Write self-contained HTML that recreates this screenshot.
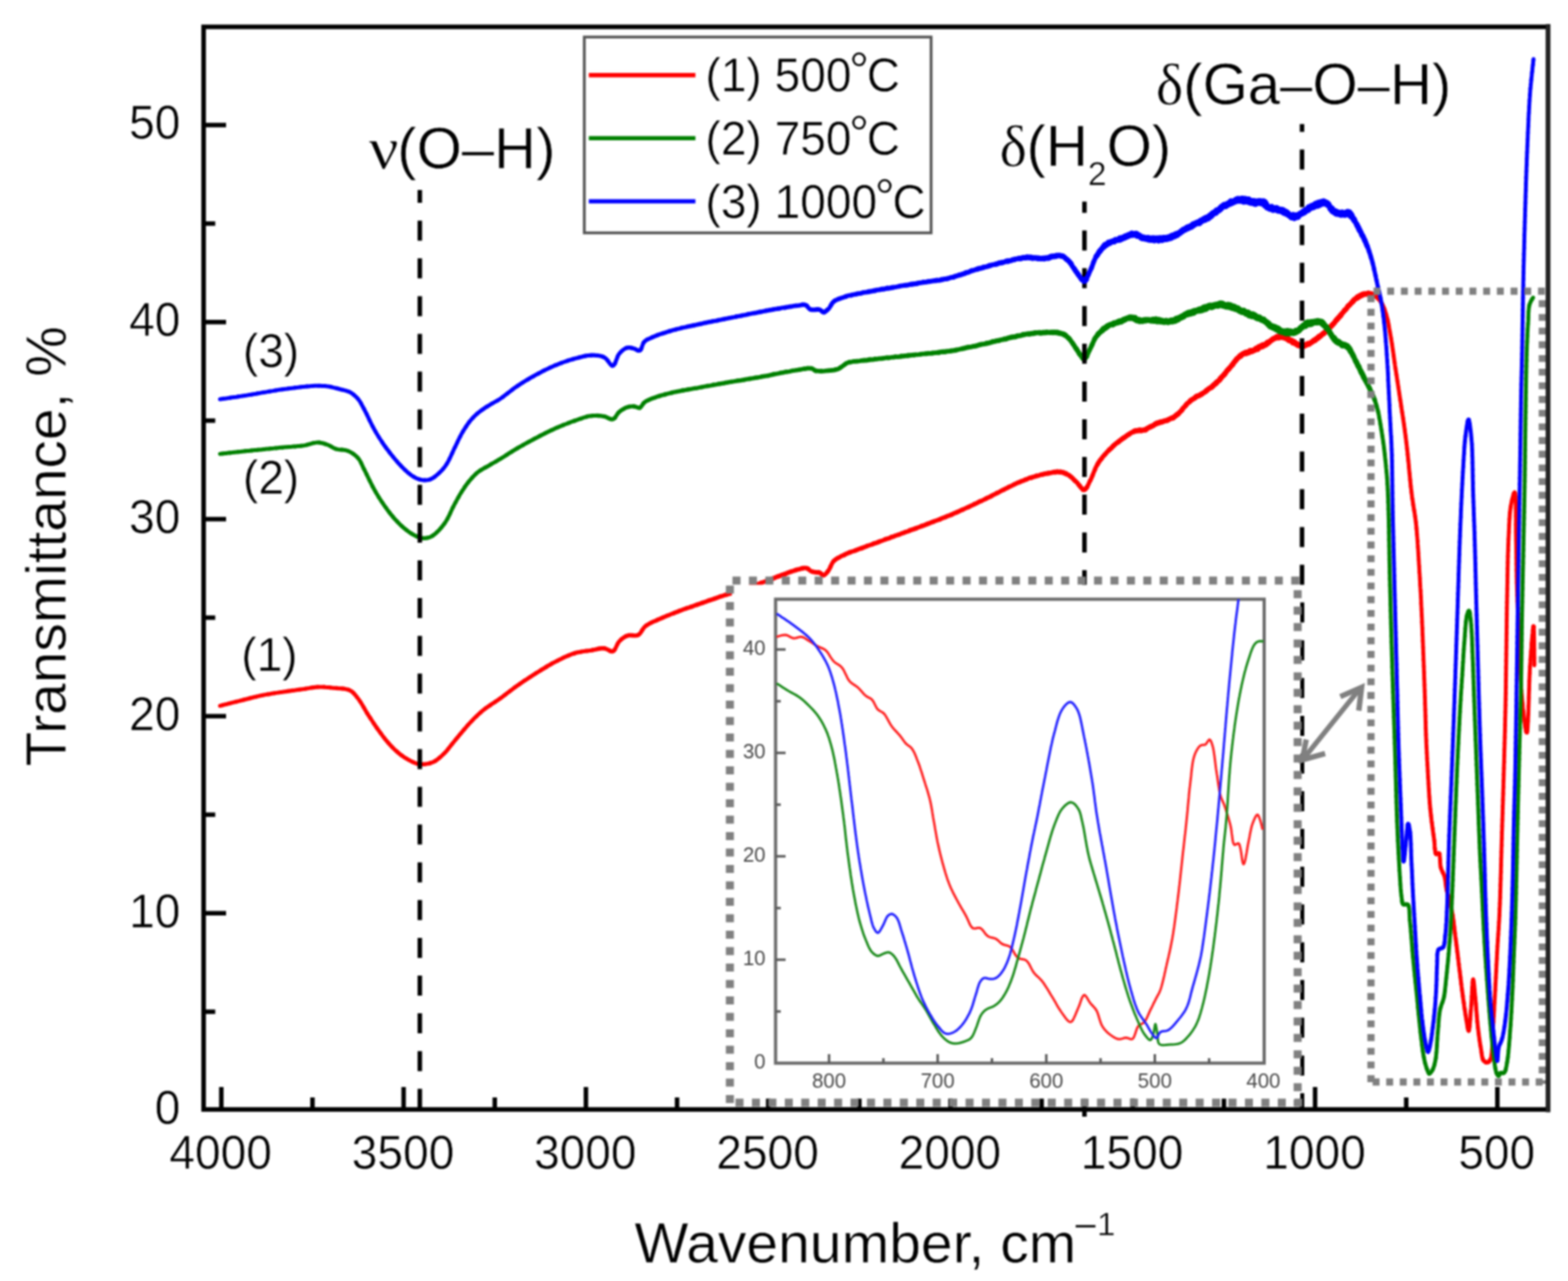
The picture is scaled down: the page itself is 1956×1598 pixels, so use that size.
<!DOCTYPE html>
<html lang="en">
<head>
<meta charset="utf-8">
<title>FTIR transmittance spectra</title>
<style>
html,body{margin:0;padding:0;background:#fff}
body{width:1956px;height:1598px;overflow:hidden}
svg{display:block}
</style>
</head>
<body>
<svg width="1956" height="1598" viewBox="0 0 1956 1598" role="img" aria-label="FTIR transmittance spectra">
<defs><filter id="soft" x="0" y="0" width="100%" height="100%" filterUnits="userSpaceOnUse" color-interpolation-filters="sRGB"><feGaussianBlur stdDeviation="0.9"/></filter></defs>
<g filter="url(#soft)">
<rect width="1956" height="1598" fill="#fff"/>
<g stroke="#000" stroke-width="5.6" fill="none">
<line x1="276.1" y1="1356" x2="276.1" y2="1384"/>
<line x1="503.5" y1="1356" x2="503.5" y2="1384"/>
<line x1="730.9" y1="1356" x2="730.9" y2="1384"/>
<line x1="958.3" y1="1356" x2="958.3" y2="1384"/>
<line x1="1185.7" y1="1356" x2="1185.7" y2="1384"/>
<line x1="1413.1" y1="1356" x2="1413.1" y2="1384"/>
<line x1="1640.5" y1="1356" x2="1640.5" y2="1384"/>
<line x1="1867.9" y1="1356" x2="1867.9" y2="1384"/>
<line x1="389.8" y1="1369" x2="389.8" y2="1384"/>
<line x1="617.2" y1="1369" x2="617.2" y2="1384"/>
<line x1="844.6" y1="1369" x2="844.6" y2="1384"/>
<line x1="1072.0" y1="1369" x2="1072.0" y2="1384"/>
<line x1="1299.4" y1="1369" x2="1299.4" y2="1384"/>
<line x1="1526.8" y1="1369" x2="1526.8" y2="1384"/>
<line x1="1754.2" y1="1369" x2="1754.2" y2="1384"/>
<line x1="254" y1="1139.2" x2="282" y2="1139.2"/>
<line x1="254" y1="893.4" x2="282" y2="893.4"/>
<line x1="254" y1="647.6" x2="282" y2="647.6"/>
<line x1="254" y1="401.8" x2="282" y2="401.8"/>
<line x1="254" y1="156.0" x2="282" y2="156.0"/>
<line x1="254" y1="1262.1" x2="268.5" y2="1262.1"/>
<line x1="254" y1="1016.3" x2="268.5" y2="1016.3"/>
<line x1="254" y1="770.5" x2="268.5" y2="770.5"/>
<line x1="254" y1="524.7" x2="268.5" y2="524.7"/>
<line x1="254" y1="278.9" x2="268.5" y2="278.9"/>
</g>
<g fill="none" stroke="#ff0000" stroke-linecap="round" stroke-linejoin="round"><path stroke-width="5.0" d="M274.5 880.5L274.7 880.5L275.4 880.2L276.4 880L277.8 879.6"/><path stroke-width="5.0" d="M277.8 879.7L279.4 879.2L281.3 878.7L283.5 878.2L285.7 877.6"/><path stroke-width="5.0" d="M285.7 877.7L288.1 877L290.5 876.4L293 875.8L295.4 875.2"/><path stroke-width="5.0" d="M295.4 875.1L297.8 874.6L300 874L302.1 873.5L304 873"/><path stroke-width="5.0" d="M304 873L306 872.5L308 872L309.9 871.5L311.8 871"/><path stroke-width="5.0" d="M311.8 871L313.8 870.5L315.7 870L317.6 869.5L319.5 869.1"/><path stroke-width="5.0" d="M319.5 869.1L321.4 868.7L323.3 868.2L325.2 867.8L327.1 867.4"/><path stroke-width="5.0" d="M327.1 867.4L329 867L330.9 866.6L332.8 866.3L334.8 866"/><path stroke-width="5.0" d="M334.8 865.9L336.7 865.7L338.6 865.3L340.5 865L342.4 864.7"/><path stroke-width="5.0" d="M342.4 864.7L344.4 864.4L346.3 864.1L348.2 863.9L350.1 863.6"/><path stroke-width="5.1" d="M350.1 863.5L352.1 863.3L354 863L355.9 862.7L357.9 862.4"/><path stroke-width="5.1" d="M357.9 862.5L359.9 862.1L361.8 861.9L363.8 861.5L365.8 861.3"/><path stroke-width="5.0" d="M365.8 861.4L367.8 861.1L369.7 860.8L371.6 860.5L373.5 860.3"/><path stroke-width="5.0" d="M373.5 860.3L375.4 860L377.2 859.7L379 859.5L381.1 859.2"/><path stroke-width="5.0" d="M381.1 859.2L383.1 858.8L385.1 858.5L387 858.1L388.9 857.8"/><path stroke-width="5.1" d="M388.9 857.9L390.8 857.6L392.7 857.4L394.6 857.1L396.5 857"/><path stroke-width="5.0" d="M396.5 857L398.4 857L400.3 856.9L402.2 857L404.2 857.1"/><path stroke-width="5.0" d="M404.2 857.1L406.1 857.3L408 857.4L410 857.5L412 857.8"/><path stroke-width="5.0" d="M412 857.8L414 858.1L415.8 858.2L417.7 858.3L419.7 858.4"/><path stroke-width="5.1" d="M419.7 858.4L421.7 858.6L423.7 858.7L425.8 858.9L427.8 859.1"/><path stroke-width="5.1" d="M427.8 859L429.7 859.3L431.6 859.7L433.4 860L435 860.6"/><path stroke-width="5.0" d="M435 860.6L436.5 861.2L438.1 862.1L439.5 863.1L440.8 864.3"/><path stroke-width="5.0" d="M440.8 864.3L441.9 865.5L443.1 866.9L444.2 868.3L445.3 869.7"/><path stroke-width="4.9" d="M445.3 869.7L446.5 871.2L447.6 872.6L448.6 874.2L449.7 875.7"/><path stroke-width="4.9" d="M449.7 875.7L450.7 877.3L451.7 879L452.8 880.8L453.8 882.6"/><path stroke-width="5.0" d="M453.8 882.5L454.8 884.3L455.9 886.1L456.9 887.9L457.9 889.6"/><path stroke-width="5.0" d="M457.9 889.6L459 891.3L460 892.9L461.1 894.5L462.1 896"/><path stroke-width="4.9" d="M462.1 896L463.1 897.6L464.2 899.2L465.2 900.8L466.2 902.4"/><path stroke-width="5.0" d="M466.2 902.3L467.3 903.9L468.3 905.5L469.4 907L470.4 908.5"/><path stroke-width="5.0" d="M470.4 908.5L471.5 910L472.6 911.5L473.7 913.1L474.8 914.6"/><path stroke-width="4.9" d="M474.8 914.6L476 916.1L477.1 917.7L478.2 919.2L479.4 920.6"/><path stroke-width="5.0" d="M479.4 920.7L480.5 922.1L481.7 923.5L482.8 924.9L484 926.2"/><path stroke-width="5.0" d="M484 926.2L485.3 927.8L486.7 929.3L488.1 930.8L489.4 932.2"/><path stroke-width="5.0" d="M489.4 932.2L490.8 933.5L492.2 934.9L493.6 936.3L495.1 937.5"/><path stroke-width="5.1" d="M495.1 937.5L496.5 938.7L498 940L499.5 941.2L501.1 942.4"/><path stroke-width="5.1" d="M501.1 942.4L502.7 943.5L504.2 944.6L505.8 945.6L507.4 946.5"/><path stroke-width="5.0" d="M507.4 946.5L509 947.5L510.8 948.5L512.5 949.4L514.4 950.4"/><path stroke-width="5.1" d="M514.4 950.4L516.2 951.2L518 951.9L519.8 952.5L521.5 952.9"/><path stroke-width="5.2" d="M521.5 953L523.5 953.3L525.6 953.5L527.5 953.4L529.5 953.3"/><path stroke-width="5.1" d="M529.5 953.2L531.5 953L533.2 952.7L534.8 952.4L536.5 952"/><path stroke-width="5.1" d="M536.5 952L538.2 951.4L539.8 950.9L541.5 950L542.9 949.2"/><path stroke-width="5.1" d="M542.9 949.3L544.3 948.3L545.7 947.4L547.1 946.2L548.5 945.1"/><path stroke-width="5.0" d="M548.5 945L549.9 943.8L551.3 942.6L552.7 941.2L554 940"/><path stroke-width="5.0" d="M554 940L555.3 938.7L556.6 937.3L557.9 935.8L559.1 934.3"/><path stroke-width="5.0" d="M559.1 934.3L560.3 932.7L561.6 931.2L562.8 929.6L564 928"/><path stroke-width="5.0" d="M564 928.1L565.3 926.5L566.5 925L567.7 923.5L569 922"/><path stroke-width="5.0" d="M569 922L570.2 920.5L571.5 919L572.7 917.4L574 915.9"/><path stroke-width="5.0" d="M574 916L575.2 914.5L576.5 913L577.7 911.5L579 910"/><path stroke-width="5.0" d="M579 910L580.2 908.6L581.5 907.1L582.7 905.7L583.9 904.3"/><path stroke-width="5.0" d="M583.9 904.3L585.2 902.9L586.4 901.6L587.7 900.2L589 898.9"/><path stroke-width="5.0" d="M589 898.9L590.2 897.6L591.5 896.2L592.8 895L594.2 893.7"/><path stroke-width="5.0" d="M594.2 893.7L595.5 892.4L596.8 891.1L598.2 890L599.5 888.7"/><path stroke-width="5.0" d="M599.5 888.7L601 887.5L602.4 886.2L604 885L605.4 883.9"/><path stroke-width="5.1" d="M605.4 883.9L606.8 882.9L608.3 881.9L609.8 880.8L611.3 879.8"/><path stroke-width="5.1" d="M611.3 879.8L612.9 878.7L614.5 877.7L616.1 876.7L617.7 875.6"/><path stroke-width="5.1" d="M617.7 875.5L619.3 874.4L620.9 873.5L622.5 872.3L624 871.2"/><path stroke-width="5.1" d="M624 871.3L625.5 870.2L627.1 869L628.6 867.8L630.1 866.7"/><path stroke-width="5.1" d="M630.1 866.7L631.6 865.5L633.2 864.3L634.7 863.2L636.2 862"/><path stroke-width="5.0" d="M636.2 862.1L637.7 860.9L639.3 859.7L640.8 858.5L642.4 857.4"/><path stroke-width="5.1" d="M642.4 857.4L644 856.2L645.6 855.1L647.1 854.1L648.7 853"/><path stroke-width="5.1" d="M648.7 852.9L650.3 851.9L651.8 850.8L653.4 849.7L655 848.6"/><path stroke-width="5.1" d="M655 848.6L656.7 847.6L658.3 846.5L659.9 845.5L661.5 844.4"/><path stroke-width="5.1" d="M661.5 844.4L663.2 843.3L664.8 842.2L666.5 841.2L668.1 840.2"/><path stroke-width="5.1" d="M668.1 840.2L669.7 839.1L671.4 838.2L673 837.2L674.7 836"/><path stroke-width="5.2" d="M674.7 836.1L676.3 835L678 834.1L679.7 833L681.4 832"/><path stroke-width="5.2" d="M681.4 832L683 830.9L684.7 830L686.4 829.1L688.1 828.1"/><path stroke-width="5.1" d="M688.1 828L689.8 827.1L691.5 826.2L693.3 825.3L695 824.4"/><path stroke-width="5.1" d="M695 824.4L696.8 823.4L698.6 822.6L700.4 821.7L702.2 820.8"/><path stroke-width="5.1" d="M702.2 820.8L704 819.9L705.8 819.1L707.6 818.3L709.4 817.6"/><path stroke-width="5.2" d="M709.4 817.7L711.2 816.9L713 816.2L714.8 815.5L716.5 815.1"/><path stroke-width="5.2" d="M716.5 815L718.5 814.3L720.4 813.9L722.4 813.5L724.3 813.2"/><path stroke-width="5.2" d="M724.3 813.2L726.3 812.8L728.2 812.5L730.1 812.2L732 812"/><path stroke-width="5.2" d="M732 812L733.9 811.8L735.7 811.5L737.5 811.3L739.4 810.9"/><path stroke-width="5.3" d="M739.4 810.9L741.3 810.5L743.2 810.2L745.1 809.6L746.9 809.3"/><path stroke-width="5.4" d="M746.9 809.2L748.7 809L750.4 808.8L752.1 808.6L753.8 808.8"/><path stroke-width="5.3" d="M753.8 808.8L755.7 809.3L757.6 810.2L759.5 811.1L761.3 812.1"/><path stroke-width="5.3" d="M761.3 812.1L762.9 812.7L764.5 812.6L765.7 811.8L766.7 810.6"/><path stroke-width="5.0" d="M766.7 810.5L767.7 808.9L768.6 807L769.5 805.1L770.4 803.2"/><path stroke-width="5.1" d="M770.4 803.2L771.4 801.5L772.5 800L773.8 798.8L775.1 797.6"/><path stroke-width="5.2" d="M775.1 797.4L776.5 796.5L777.9 795.4L779.4 794.5L780.9 793.7"/><path stroke-width="5.4" d="M780.9 793.6L782.5 793.1L784.3 792.5L786.3 792.4L788.4 792.6"/><path stroke-width="5.4" d="M788.4 792.5L790.5 792.8L792.6 792.9L794.5 792.6L796.2 792"/><path stroke-width="5.1" d="M796.2 792L797.7 791L798.9 789.6L800 788L801.1 786.1"/><path stroke-width="5.1" d="M801.1 786.2L802.2 784.5L803.5 782.7L805 781.3L806.3 780.2"/><path stroke-width="5.2" d="M806.3 780.2L807.7 779.4L809.2 778.5L810.8 777.6L812.5 776.7"/><path stroke-width="5.3" d="M812.5 776.7L814.2 775.9L816 775.1L817.8 774.5L819.6 773.5"/><path stroke-width="5.4" d="M819.6 773.7L821.4 772.7L823.2 772L825 771.3L826.7 770.6"/><path stroke-width="5.3" d="M826.7 770.4L828.4 769.7L830.1 769.1L831.9 768.2L833.7 767.6"/><path stroke-width="5.3" d="M833.7 767.6L835.5 766.9L837.3 766L839.1 765.5L840.9 764.7"/><path stroke-width="5.5" d="M840.9 764.7L842.7 763.9L844.6 763.4L846.4 762.6L848.2 761.8"/><path stroke-width="5.3" d="M848.2 761.9L850 761.2L851.8 760.5L853.6 759.8L855.3 759.3"/><path stroke-width="5.4" d="M855.3 759.4L857.1 758.5L858.9 758.1L860.7 757.5L862.5 756.7"/><path stroke-width="5.5" d="M862.5 756.9L864.3 756.3L866.1 755.5L867.9 754.9L869.6 754.3"/><path stroke-width="5.5" d="M869.6 754.4L871.4 753.7L873.2 753.1L875 752.4L876.8 751.7"/><path stroke-width="5.4" d="M876.8 752L878.6 751.2L880.5 750.7L882.4 749.8L884.3 749.1"/><path stroke-width="5.5" d="M884.3 749.1L886.2 748.5L888 748L889.9 747.3L891.7 746.7"/><path stroke-width="5.5" d="M891.7 746.7L893.5 746.1L895.2 745.4L896.9 744.9L898.5 744.1"/><path stroke-width="5.5" d="M898.5 744.2L900 743.8L902 743.2L903.7 742.5L905.3 742"/><path stroke-width="5.6" d="M905.3 742L906.9 741.7L908.6 741.1L910.4 740.6L912.5 740.1"/><path stroke-width="5.6" d="M912.5 739.9L913.9 739.6L915.5 739L917.1 738.5L918.8 737.9"/><path stroke-width="5.4" d="M918.8 737.8L920.6 737.3L922.4 736.9L924.3 736.1L926.2 735.3"/><path stroke-width="5.6" d="M926.2 735.6L928.2 734.8L930.2 734L932.2 733.3L934.2 732.6"/><path stroke-width="5.5" d="M934.2 732.6L936.2 731.9L938.2 731.2L940.1 730.7L942 730.1"/><path stroke-width="5.6" d="M942 729.9L943.9 729.3L945.7 728.6L947.5 728L949.4 727.2"/><path stroke-width="5.4" d="M949.4 727.2L951.4 726.7L953.3 725.7L955.2 725.1L957.1 724.4"/><path stroke-width="5.7" d="M957.1 724.3L959 723.6L960.8 722.9L962.7 722.2L964.5 721.5"/><path stroke-width="5.7" d="M964.5 721.6L966.3 720.9L968.1 720L969.8 719.3L971.6 718.8"/><path stroke-width="5.7" d="M971.6 718.8L973.3 718.2L975 717.3L977 716.7L978.9 716.2"/><path stroke-width="5.7" d="M978.9 716.2L980.8 715.5L982.7 714.5L984.6 713.8L986.4 713.1"/><path stroke-width="5.6" d="M986.4 713.3L988.3 712.7L990 712.1L991.7 711.5L993.4 711"/><path stroke-width="5.6" d="M993.4 710.9L995 710.3L997.1 710.1L999.1 709.3L1001.1 709.1"/><path stroke-width="5.7" d="M1001.1 708.9L1002.9 708.5L1004.6 708.5L1006.2 708.8L1007.9 709.6"/><path stroke-width="5.4" d="M1007.9 709.4L1009.4 710.7L1010.8 712L1012.5 713L1014 713.3"/><path stroke-width="5.7" d="M1014 713.2L1015.8 713.6L1017.6 713.8L1019.3 714.1L1021 714.2"/><path stroke-width="5.7" d="M1021 714.1L1022.5 714.4L1024.3 715.6L1025.9 717.1L1027.5 717.6"/><path stroke-width="5.4" d="M1027.5 717.4L1028.8 717L1030 716L1031.3 714.5L1032.6 712.8"/><path stroke-width="5.3" d="M1032.6 712.9L1033.8 711.2L1034.7 709.7L1035.5 708.2L1036.2 706.5"/><path stroke-width="5.3" d="M1036.2 706.5L1037 704.9L1037.8 703.1L1038.8 701.5L1040 699.9"/><path stroke-width="5.6" d="M1040 699.9L1041.3 698.9L1042.7 697.6L1044.3 696.6L1045.9 695.8"/><path stroke-width="5.5" d="M1045.9 695.8L1047.7 694.8L1049.5 693.7L1051.3 692.9L1053.2 692.1"/><path stroke-width="5.7" d="M1053.2 692.3L1055 691.1L1056.7 690.5L1058.3 689.7L1060 689.3"/><path stroke-width="5.5" d="M1060 688.9L1061.7 688.3L1063.5 687.8L1065.3 687.3L1067.1 686.7"/><path stroke-width="5.7" d="M1067.1 686.7L1069 686L1070.9 685.1L1072.9 684.4L1075 683.9"/><path stroke-width="5.7" d="M1075 683.6L1076.6 683.2L1078.3 682.5L1080 681.9L1081.7 681.2"/><path stroke-width="5.5" d="M1081.7 681.1L1083.6 680.5L1085.4 679.9L1087.3 679.4L1089.2 678.4"/><path stroke-width="5.8" d="M1089.2 678.4L1091.1 677.8L1093 677.2L1095 676.5L1096.9 675.7"/><path stroke-width="5.5" d="M1096.9 675.7L1098.9 674.9L1100.9 674.4L1102.9 673.4L1104.8 672.8"/><path stroke-width="5.7" d="M1104.8 672.6L1106.8 672.1L1108.7 671.5L1110.6 670.8L1112.5 669.8"/><path stroke-width="5.5" d="M1112.5 669.8L1114.4 669.5L1116.2 668.5L1118.1 668L1120 667.4"/><path stroke-width="5.6" d="M1120 667.2L1121.9 666.8L1123.7 665.9L1125.6 665.1L1127.5 664.6"/><path stroke-width="5.6" d="M1127.5 664.5L1129.4 663.7L1131.2 663.3L1133.1 662.7L1135 661.9"/><path stroke-width="5.8" d="M1135 661.6L1136.8 661L1138.7 660.4L1140.6 659.9L1142.5 659.2"/><path stroke-width="5.6" d="M1142.5 659L1144.4 658.3L1146.2 657.7L1148.1 657.1L1150 656.1"/><path stroke-width="5.7" d="M1150 656.3L1151.8 655.7L1153.6 655L1155.5 654.2L1157.3 653.4"/><path stroke-width="5.6" d="M1157.3 653.5L1159.1 652.9L1160.9 652L1162.8 651.3L1164.6 650.8"/><path stroke-width="5.5" d="M1164.6 650.6L1166.4 649.9L1168.3 649.4L1170.1 648.6L1171.9 648.1"/><path stroke-width="5.7" d="M1171.9 648.1L1173.8 647.2L1175.6 646.4L1177.4 645.7L1179.3 645.1"/><path stroke-width="5.7" d="M1179.3 645L1181.1 644.2L1182.9 643.5L1184.8 642.9L1186.6 642.1"/><path stroke-width="5.7" d="M1186.6 642.2L1188.5 641.3L1190.3 640.3L1192.1 639.8L1193.9 638.9"/><path stroke-width="5.6" d="M1193.9 638.9L1195.6 638.2L1197.4 637.2L1199.2 636.4L1201 635.6"/><path stroke-width="5.5" d="M1201 635.8L1202.8 634.9L1204.6 634L1206.4 633.2L1208.2 632.6"/><path stroke-width="5.6" d="M1208.2 632.3L1210 631.6L1211.8 630.7L1213.6 630L1215.4 628.8"/><path stroke-width="5.6" d="M1215.4 629.1L1217.2 628.2L1219 627.4L1220.9 626.2L1222.7 625.4"/><path stroke-width="5.5" d="M1222.7 625.4L1224.5 624.8L1226.3 623.8L1228.2 623L1230 622"/><path stroke-width="5.7" d="M1230 622L1231.7 621.1L1233.4 620.4L1235.2 619.6L1237 618.5"/><path stroke-width="5.6" d="M1237 618.6L1238.7 617.6L1240.5 616.7L1242.3 615.8L1244.1 614.8"/><path stroke-width="5.5" d="M1244.1 615L1245.9 614.1L1247.7 613L1249.6 612L1251.4 611.2"/><path stroke-width="5.7" d="M1251.4 611.1L1253.2 610.3L1255 609.3L1256.7 608.6L1258.5 607.6"/><path stroke-width="5.5" d="M1258.5 607.5L1260.3 606.7L1262 605.9L1263.7 605.1L1265.4 604.1"/><path stroke-width="5.6" d="M1265.4 604.3L1267.1 603.4L1268.7 602.6L1270.3 601.9L1271.9 601.5"/><path stroke-width="5.7" d="M1271.9 601.3L1273.5 600.6L1275 600L1277 599.4L1278.9 598.7"/><path stroke-width="5.7" d="M1278.9 598.3L1280.8 597.9L1282.6 597L1284.4 596.2L1286.2 596"/><path stroke-width="5.8" d="M1286.2 596L1288 595.2L1289.7 594.9L1291.4 594.2L1293.1 593.6"/><path stroke-width="5.7" d="M1293.1 593.8L1294.8 593.4L1296.5 593L1298.3 592.2L1300 592.1"/><path stroke-width="5.9" d="M1300 592L1301.9 591.4L1303.9 591L1305.9 590.7L1307.9 590.5"/><path stroke-width="5.8" d="M1307.9 590.2L1309.9 590L1311.9 589.7L1313.8 589L1315.7 588.7"/><path stroke-width="6.2" d="M1315.7 589.2L1317.6 588.7L1319.3 588.4L1321 588.9L1322.5 588.7"/><path stroke-width="6.2" d="M1322.5 588.8L1324.4 589.2L1326.2 589.3L1327.8 590.2L1329.4 590.6"/><path stroke-width="5.9" d="M1329.4 591L1330.9 591.8L1332.5 592.3L1334 593.3L1335.5 594.5"/><path stroke-width="5.8" d="M1335.5 594.5L1336.9 595.6L1338.3 596.9L1339.7 598.5L1341.1 599.9"/><path stroke-width="5.6" d="M1341.1 599.7L1342.5 601.1L1343.8 602.2L1345.1 604.1L1346.4 605.5"/><path stroke-width="5.8" d="M1346.4 605.6L1347.7 607.3L1348.9 608.7L1350.2 610L1351.4 610.8"/><path stroke-width="5.9" d="M1351.4 610.9L1352.5 611L1353.7 610.5L1354.8 609.1L1355.9 607.8"/><path stroke-width="5.4" d="M1355.9 607.7L1356.9 605.9L1357.9 603.8L1358.9 601.5L1360 599.4"/><path stroke-width="5.4" d="M1360 599.4L1360.8 597.9L1361.5 596.5L1362.2 594.8L1362.9 593.1"/><path stroke-width="5.3" d="M1362.9 593L1363.6 591.4L1364.3 589.5L1365 587.9L1365.8 586.1"/><path stroke-width="5.4" d="M1365.8 585.9L1366.5 584.2L1367.3 582.4L1368.2 580.9L1369.1 579"/><path stroke-width="5.8" d="M1369.1 579.3L1370 577.6L1371.1 576L1372.2 574.2L1373.4 572.9"/><path stroke-width="5.8" d="M1373.4 573L1374.6 571.4L1375.8 569.6L1377.1 568.4L1378.4 567"/><path stroke-width="5.7" d="M1378.4 566.7L1379.7 565.5L1381 563.8L1382.4 562.8L1383.7 561.2"/><path stroke-width="6.1" d="M1383.7 561.1L1385 560L1386.5 558.8L1387.9 557.1L1389.4 555.8"/><path stroke-width="6.0" d="M1389.4 555.8L1390.9 554.4L1392.4 553.2L1393.9 552L1395.4 551.2"/><path stroke-width="6.2" d="M1395.4 551.2L1396.9 549.6L1398.5 548.8L1400 547.3L1401.6 546.3"/><path stroke-width="6.2" d="M1401.6 546.2L1403.3 545.3L1405 543.9L1406.6 542.7L1408.3 541.8"/><path stroke-width="6.1" d="M1408.3 541.9L1410 540.6L1411.7 539.5L1413.3 538.9L1415 537.8"/><path stroke-width="6.8" d="M1415 538.1L1416.8 537.4L1418.6 537.4L1420.3 537L1422.1 536.8"/><path stroke-width="6.7" d="M1422.1 536.6L1423.9 537.2L1425.7 536.5L1427.5 536.4L1429.1 536.1"/><path stroke-width="6.5" d="M1429.1 535.8L1430.7 534.8L1432.3 533.8L1433.9 533L1435.6 532.1"/><path stroke-width="6.6" d="M1435.6 532.3L1437.2 531.5L1438.9 530.8L1440.7 529.3L1442.5 528.5"/><path stroke-width="6.8" d="M1442.5 528.4L1444.1 527.7L1445.7 527.4L1447.4 526.6L1449.2 526.2"/><path stroke-width="6.5" d="M1449.2 526.4L1451 525.9L1452.8 525L1454.6 524.8L1456.4 524"/><path stroke-width="6.5" d="M1456.4 524.4L1458.2 523.2L1460 522.3L1461.7 521.5L1463.4 521.1"/><path stroke-width="6.7" d="M1463.4 521.2L1465 519.9L1466.5 518.8L1467.9 517.5L1469.3 516.7"/><path stroke-width="6.3" d="M1469.3 516.5L1470.6 515.4L1471.9 513.9L1473.2 512.8L1474.5 511.2"/><path stroke-width="6.1" d="M1474.5 511.3L1475.8 509.2L1477.1 508.1L1478.4 506.5L1479.6 505"/><path stroke-width="6.2" d="M1479.6 505.4L1480.9 503.4L1482.3 502.5L1483.6 501.5L1485 499.7"/><path stroke-width="6.5" d="M1485 500.1L1486.6 498.8L1488.3 497.7L1490 496.8L1491.7 495.2"/><path stroke-width="6.7" d="M1491.7 495.3L1493.4 494L1495.1 493.9L1496.8 492.8L1498.5 491.8"/><path stroke-width="6.5" d="M1498.5 491.9L1500.2 490.8L1501.9 489.6L1503.5 488.8L1505 487.5"/><path stroke-width="6.6" d="M1505 487.1L1506.6 486.1L1508.2 484.7L1509.8 483.8L1511.3 483"/><path stroke-width="6.9" d="M1511.3 483L1512.8 481.7L1514.2 480.1L1515.7 479.1L1517.1 477.7"/><path stroke-width="6.8" d="M1517.1 477.8L1518.6 476.2L1520 475.1L1521.3 474.1L1522.6 472.1"/><path stroke-width="6.7" d="M1522.6 471.9L1523.9 470.7L1525.1 469.2L1526.4 468.1L1527.7 466.7"/><path stroke-width="6.6" d="M1527.7 466.2L1528.9 465.1L1530.1 463.2L1531.4 461.6L1532.6 460.6"/><path stroke-width="6.6" d="M1532.6 460.5L1533.8 459L1535 457.9L1536.3 456L1537.5 454.8"/><path stroke-width="6.7" d="M1537.5 454.8L1538.7 453L1539.8 451.7L1541 450.2L1542.2 448.6"/><path stroke-width="6.6" d="M1542.2 448.8L1543.4 447L1544.7 446.4L1546.1 444.5L1547.5 443.3"/><path stroke-width="7.0" d="M1547.5 444.2L1549.1 442.6L1550.7 441.4L1552.4 440.5L1554.2 439.8"/><path stroke-width="7.7" d="M1554.2 440.5L1556 439.9L1557.9 439.3L1559.7 437.8L1561.5 437.8"/><path stroke-width="7.3" d="M1561.5 438.1L1563.3 437.4L1565 436.7L1566.7 434.9L1568.5 435.1"/><path stroke-width="7.8" d="M1568.5 435.2L1570.2 433.4L1571.9 432.6L1573.6 431.7L1575.2 430.8"/><path stroke-width="7.7" d="M1575.2 431.7L1576.8 430.6L1578.4 430L1580 428.9L1581.6 427.5"/><path stroke-width="6.8" d="M1581.6 427.3L1583.2 427L1584.7 425.3L1586.2 424.3L1587.7 423.3"/><path stroke-width="7.0" d="M1587.7 423.1L1589.1 422.2L1590.6 421.9L1592 420.8L1593.6 420.3"/><path stroke-width="8.2" d="M1593.6 420.5L1595.2 420.6L1596.8 420.1L1598.4 419.4L1600 420.1"/><path stroke-width="7.4" d="M1600 420.5L1601.5 420.4L1603.1 421.5L1604.7 422.1L1606.3 422.7"/><path stroke-width="7.7" d="M1606.3 422.6L1608 424.4L1609.6 424.6L1611.3 425.2L1612.9 426.2"/><path stroke-width="7.6" d="M1612.9 427.1L1614.5 426.9L1616.1 428.4L1617.8 429.3L1619.4 430.5"/><path stroke-width="7.4" d="M1619.4 430.1L1621.1 430.6L1622.8 431.7L1624.4 431.1L1626 431.8"/><path stroke-width="7.3" d="M1626 430.9L1627.7 431.1L1629.3 430.3L1631 429.1L1632.7 428.9"/><path stroke-width="6.9" d="M1632.7 429L1634.3 428L1636 427.1L1637.6 425.9L1639.1 424.7"/><path stroke-width="7.1" d="M1639.1 424.8L1640.7 424.3L1642.2 422.4L1643.7 422.1L1645.3 420"/><path stroke-width="6.8" d="M1645.3 420.3L1646.8 419.7L1648.3 418.1L1649.8 416.8L1651.2 416.1"/><path stroke-width="6.8" d="M1651.2 415.7L1652.6 414.5L1654.1 413.4L1655.6 412L1657 410.6"/><path stroke-width="6.7" d="M1657 410.3L1658.4 408.7L1659.7 407.9L1661.1 406.4L1662.4 405"/><path stroke-width="6.5" d="M1662.4 404.7L1663.8 403.5L1665.1 402L1666.3 400.1L1667.6 399"/><path stroke-width="6.9" d="M1667.6 398.8L1668.9 397.3L1670.1 395.9L1671.3 394.7L1672.6 393.3"/><path stroke-width="6.4" d="M1672.6 392.8L1673.8 391.4L1675.1 390L1676.3 388.6L1677.6 386.8"/><path stroke-width="6.5" d="M1677.6 386.8L1678.8 386L1680.1 384.3L1681.3 382.2L1682.5 381.5"/><path stroke-width="6.6" d="M1682.5 381L1683.8 380.1L1685.1 378.6L1686.4 377.2L1687.8 375.7"/><path stroke-width="6.8" d="M1687.8 375.9L1689.1 374.1L1690.5 373L1691.9 372.1L1693.3 370.6"/><path stroke-width="7.3" d="M1693.3 371.4L1694.8 370.3L1696.2 369.2L1697.6 368.7L1699.5 367.6"/><path stroke-width="7.1" d="M1699.5 367.8L1701.4 366.9L1703.2 366.7L1705.1 366.6L1707 366"/><path stroke-width="6.8" d="M1707 366.3L1708.9 366.3L1710.9 366.6L1712.8 367.7L1714.7 368.7"/><path stroke-width="6.0" d="M1714.7 368.5L1716.4 369.7L1717.6 370.6L1718.8 371.7L1719.9 372.9"/><path stroke-width="5.3" d="M1719.9 373L1721 374.2L1722 375.8L1723 377.4L1723.9 379"/><path stroke-width="5.1" d="M1723.9 378.9L1724.7 380.3L1725.4 381.8L1726.1 383.4L1726.7 385"/><path stroke-width="5.1" d="M1726.7 385L1727.3 386.6L1727.9 388.4L1728.5 390.2L1729 392"/><path stroke-width="5.0" d="M1729 392L1729.6 393.9L1730 395.5L1730.5 397.1L1730.9 398.9"/><path stroke-width="5.0" d="M1730.9 398.9L1731.3 400.6L1731.7 402.4L1732 404.3L1732.4 406.2"/><path stroke-width="4.9" d="M1732.4 406.2L1732.8 408.1L1733.1 410L1733.5 412L1733.8 414"/><path stroke-width="4.9" d="M1733.8 414L1734.2 416L1734.5 418L1734.9 420L1735.2 422"/><path stroke-width="4.9" d="M1735.2 422L1735.5 423.7L1735.8 425.5L1736.1 427.3L1736.4 429.2"/><path stroke-width="4.9" d="M1736.4 429.2L1736.7 431L1736.9 432.9L1737.2 434.7L1737.5 436.7"/><path stroke-width="4.9" d="M1737.5 436.6L1737.8 438.5L1738.1 440.5L1738.3 442.4L1738.6 444.3"/><path stroke-width="4.9" d="M1738.6 444.3L1738.9 446.2L1739.1 448.2L1739.4 450.1L1739.7 452"/><path stroke-width="4.9" d="M1739.7 452L1740 453.9L1740.2 455.8L1740.5 457.7L1740.8 459.6"/><path stroke-width="4.9" d="M1740.8 459.6L1741.1 461.6L1741.4 463.5L1741.7 465.5L1742 467.5"/><path stroke-width="4.9" d="M1742 467.5L1742.3 469.5L1742.6 471.4L1742.9 473.4L1743.2 475.4"/><path stroke-width="4.9" d="M1743.2 475.4L1743.5 477.4L1743.8 479.3L1744.1 481.3L1744.4 483.3"/><path stroke-width="4.9" d="M1744.4 483.3L1744.7 485.3L1745 487.2L1745.3 489.2L1745.6 491.2"/><path stroke-width="4.9" d="M1745.6 491.2L1745.9 493.2L1746.2 495.1L1746.5 497.1L1746.8 499"/><path stroke-width="4.9" d="M1746.8 499L1747.1 500.9L1747.4 502.8L1747.7 504.7L1747.9 506.6"/><path stroke-width="4.9" d="M1747.9 506.6L1748.2 508.5L1748.5 510.5L1748.8 512.4L1749.1 514.3"/><path stroke-width="4.9" d="M1749.1 514.4L1749.4 516.3L1749.7 518.2L1750 520.1L1750.3 522"/><path stroke-width="4.9" d="M1750.3 522L1750.6 523.9L1750.8 525.7L1751.1 527.5L1751.4 529.4"/><path stroke-width="4.9" d="M1751.4 529.4L1751.6 531.2L1751.9 533L1752.1 534.7L1752.4 536.7"/><path stroke-width="4.9" d="M1752.4 536.7L1752.6 538.7L1752.9 540.6L1753.2 542.5L1753.4 544.4"/><path stroke-width="4.9" d="M1753.4 544.4L1753.6 546.2L1753.9 548.1L1754.1 549.9L1754.3 551.8"/><path stroke-width="4.9" d="M1754.3 551.7L1754.5 553.7L1754.8 555.6L1755 557.6L1755.2 559.8"/><path stroke-width="4.9" d="M1755.2 559.8L1755.5 562L1755.7 563.6L1755.9 565.3L1756 567.1"/><path stroke-width="4.9" d="M1756 567.1L1756.2 568.8L1756.4 570.7L1756.6 572.5L1756.8 574.4"/><path stroke-width="4.9" d="M1756.8 574.4L1757 576.4L1757.2 578.3L1757.4 580.3L1757.5 582.4"/><path stroke-width="4.9" d="M1757.5 582.3L1757.7 584.4L1757.9 586.4L1758.1 588.4L1758.3 590.5"/><path stroke-width="4.9" d="M1758.3 590.5L1758.5 592.6L1758.7 594.6L1758.9 596.7L1759.1 598.7"/><path stroke-width="4.9" d="M1759.1 598.7L1759.3 600.7L1759.5 602.8L1759.7 604.7L1759.9 606.7"/><path stroke-width="4.9" d="M1759.9 606.7L1760.1 608.6L1760.4 610.5L1760.6 612.4L1760.8 614.2"/><path stroke-width="4.9" d="M1760.8 614.2L1761 616L1761.3 618L1761.5 620L1761.8 622"/><path stroke-width="4.9" d="M1761.8 622L1762.1 623.9L1762.4 625.8L1762.7 627.7L1762.9 629.5"/><path stroke-width="4.9" d="M1762.9 629.5L1763.2 631.3L1763.5 633.1L1763.8 635L1764.1 636.8"/><path stroke-width="4.9" d="M1764.1 636.7L1764.4 638.6L1764.7 640.4L1765 642.3L1765.2 644.1"/><path stroke-width="4.9" d="M1765.2 644.1L1765.5 646L1765.8 648L1766 649.9L1766.3 651.9"/><path stroke-width="4.9" d="M1766.3 651.9L1766.5 654L1766.7 655.7L1766.9 657.5L1767 659.3"/><path stroke-width="4.9" d="M1767 659.3L1767.2 661.2L1767.4 663L1767.5 664.9L1767.7 666.8"/><path stroke-width="4.8" d="M1767.7 666.7L1767.8 668.7L1768 670.6L1768.1 672.5L1768.3 674.4"/><path stroke-width="4.8" d="M1768.3 674.4L1768.4 676.4L1768.5 678.4L1768.7 680.3L1768.8 682.3"/><path stroke-width="4.8" d="M1768.8 682.3L1768.9 684.3L1769.1 686.3L1769.2 688.3L1769.3 690.2"/><path stroke-width="4.8" d="M1769.3 690.3L1769.4 692.2L1769.5 694.3L1769.7 696.2L1769.8 698.2"/><path stroke-width="4.8" d="M1769.8 698.2L1769.9 700.2L1770 702.2L1770.1 704.2L1770.3 706.1"/><path stroke-width="4.8" d="M1770.3 706.1L1770.4 708.1L1770.5 710L1770.6 711.9L1770.7 713.9"/><path stroke-width="4.8" d="M1770.7 713.9L1770.9 715.8L1771 717.7L1771.1 719.6L1771.2 721.6"/><path stroke-width="4.8" d="M1771.2 721.6L1771.3 723.5L1771.4 725.4L1771.5 727.4L1771.6 729.3"/><path stroke-width="4.8" d="M1771.6 729.3L1771.7 731.2L1771.8 733.2L1772 735.1L1772.1 737"/><path stroke-width="4.8" d="M1772.1 737L1772.2 738.9L1772.3 740.9L1772.4 742.8L1772.5 744.7"/><path stroke-width="4.8" d="M1772.5 744.7L1772.6 746.7L1772.7 748.6L1772.8 750.5L1772.8 752.5"/><path stroke-width="4.8" d="M1772.8 752.5L1772.9 754.4L1773 756.3L1773.1 758.2L1773.2 760.2"/><path stroke-width="4.8" d="M1773.2 760.2L1773.3 762.1L1773.4 764.1L1773.5 766L1773.6 768"/><path stroke-width="4.8" d="M1773.6 768L1773.7 769.9L1773.8 771.9L1773.9 773.9L1773.9 775.9"/><path stroke-width="4.8" d="M1773.9 775.9L1774 777.9L1774.1 779.8L1774.2 781.8L1774.3 783.8"/><path stroke-width="4.8" d="M1774.3 783.8L1774.4 785.8L1774.4 787.8L1774.5 789.8L1774.6 791.8"/><path stroke-width="4.8" d="M1774.6 791.8L1774.7 793.8L1774.8 795.8L1774.8 797.8L1774.9 799.8"/><path stroke-width="4.8" d="M1774.9 799.8L1775 801.8L1775.1 803.7L1775.1 805.7L1775.2 807.7"/><path stroke-width="4.8" d="M1775.2 807.7L1775.3 809.6L1775.4 811.6L1775.4 813.5L1775.5 815.4"/><path stroke-width="4.8" d="M1775.5 815.4L1775.6 817.3L1775.7 819.2L1775.7 821.1L1775.8 823"/><path stroke-width="4.8" d="M1775.8 823L1775.9 825L1776 827.1L1776 829.1L1776.1 831.1"/><path stroke-width="4.8" d="M1776.1 831.1L1776.2 833.1L1776.3 835L1776.3 837L1776.4 838.9"/><path stroke-width="4.8" d="M1776.4 839L1776.5 840.9L1776.5 842.8L1776.6 844.8L1776.7 846.7"/><path stroke-width="4.8" d="M1776.7 846.7L1776.8 848.6L1776.8 850.5L1776.9 852.5L1777 854.4"/><path stroke-width="4.8" d="M1777 854.4L1777 856.3L1777.1 858.3L1777.2 860.2L1777.2 862.1"/><path stroke-width="4.8" d="M1777.2 862.1L1777.3 864.1L1777.4 866L1777.4 868L1777.5 870"/><path stroke-width="4.8" d="M1777.5 870L1777.6 871.9L1777.6 873.8L1777.7 875.7L1777.7 877.7"/><path stroke-width="4.8" d="M1777.7 877.7L1777.8 879.6L1777.8 881.5L1777.9 883.5L1778 885.4"/><path stroke-width="4.8" d="M1778 885.5L1778 887.4L1778.1 889.4L1778.1 891.3L1778.2 893.3"/><path stroke-width="4.8" d="M1778.2 893.3L1778.2 895.2L1778.3 897.2L1778.3 899.2L1778.4 901.1"/><path stroke-width="4.8" d="M1778.4 901.1L1778.4 903L1778.5 905L1778.5 906.9L1778.6 908.8"/><path stroke-width="4.8" d="M1778.6 908.8L1778.7 910.7L1778.7 912.6L1778.8 914.5L1778.9 916.3"/><path stroke-width="4.8" d="M1778.9 916.3L1778.9 918.2L1779 920L1779.1 922L1779.2 924"/><path stroke-width="4.8" d="M1779.2 924L1779.2 925.9L1779.3 927.8L1779.4 929.7L1779.5 931.6"/><path stroke-width="4.8" d="M1779.5 931.6L1779.6 933.5L1779.7 935.4L1779.8 937.2L1779.9 939.1"/><path stroke-width="4.8" d="M1779.9 939.1L1780 941L1780.1 942.8L1780.1 944.7L1780.2 946.5"/><path stroke-width="4.8" d="M1780.2 946.5L1780.3 948.4L1780.5 950.3L1780.6 952.2L1780.7 954.1"/><path stroke-width="4.8" d="M1780.7 954.1L1780.8 956.1L1780.9 958L1781 960L1781.1 961.9"/><path stroke-width="4.8" d="M1781.1 961.9L1781.2 963.8L1781.3 965.7L1781.4 967.6L1781.5 969.6"/><path stroke-width="4.8" d="M1781.5 969.6L1781.6 971.6L1781.8 973.5L1781.9 975.5L1782 977.5"/><path stroke-width="4.8" d="M1782 977.6L1782.1 979.6L1782.2 981.6L1782.3 983.6L1782.5 985.6"/><path stroke-width="4.8" d="M1782.5 985.6L1782.6 987.6L1782.7 989.6L1782.8 991.6L1783 993.6"/><path stroke-width="4.9" d="M1783 993.7L1783.1 995.6L1783.3 997.6L1783.4 999.5L1783.5 1001.5"/><path stroke-width="4.9" d="M1783.5 1001.5L1783.7 1003.4L1783.9 1005.3L1784 1007.2L1784.2 1009"/><path stroke-width="4.9" d="M1784.2 1009L1784.4 1011.1L1784.6 1013.2L1784.9 1015.3L1785.1 1017.4"/><path stroke-width="4.9" d="M1785.1 1017.4L1785.3 1019.6L1785.6 1021.7L1785.8 1023.8L1786.1 1025.8"/><path stroke-width="4.9" d="M1786.1 1025.8L1786.4 1027.8L1786.6 1029.9L1786.9 1031.9L1787.2 1033.9"/><path stroke-width="4.9" d="M1787.2 1033.8L1787.4 1035.8L1787.7 1037.7L1787.9 1039.5L1788.2 1041.3"/><path stroke-width="4.9" d="M1788.2 1041.4L1788.4 1043.1L1788.7 1044.8L1788.9 1046.5L1789.2 1048.8"/><path stroke-width="4.9" d="M1789.2 1048.8L1789.4 1051.1L1789.6 1053.5L1789.7 1055.9L1789.9 1058.2"/><path stroke-width="5.0" d="M1789.9 1058.2L1790.1 1060.2L1790.4 1062L1790.7 1063.5L1791.1 1064.6"/><path stroke-width="5.6" d="M1791.1 1064.5L1791.7 1065.4L1793.3 1064.8L1794.9 1064.5L1795.5 1065.3"/><path stroke-width="4.9" d="M1795.5 1065.2L1795.8 1066.6L1796.1 1068.4L1796.3 1070.7L1796.4 1073.1"/><path stroke-width="4.9" d="M1796.4 1073.1L1796.5 1075.6L1796.7 1078L1796.9 1080.3L1797.3 1082.2"/><path stroke-width="5.0" d="M1797.3 1082.2L1797.9 1083.9L1798.5 1085.6L1799.3 1087.1L1800 1088.7"/><path stroke-width="5.1" d="M1800 1088.7L1800.8 1090.2L1801.4 1091.8L1802 1093.5L1802.4 1095.3"/><path stroke-width="4.9" d="M1802.4 1095.2L1802.7 1097L1803 1098.7L1803.2 1100.5L1803.4 1102.4"/><path stroke-width="4.9" d="M1803.4 1102.4L1803.6 1104.4L1803.9 1106.4L1804.3 1108.5L1804.6 1110.1"/><path stroke-width="5.0" d="M1804.6 1110.2L1805 1111.9L1805.5 1113.7L1806 1115.6L1806.5 1117.5"/><path stroke-width="5.0" d="M1806.5 1117.5L1807 1119.5L1807.5 1121.5L1808 1123.5L1808.6 1125.5"/><path stroke-width="5.0" d="M1808.6 1125.5L1809.1 1127.5L1809.6 1129.6L1810.1 1131.6L1810.6 1133.7"/><path stroke-width="4.9" d="M1810.6 1133.6L1811 1135.6L1811.4 1137.6L1811.7 1139.5L1812.1 1141.3"/><path stroke-width="4.9" d="M1812.1 1141.3L1812.4 1143.2L1812.6 1145L1812.9 1146.8L1813.1 1148.7"/><path stroke-width="4.9" d="M1813.1 1148.7L1813.4 1150.5L1813.6 1152.3L1813.8 1154.2L1814 1156.1"/><path stroke-width="4.9" d="M1814 1156L1814.2 1157.9L1814.5 1159.8L1814.7 1161.7L1814.9 1163.7"/><path stroke-width="4.9" d="M1814.9 1163.7L1815.2 1165.7L1815.4 1167.6L1815.7 1169.4L1815.9 1171.3"/><path stroke-width="4.9" d="M1815.9 1171.3L1816.2 1173.2L1816.4 1175.2L1816.7 1177.2L1816.9 1179.1"/><path stroke-width="4.9" d="M1816.9 1179.1L1817.2 1181.1L1817.4 1183.2L1817.7 1185.1L1817.9 1187.2"/><path stroke-width="4.9" d="M1817.9 1187.2L1818.2 1189.2L1818.4 1191.2L1818.7 1193.3L1818.9 1195.3"/><path stroke-width="4.9" d="M1818.9 1195.3L1819.2 1197.3L1819.4 1199.3L1819.7 1201.3L1819.9 1203.3"/><path stroke-width="4.9" d="M1819.9 1203.3L1820.1 1205.3L1820.4 1207.3L1820.6 1209.3L1820.9 1211.2"/><path stroke-width="4.9" d="M1820.9 1211.2L1821.1 1213.2L1821.4 1215.3L1821.6 1217.2L1821.9 1219.3"/><path stroke-width="4.9" d="M1821.9 1219.3L1822.1 1221.2L1822.3 1223.2L1822.6 1225.2L1822.8 1227.2"/><path stroke-width="4.9" d="M1822.8 1227.2L1823.1 1229.2L1823.3 1231.1L1823.6 1233.1L1823.8 1235"/><path stroke-width="4.9" d="M1823.8 1235.1L1824.1 1237L1824.3 1238.9L1824.6 1240.8L1824.9 1242.8"/><path stroke-width="4.9" d="M1824.9 1242.8L1825.1 1244.8L1825.4 1246.8L1825.7 1248.8L1826 1250.8"/><path stroke-width="4.9" d="M1826 1250.8L1826.3 1252.8L1826.5 1254.8L1826.8 1256.8L1827.1 1258.8"/><path stroke-width="4.9" d="M1827.1 1258.8L1827.4 1260.7L1827.7 1262.6L1827.9 1264.4L1828.2 1266.2"/><path stroke-width="4.9" d="M1828.2 1266.2L1828.5 1267.9L1828.8 1269.6L1829 1271.2L1829.3 1272.7"/><path stroke-width="4.9" d="M1829.3 1272.7L1829.7 1275.1L1830.1 1277.7L1830.5 1280.2L1831 1282.4"/><path stroke-width="5.1" d="M1831 1282.4L1831.4 1284.3L1831.7 1285.5L1832.1 1285.9L1832.3 1285.6"/><path stroke-width="4.9" d="M1832.3 1285.7L1832.6 1284.9L1832.8 1283.8L1833 1282.4L1833.2 1280.6"/><path stroke-width="4.9" d="M1833.2 1280.6L1833.4 1278.5L1833.6 1276.3L1833.8 1274L1834 1271.5"/><path stroke-width="4.9" d="M1834 1271.5L1834.2 1269L1834.4 1266.5L1834.5 1264.1L1834.7 1261.8"/><path stroke-width="4.9" d="M1834.7 1261.8L1834.9 1259.6L1835.1 1257.7L1835.2 1255.6L1835.4 1253.3"/><path stroke-width="4.8" d="M1835.4 1253.3L1835.5 1250.8L1835.7 1248.3L1835.8 1245.7L1835.9 1243"/><path stroke-width="4.8" d="M1835.9 1243L1836.1 1240.4L1836.2 1237.8L1836.4 1235.3L1836.5 1232.9"/><path stroke-width="4.9" d="M1836.5 1232.9L1836.6 1230.6L1836.8 1228.5L1836.9 1226.7L1837.1 1225.1"/><path stroke-width="5.0" d="M1837.1 1225.1L1837.2 1223.8L1837.4 1222.8L1837.5 1222.2L1837.7 1222"/><path stroke-width="5.0" d="M1837.7 1222L1837.9 1222.3L1838.1 1223.1L1838.3 1224.2L1838.5 1225.8"/><path stroke-width="4.9" d="M1838.5 1225.8L1838.8 1227.7L1839 1229.8L1839.2 1232.2L1839.4 1234.6"/><path stroke-width="4.9" d="M1839.4 1234.6L1839.6 1237.1L1839.9 1239.6L1840.1 1242.1L1840.3 1244.4"/><path stroke-width="4.9" d="M1840.3 1244.4L1840.5 1246.5L1840.7 1248.3L1840.8 1250.1L1841 1251.9"/><path stroke-width="4.9" d="M1841 1251.9L1841.2 1253.8L1841.3 1255.6L1841.5 1257.5L1841.6 1259.4"/><path stroke-width="4.9" d="M1841.6 1259.4L1841.8 1261.4L1841.9 1263.3L1842.1 1265.2L1842.2 1267.1"/><path stroke-width="4.9" d="M1842.2 1267.1L1842.4 1269.1L1842.6 1271L1842.7 1272.8L1842.9 1274.7"/><path stroke-width="4.9" d="M1842.9 1274.7L1843.1 1276.6L1843.3 1278.4L1843.5 1280.4L1843.7 1282.3"/><path stroke-width="4.9" d="M1843.7 1282.3L1844 1284.3L1844.2 1286.2L1844.4 1288.2L1844.7 1290.1"/><path stroke-width="4.9" d="M1844.7 1290.1L1844.9 1292.1L1845.2 1294L1845.4 1295.9L1845.7 1297.7"/><path stroke-width="4.9" d="M1845.7 1297.8L1846 1299.6L1846.2 1301.4L1846.5 1303.1L1846.8 1304.8"/><path stroke-width="4.9" d="M1846.8 1304.8L1847.1 1306.5L1847.5 1308.7L1847.8 1310.9L1848.1 1313.1"/><path stroke-width="4.9" d="M1848.1 1313.1L1848.4 1315.3L1848.7 1317.4L1849.1 1319.2L1849.6 1320.9"/><path stroke-width="5.3" d="M1849.6 1320.8L1850.2 1322.4L1850.9 1323.3L1852.4 1324.5L1854 1325.2"/><path stroke-width="5.4" d="M1854 1325.4L1855.6 1325.3L1857 1324.8L1858.2 1323.3L1859.3 1321.5"/><path stroke-width="5.0" d="M1859.3 1321.6L1859.7 1320.6L1860.1 1319.2L1860.4 1317.8L1860.6 1316.2"/><path stroke-width="4.9" d="M1860.6 1316.2L1860.8 1314.4L1861 1312.5L1861.1 1310.5L1861.3 1308.3"/><path stroke-width="4.8" d="M1861.3 1308.3L1861.4 1306.1L1861.4 1303.9L1861.5 1301.6L1861.6 1299.2"/><path stroke-width="4.8" d="M1861.6 1299.2L1861.7 1296.9L1861.8 1294.6L1861.8 1292.2L1862 1290"/><path stroke-width="4.9" d="M1862 1290L1862.1 1287.8L1862.2 1286L1862.4 1284.2L1862.5 1282.3"/><path stroke-width="4.8" d="M1862.5 1282.3L1862.6 1280.5L1862.7 1278.6L1862.8 1276.7L1863 1274.8"/><path stroke-width="4.8" d="M1863 1274.8L1863.1 1272.9L1863.2 1270.9L1863.3 1269L1863.4 1267"/><path stroke-width="4.9" d="M1863.4 1267L1863.5 1265.1L1863.7 1263.1L1863.8 1261.1L1863.9 1259.1"/><path stroke-width="4.8" d="M1863.9 1259.1L1864 1257.1L1864.1 1255.1L1864.2 1253L1864.3 1251"/><path stroke-width="4.8" d="M1864.3 1251L1864.4 1249L1864.6 1246.9L1864.7 1244.9L1864.8 1242.8"/><path stroke-width="4.8" d="M1864.8 1242.9L1864.9 1240.8L1865 1238.9L1865.1 1237.1L1865.2 1235.2"/><path stroke-width="4.8" d="M1865.2 1235.2L1865.3 1233.3L1865.4 1231.3L1865.5 1229.4L1865.6 1227.5"/><path stroke-width="4.8" d="M1865.6 1227.5L1865.7 1225.5L1865.8 1223.5L1865.9 1221.6L1866 1219.6"/><path stroke-width="4.8" d="M1866 1219.6L1866.1 1217.6L1866.2 1215.6L1866.3 1213.6L1866.4 1211.7"/><path stroke-width="4.8" d="M1866.4 1211.6L1866.5 1209.7L1866.6 1207.7L1866.7 1205.7L1866.8 1203.7"/><path stroke-width="4.8" d="M1866.8 1203.7L1866.9 1201.8L1867 1199.8L1867.1 1197.8L1867.2 1195.9"/><path stroke-width="4.8" d="M1867.2 1195.9L1867.3 1194L1867.4 1192L1867.5 1190.1L1867.6 1188.2"/><path stroke-width="4.8" d="M1867.6 1188.2L1867.7 1186.4L1867.8 1184.5L1867.9 1182.5L1868 1180.5"/><path stroke-width="4.8" d="M1868 1180.5L1868.1 1178.5L1868.3 1176.6L1868.4 1174.7L1868.5 1172.8"/><path stroke-width="4.8" d="M1868.5 1172.8L1868.6 1171L1868.7 1169.1L1868.9 1167.3L1869 1165.4"/><path stroke-width="4.8" d="M1869 1165.4L1869.1 1163.6L1869.2 1161.8L1869.4 1159.9L1869.5 1158"/><path stroke-width="4.8" d="M1869.5 1158L1869.6 1156.1L1869.7 1154.2L1869.8 1152.3L1869.9 1150.3"/><path stroke-width="4.8" d="M1869.9 1150.3L1870.1 1148.3L1870.2 1146.3L1870.3 1144.2L1870.4 1142"/><path stroke-width="4.8" d="M1870.4 1142L1870.5 1139.8L1870.6 1137.6L1870.7 1135.9L1870.7 1134.2"/><path stroke-width="4.8" d="M1870.7 1134.2L1870.8 1132.5L1870.9 1130.8L1871 1129L1871 1127.2"/><path stroke-width="4.8" d="M1871 1127.2L1871.1 1125.4L1871.2 1123.6L1871.2 1121.7L1871.3 1119.8"/><path stroke-width="4.8" d="M1871.3 1119.8L1871.4 1117.9L1871.4 1116L1871.5 1114.1L1871.5 1112.1"/><path stroke-width="4.8" d="M1871.5 1112.1L1871.6 1110.2L1871.7 1108.2L1871.7 1106.2L1871.8 1104.2"/><path stroke-width="4.8" d="M1871.8 1104.2L1871.8 1102.2L1871.9 1100.1L1872 1098.1L1872 1096.1"/><path stroke-width="4.8" d="M1872 1096.1L1872.1 1094L1872.1 1091.9L1872.2 1089.9L1872.3 1087.8"/><path stroke-width="4.8" d="M1872.3 1087.8L1872.3 1085.7L1872.4 1083.6L1872.4 1081.6L1872.5 1079.5"/><path stroke-width="4.8" d="M1872.5 1079.5L1872.5 1077.4L1872.6 1075.3L1872.6 1073.2L1872.7 1071.1"/><path stroke-width="4.8" d="M1872.7 1071.1L1872.8 1069L1872.8 1066.9L1872.9 1064.9L1872.9 1062.8"/><path stroke-width="4.8" d="M1872.9 1062.8L1873 1060.7L1873 1058.7L1873.1 1056.6L1873.2 1054.6"/><path stroke-width="4.8" d="M1873.2 1054.6L1873.2 1052.5L1873.3 1050.5L1873.3 1048.5L1873.4 1046.5"/><path stroke-width="4.8" d="M1873.4 1046.5L1873.5 1044.5L1873.5 1042.5L1873.6 1040.5L1873.6 1038.5"/><path stroke-width="4.8" d="M1873.6 1038.5L1873.7 1036.5L1873.8 1034.5L1873.8 1032.5L1873.9 1030.5"/><path stroke-width="4.8" d="M1873.9 1030.5L1873.9 1028.5L1874 1026.4L1874.1 1024.4L1874.1 1022.4"/><path stroke-width="4.8" d="M1874.1 1022.4L1874.2 1020.4L1874.3 1018.3L1874.3 1016.3L1874.4 1014.3"/><path stroke-width="4.8" d="M1874.4 1014.3L1874.4 1012.2L1874.5 1010.2L1874.6 1008.2L1874.6 1006.1"/><path stroke-width="4.8" d="M1874.6 1006.1L1874.7 1004.1L1874.8 1002.1L1874.8 1000.1L1874.9 998"/><path stroke-width="4.8" d="M1874.9 998L1874.9 996L1875 994L1875.1 992L1875.1 989.9"/><path stroke-width="4.8" d="M1875.1 989.9L1875.2 987.9L1875.2 985.9L1875.3 983.9L1875.4 981.9"/><path stroke-width="4.8" d="M1875.4 981.9L1875.4 979.9L1875.5 977.9L1875.5 975.9L1875.6 974"/><path stroke-width="4.8" d="M1875.6 974L1875.7 972L1875.7 970L1875.8 968.1L1875.8 966.1"/><path stroke-width="4.8" d="M1875.8 966.1L1875.9 964.2L1875.9 962.2L1876 960.3L1876 958.4"/><path stroke-width="4.8" d="M1876 958.4L1876.1 956.5L1876.1 954.6L1876.2 952.7L1876.3 950.6"/><path stroke-width="4.8" d="M1876.3 950.6L1876.3 948.6L1876.4 946.5L1876.4 944.5L1876.5 942.6"/><path stroke-width="4.8" d="M1876.5 942.6L1876.5 940.6L1876.6 938.6L1876.6 936.7L1876.7 934.8"/><path stroke-width="4.8" d="M1876.7 934.8L1876.8 932.9L1876.8 931L1876.9 929.1L1876.9 927.2"/><path stroke-width="4.8" d="M1876.9 927.2L1877 925.3L1877 923.4L1877.1 921.5L1877.1 919.7"/><path stroke-width="4.8" d="M1877.1 919.7L1877.2 917.8L1877.2 915.9L1877.3 914L1877.3 912.1"/><path stroke-width="4.8" d="M1877.3 912.1L1877.4 910.2L1877.4 908.3L1877.5 906.4L1877.5 904.5"/><path stroke-width="4.8" d="M1877.5 904.5L1877.5 902.5L1877.6 900.6L1877.6 898.6L1877.7 896.6"/><path stroke-width="4.8" d="M1877.7 896.6L1877.7 894.6L1877.8 892.6L1877.8 890.5L1877.9 888.4"/><path stroke-width="4.8" d="M1877.9 888.4L1877.9 886.3L1878 884.2L1878 882L1878.1 879.8"/><path stroke-width="4.8" d="M1878.1 879.8L1878.1 877.6L1878.1 875.9L1878.2 874.1L1878.2 872.3"/><path stroke-width="4.8" d="M1878.2 872.3L1878.2 870.5L1878.3 868.7L1878.3 866.8L1878.3 865"/><path stroke-width="4.8" d="M1878.3 865L1878.4 863.1L1878.4 861.1L1878.4 859.2L1878.5 857.3"/><path stroke-width="4.8" d="M1878.5 857.3L1878.5 855.3L1878.5 853.3L1878.5 851.3L1878.6 849.3"/><path stroke-width="4.8" d="M1878.6 849.3L1878.6 847.3L1878.6 845.3L1878.7 843.2L1878.7 841.2"/><path stroke-width="4.8" d="M1878.7 841.2L1878.7 839.1L1878.7 837L1878.8 834.9L1878.8 832.9"/><path stroke-width="4.8" d="M1878.8 832.9L1878.8 830.7L1878.9 828.6L1878.9 826.5L1878.9 824.4"/><path stroke-width="4.8" d="M1878.9 824.4L1878.9 822.3L1879 820.2L1879 818L1879 815.9"/><path stroke-width="4.8" d="M1879 815.9L1879 813.8L1879.1 811.6L1879.1 809.5L1879.1 807.4"/><path stroke-width="4.8" d="M1879.1 807.4L1879.2 805.2L1879.2 803.1L1879.2 801L1879.2 798.9"/><path stroke-width="4.8" d="M1879.2 798.9L1879.3 796.8L1879.3 794.7L1879.3 792.5L1879.3 790.5"/><path stroke-width="4.8" d="M1879.3 790.5L1879.4 788.4L1879.4 786.3L1879.4 784.2L1879.5 782.2"/><path stroke-width="4.8" d="M1879.5 782.2L1879.5 780.1L1879.5 778.1L1879.5 776.1L1879.6 774.1"/><path stroke-width="4.8" d="M1879.6 774.1L1879.6 772.1L1879.6 770.1L1879.7 768.1L1879.7 766.2"/><path stroke-width="4.8" d="M1879.7 766.2L1879.7 764.3L1879.7 762.3L1879.8 760.4L1879.8 758.6"/><path stroke-width="4.8" d="M1879.8 758.6L1879.8 756.7L1879.9 754.9L1879.9 753.1L1879.9 751.3"/><path stroke-width="4.8" d="M1879.9 751.3L1880 749.5L1880 747.8L1880 745.6L1880.1 743.3"/><path stroke-width="4.8" d="M1880.1 743.3L1880.1 741.1L1880.2 738.9L1880.2 736.7L1880.2 734.6"/><path stroke-width="4.8" d="M1880.2 734.6L1880.3 732.4L1880.3 730.3L1880.4 728.1L1880.4 726"/><path stroke-width="4.8" d="M1880.4 726L1880.4 723.9L1880.5 721.8L1880.5 719.7L1880.5 717.7"/><path stroke-width="4.8" d="M1880.5 717.7L1880.6 715.6L1880.6 713.6L1880.7 711.6L1880.7 709.6"/><path stroke-width="4.8" d="M1880.7 709.6L1880.7 707.6L1880.8 705.6L1880.8 703.6L1880.9 701.7"/><path stroke-width="4.8" d="M1880.9 701.7L1880.9 699.8L1880.9 697.9L1881 696L1881 694.1"/><path stroke-width="4.8" d="M1881 694.1L1881.1 692.2L1881.1 690.4L1881.2 688.5L1881.3 686.7"/><path stroke-width="4.8" d="M1881.3 686.7L1881.3 684.9L1881.4 683.1L1881.4 681.3L1881.5 679.6"/><path stroke-width="4.8" d="M1881.5 679.6L1881.6 677.8L1881.6 676.1L1881.7 674.4L1881.8 672.7"/><path stroke-width="4.8" d="M1881.8 672.7L1881.9 670.4L1882 668.2L1882.1 666L1882.2 663.8"/><path stroke-width="4.8" d="M1882.2 663.8L1882.3 661.6L1882.4 659.4L1882.5 657.3L1882.6 655.2"/><path stroke-width="4.8" d="M1882.6 655.2L1882.7 653.1L1882.8 651.1L1882.9 649.1L1883 647.1"/><path stroke-width="4.9" d="M1883 647.1L1883.2 645.2L1883.3 643.3L1883.4 641.4L1883.6 639.6"/><path stroke-width="4.9" d="M1883.6 639.6L1883.8 637.8L1884 636.1L1884.2 634.5L1884.4 632.9"/><path stroke-width="4.9" d="M1884.4 632.8L1884.7 631.3L1885.1 628.9L1885.6 626.4L1886.2 623.8"/><path stroke-width="5.0" d="M1886.2 623.9L1886.8 621.4L1887.4 619.2L1887.9 617.3L1888.5 615.7"/><path stroke-width="5.4" d="M1888.5 615.6L1889 614.8L1889.4 614.4L1889.6 614.7L1889.8 615.1"/><path stroke-width="4.9" d="M1889.8 615L1889.9 615.7L1890.1 616.5L1890.2 617.5L1890.3 618.8"/><path stroke-width="4.8" d="M1890.3 618.8L1890.4 620.2L1890.5 621.8L1890.6 623.5L1890.7 625.4"/><path stroke-width="4.8" d="M1890.7 625.4L1890.7 627.4L1890.8 629.6L1890.8 631.8L1890.9 634.1"/><path stroke-width="4.8" d="M1890.9 634.1L1890.9 636.5L1890.9 638.9L1890.9 641.4L1891 644"/><path stroke-width="4.8" d="M1891 644L1891 646.5L1891 649.1L1891 651.7L1891 654.3"/><path stroke-width="4.8" d="M1891 654.3L1891 656.8L1891 659.3L1891 661.7L1891.1 664.1"/><path stroke-width="4.8" d="M1891.1 664.1L1891.1 666.4L1891.1 668.6L1891.2 670.7L1891.2 672.7"/><path stroke-width="4.8" d="M1891.2 672.7L1891.2 674.7L1891.3 676.6L1891.3 678.5L1891.4 680.5"/><path stroke-width="4.8" d="M1891.4 680.5L1891.4 682.4L1891.4 684.3L1891.5 686.2L1891.5 688.1"/><path stroke-width="4.8" d="M1891.5 688.1L1891.5 690L1891.5 691.9L1891.6 693.8L1891.6 695.7"/><path stroke-width="4.8" d="M1891.6 695.7L1891.6 697.6L1891.6 699.5L1891.7 701.5L1891.7 703.4"/><path stroke-width="4.8" d="M1891.7 703.4L1891.7 705.3L1891.8 707.2L1891.8 709.1L1891.8 711.1"/><path stroke-width="4.8" d="M1891.8 711.1L1891.8 713L1891.9 715L1891.9 716.9L1892 718.9"/><path stroke-width="4.8" d="M1892 718.9L1892 720.9L1892 722.9L1892.1 724.9L1892.1 727"/><path stroke-width="4.8" d="M1892.1 727L1892.2 729L1892.3 730.9L1892.3 732.7L1892.4 734.6"/><path stroke-width="4.8" d="M1892.4 734.6L1892.4 736.5L1892.5 738.4L1892.6 740.4L1892.6 742.3"/><path stroke-width="4.8" d="M1892.6 742.3L1892.7 744.2L1892.8 746.2L1892.8 748.1L1892.9 750.1"/><path stroke-width="4.8" d="M1892.9 750.1L1893 752L1893 754L1893.1 756L1893.2 758"/><path stroke-width="4.8" d="M1893.2 758L1893.3 760L1893.4 762L1893.4 763.9L1893.5 765.9"/><path stroke-width="4.8" d="M1893.5 765.9L1893.6 768L1893.7 769.9L1893.8 772L1893.8 774"/><path stroke-width="4.8" d="M1893.8 774L1893.9 776L1894 778L1894.1 780L1894.2 782"/><path stroke-width="4.8" d="M1894.2 782L1894.3 784L1894.4 786L1894.5 788L1894.5 790"/><path stroke-width="4.8" d="M1894.5 790L1894.6 792L1894.7 794L1894.8 796L1894.9 798"/><path stroke-width="4.8" d="M1894.9 798L1895 800L1895.1 802L1895.2 803.9L1895.3 805.9"/><path stroke-width="4.8" d="M1895.3 805.9L1895.3 807.9L1895.4 809.9L1895.5 811.9L1895.6 814"/><path stroke-width="4.8" d="M1895.6 814L1895.7 816L1895.7 818L1895.8 820.1L1895.9 822.1"/><path stroke-width="4.8" d="M1895.9 822.1L1896 824.2L1896.1 826.2L1896.2 828.3L1896.2 830.3"/><path stroke-width="4.8" d="M1896.2 830.3L1896.3 832.4L1896.4 834.4L1896.5 836.5L1896.6 838.5"/><path stroke-width="4.8" d="M1896.6 838.5L1896.7 840.5L1896.8 842.5L1896.9 844.5L1897 846.5"/><path stroke-width="4.8" d="M1897 846.5L1897.1 848.5L1897.2 850.5L1897.3 852.4L1897.4 854.4"/><path stroke-width="4.8" d="M1897.4 854.4L1897.5 856.3L1897.6 858.2L1897.8 860L1897.9 861.9"/><path stroke-width="4.9" d="M1897.9 861.9L1898 863.7L1898.2 865.5L1898.3 867.3L1898.4 869.1"/><path stroke-width="4.9" d="M1898.4 869.1L1898.6 870.8L1898.8 872.5L1899 874.8L1899.2 877.2"/><path stroke-width="4.9" d="M1899.2 877.2L1899.5 879.7L1899.7 882.3L1900 884.9L1900.3 887.6"/><path stroke-width="4.9" d="M1900.3 887.6L1900.6 890.2L1900.9 892.8L1901.2 895.3L1901.5 897.8"/><path stroke-width="4.9" d="M1901.5 897.8L1901.8 900.2L1902.1 902.5L1902.4 904.6L1902.7 906.6"/><path stroke-width="4.9" d="M1902.7 906.6L1903 908.4L1903.2 909.9L1903.5 911.2L1903.8 912.3"/><path stroke-width="5.2" d="M1903.8 912.2L1904 913L1904.3 913.6L1904.5 913.7L1904.7 913.7"/><path stroke-width="5.0" d="M1904.7 913.6L1904.8 913.4L1904.9 912.9L1905.1 912.2L1905.2 911.4"/><path stroke-width="4.9" d="M1905.2 911.4L1905.3 910.4L1905.5 909.2L1905.6 907.9L1905.7 906.4"/><path stroke-width="4.8" d="M1905.7 906.4L1905.8 904.9L1905.9 903.1L1906 901.3L1906.1 899.4"/><path stroke-width="4.8" d="M1906.1 899.4L1906.2 897.4L1906.3 895.2L1906.4 893L1906.5 890.7"/><path stroke-width="4.8" d="M1906.5 890.7L1906.6 888.3L1906.7 885.9L1906.7 883.4L1906.8 880.9"/><path stroke-width="4.8" d="M1906.8 880.9L1906.9 878.3L1907 875.7L1907.1 873.1L1907.1 870.4"/><path stroke-width="4.8" d="M1907.1 870.4L1907.2 867.7L1907.3 865.1L1907.4 862.4L1907.5 859.8"/><path stroke-width="4.8" d="M1907.5 859.8L1907.6 857.1L1907.6 854.5L1907.7 852L1907.8 849.5"/><path stroke-width="4.8" d="M1907.8 849.5L1907.9 847L1908 844.6L1908.1 842.2L1908.2 840"/><path stroke-width="4.8" d="M1908.2 840L1908.3 837.8L1908.4 835.7L1908.5 833.7L1908.6 831.8"/><path stroke-width="4.9" d="M1908.6 831.8L1908.8 830L1908.9 827.7L1909.1 825.4L1909.2 822.9"/><path stroke-width="4.9" d="M1909.2 822.9L1909.4 820.4L1909.6 817.8L1909.8 815.3L1910 812.6"/><path stroke-width="4.9" d="M1910 812.6L1910.2 810L1910.4 807.4L1910.5 804.9L1910.7 802.4"/><path stroke-width="4.9" d="M1910.7 802.3L1910.9 799.9L1911.1 797.5L1911.3 795.3L1911.5 793.1"/><path stroke-width="4.9" d="M1911.5 793.1L1911.7 791L1911.9 789.2L1912 787.4L1912.2 785.9"/><path stroke-width="4.9" d="M1912.2 785.9L1912.3 784.5L1912.5 783.4L1912.6 782.5L1912.8 781.8"/><path stroke-width="5.4" d="M1912.8 781.9L1912.9 781.5L1913 781.2L1913.1 781.5L1913.2 782.1"/><path stroke-width="4.8" d="M1913.2 782.1L1913.3 783.2L1913.4 784.6L1913.4 786.3L1913.5 788.3"/><path stroke-width="4.8" d="M1913.5 788.3L1913.6 790.6L1913.6 793L1913.7 795.7L1913.7 798.4"/><path stroke-width="4.8" d="M1913.7 798.4L1913.8 801.3L1913.8 804.2L1913.8 807.1L1913.9 810"/><path stroke-width="4.8" d="M1913.9 810L1913.9 812.8L1913.9 815.6L1913.9 818.2L1914 820.7"/><path stroke-width="4.8" d="M1914 820.7L1914 822.9L1914 824.9L1914 826.7L1914 828.1"/><path stroke-width="4.8" d="M1914 828.1L1914 829.1L1914 829.8L1914 830"/></g>
<g fill="none" stroke="#008000" stroke-linecap="round" stroke-linejoin="round"><path stroke-width="5.0" d="M274.5 566.3L274.8 566.2L275.5 566.1L276.7 566L278.2 565.8"/><path stroke-width="5.0" d="M278.2 565.9L280.1 565.6L282.2 565.4L284.5 565.1L287 564.9"/><path stroke-width="5.0" d="M287 564.8L289.5 564.6L292.2 564.3L294.8 564L297.3 563.7"/><path stroke-width="5.0" d="M297.3 563.7L299.7 563.5L302 563.2L304 563L306 562.8"/><path stroke-width="5.0" d="M306 562.8L308 562.6L309.9 562.4L311.8 562.2L313.8 562"/><path stroke-width="5.0" d="M313.8 562L315.7 561.8L317.6 561.6L319.5 561.4L321.4 561.2"/><path stroke-width="5.0" d="M321.4 561.2L323.3 561L325.2 560.9L327.1 560.7L329 560.5"/><path stroke-width="5.0" d="M329 560.5L330.9 560.3L332.8 560.1L334.8 559.9L336.7 559.7"/><path stroke-width="5.0" d="M336.7 559.8L338.6 559.6L340.5 559.4L342.5 559.1L344.4 558.9"/><path stroke-width="5.0" d="M344.4 558.9L346.3 558.8L348.2 558.5L350.2 558.3L352.1 558.2"/><path stroke-width="5.0" d="M352.1 558.2L354 558L355.9 557.8L357.9 557.7L359.9 557.5"/><path stroke-width="5.0" d="M359.9 557.5L361.8 557.4L363.8 557.3L365.8 557.1L367.8 556.9"/><path stroke-width="5.0" d="M367.8 556.9L369.7 556.8L371.6 556.6L373.5 556.4L375.4 556.2"/><path stroke-width="5.0" d="M375.4 556.3L377.2 556L379 555.8L381.1 555.4L383.2 554.8"/><path stroke-width="5.0" d="M383.2 554.9L385.2 554.3L387.2 553.8L389.1 553.2L391 552.7"/><path stroke-width="5.0" d="M391 552.7L392.9 552.4L394.7 552.1L396.5 552L398.4 552.1"/><path stroke-width="5.1" d="M398.4 552.1L400.3 552.4L402.1 552.7L403.9 553.2L405.6 553.8"/><path stroke-width="5.0" d="M405.6 553.8L407.3 554.4L409 555L410.7 555.7L412.4 556.6"/><path stroke-width="5.0" d="M412.4 556.6L413.9 557.5L415.5 558.5L417.2 559.3L419 560"/><path stroke-width="5.0" d="M419 560L420.7 560.4L422.6 560.8L424.5 560.9L426.4 561"/><path stroke-width="5.0" d="M426.4 561.1L428.4 561.3L430.3 561.5L432.2 561.9L434 562.5"/><path stroke-width="5.0" d="M434 562.5L435.7 563.2L437.4 564.1L439.1 565.1L440.7 566.1"/><path stroke-width="5.0" d="M440.7 566.2L442.3 567.3L443.8 568.6L445.2 569.9L446.5 571.3"/><path stroke-width="4.9" d="M446.5 571.3L447.7 572.7L448.7 574.3L449.6 575.8L450.5 577.6"/><path stroke-width="4.9" d="M450.5 577.5L451.3 579.3L452.1 581.1L453 583.1L454 585"/><path stroke-width="4.9" d="M454 585L454.8 586.6L455.6 588.2L456.5 589.9L457.3 591.7"/><path stroke-width="4.9" d="M457.3 591.7L458.2 593.5L459.1 595.4L460 597.3L460.9 599.1"/><path stroke-width="4.9" d="M460.9 599.1L461.8 601L462.8 602.9L463.7 604.7L464.6 606.6"/><path stroke-width="4.9" d="M464.6 606.5L465.6 608.3L466.5 610L467.5 611.8L468.5 613.5"/><path stroke-width="4.9" d="M468.5 613.5L469.5 615.3L470.6 617L471.6 618.7L472.6 620.4"/><path stroke-width="4.9" d="M472.6 620.3L473.7 622L474.7 623.6L475.8 625.3L476.9 626.9"/><path stroke-width="4.9" d="M476.9 626.8L477.9 628.4L479 630L480.1 631.6L481.2 633.1"/><path stroke-width="5.0" d="M481.2 633.1L482.3 634.6L483.4 636.2L484.6 637.7L485.7 639.2"/><path stroke-width="5.0" d="M485.7 639.2L486.8 640.6L488 642.1L489.2 643.5L490.3 644.9"/><path stroke-width="5.0" d="M490.3 644.9L491.5 646.3L492.8 647.8L494.2 649.2L495.6 650.7"/><path stroke-width="5.0" d="M495.6 650.7L496.9 652.2L498.3 653.5L499.7 654.9L501.1 656.3"/><path stroke-width="5.0" d="M501.1 656.2L502.6 657.5L504 658.8L505.5 660L507.1 661.2"/><path stroke-width="5.0" d="M507.1 661.2L508.7 662.4L510.2 663.6L511.8 664.7L513.4 665.7"/><path stroke-width="5.0" d="M513.4 665.7L515 666.6L516.5 667.5L518.2 668.3L519.9 669.2"/><path stroke-width="5.1" d="M519.9 669.2L521.5 669.9L523.2 670.4L524.8 671L526.5 671.2"/><path stroke-width="5.1" d="M526.5 671.3L528.2 671.4L529.8 671.4L531.5 671.3L533.2 670.9"/><path stroke-width="5.0" d="M533.2 670.9L534.9 670.6L536.5 670L538 669.3L539.5 668.5"/><path stroke-width="5.0" d="M539.5 668.4L540.9 667.4L542.4 666.3L543.8 665.1L545.1 663.8"/><path stroke-width="5.0" d="M545.1 663.8L546.5 662.5L547.7 661.4L548.8 660L550 658.8"/><path stroke-width="5.0" d="M550 658.8L551.1 657.4L552.2 656.1L553.3 654.6L554.4 653.2"/><path stroke-width="4.9" d="M554.4 653.2L555.5 651.6L556.5 650L557.4 648.5L558.3 647"/><path stroke-width="4.9" d="M558.3 647L559.1 645.3L560 643.7L560.8 642L561.6 640.2"/><path stroke-width="4.9" d="M561.6 640.2L562.4 638.5L563.2 636.8L564 635L564.8 633.3"/><path stroke-width="4.9" d="M564.8 633.3L565.7 631.7L566.5 630L567.4 628.4L568.3 626.7"/><path stroke-width="4.9" d="M568.3 626.7L569.2 625.1L570.1 623.4L571 621.8L571.9 620.2"/><path stroke-width="4.9" d="M571.9 620.2L572.8 618.6L573.7 617.1L574.6 615.5L575.6 614"/><path stroke-width="5.0" d="M575.6 614L576.5 612.5L577.6 610.9L578.7 609.3L579.7 607.6"/><path stroke-width="5.0" d="M579.7 607.7L580.8 606.1L581.9 604.6L583.1 603L584.2 601.6"/><path stroke-width="5.0" d="M584.2 601.6L585.3 600.1L586.5 598.8L587.7 597.4L588.9 596"/><path stroke-width="5.0" d="M588.9 596L590.1 594.7L591.3 593.4L592.5 592.2L593.8 591"/><path stroke-width="5.0" d="M593.8 591L595.1 589.9L596.5 588.7L597.9 587.7L599.4 586.7"/><path stroke-width="5.1" d="M599.4 586.7L601 585.8L602.5 584.9L604.1 583.9L605.7 583.1"/><path stroke-width="5.1" d="M605.7 583.1L607.4 582.2L609 581.3L610.6 580.3L612.2 579.3"/><path stroke-width="5.0" d="M612.2 579.3L613.8 578.4L615.5 577.5L617.1 576.5L618.8 575.6"/><path stroke-width="5.0" d="M618.8 575.6L620.5 574.5L622.2 573.5L624 572.5L625.6 571.6"/><path stroke-width="5.0" d="M625.6 571.5L627.2 570.5L628.8 569.6L630.4 568.5L632.1 567.5"/><path stroke-width="5.1" d="M632.1 567.4L633.7 566.4L635.4 565.2L637.1 564.3L638.8 563.1"/><path stroke-width="5.0" d="M638.8 563.2L640.5 562.1L642.3 561L644 560L645.7 559"/><path stroke-width="5.1" d="M645.7 559L647.4 558L649.1 557.1L650.8 556.1L652.5 555.2"/><path stroke-width="5.0" d="M652.5 555.2L654.2 554.1L655.9 553.2L657.7 552.2L659.4 551.3"/><path stroke-width="5.1" d="M659.4 551.3L661.2 550.4L662.9 549.4L664.7 548.4L666.5 547.5"/><path stroke-width="5.1" d="M666.5 547.5L668.2 546.6L670 545.7L671.7 544.8L673.5 543.9"/><path stroke-width="5.1" d="M673.5 543.8L675.3 542.9L677.1 542L678.9 541.1L680.7 540.1"/><path stroke-width="5.1" d="M680.7 540.2L682.5 539.3L684.3 538.4L686.1 537.5L687.9 536.7"/><path stroke-width="5.1" d="M687.9 536.6L689.7 535.9L691.5 534.9L693.3 534.2L695.1 533.4"/><path stroke-width="5.1" d="M695.1 533.4L696.9 532.7L698.7 531.9L700.5 531.2L702.3 530.4"/><path stroke-width="5.0" d="M702.3 530.4L704.1 529.6L705.9 529L707.7 528.3L709.5 527.5"/><path stroke-width="5.1" d="M709.5 527.6L711.3 526.8L713 526.2L714.8 525.6L716.5 525"/><path stroke-width="5.1" d="M716.5 525L718.5 524.3L720.4 523.6L722.4 522.9L724.3 522.3"/><path stroke-width="5.1" d="M724.3 522.3L726.3 521.6L728.2 520.9L730.1 520.4L732 519.9"/><path stroke-width="5.2" d="M732 519.8L733.8 519.3L735.7 519L737.5 518.8L739.4 518.6"/><path stroke-width="5.1" d="M739.4 518.5L741.3 518.5L743.2 518.5L745 518.4L746.9 518.6"/><path stroke-width="5.1" d="M746.9 518.6L748.7 518.7L750.4 518.9L752.1 519.2L753.8 519.6"/><path stroke-width="5.2" d="M753.8 519.5L755.7 520L757.6 521L759.5 521.8L761.2 522.6"/><path stroke-width="5.2" d="M761.2 522.6L762.9 523.1L764.5 523L765.8 522.3L767 521.3"/><path stroke-width="5.0" d="M767 521.2L768 519.8L769.1 518.2L770.1 516.6L771.3 515"/><path stroke-width="5.1" d="M771.3 515L772.5 513.7L774 512.6L775.7 511.4L777.4 510.4"/><path stroke-width="5.2" d="M777.4 510.4L779.1 509.4L780.8 508.6L782.5 508.1L784.3 507.5"/><path stroke-width="5.2" d="M784.3 507.5L786.1 507.1L787.8 507L789.6 506.9L791.2 507.1"/><path stroke-width="5.2" d="M791.2 507L793 507.5L794.8 508.1L796.4 508.7L798 508.7"/><path stroke-width="5.1" d="M798 508.8L799.2 508L800.3 506.6L801.4 505L802.5 503.3"/><path stroke-width="5.1" d="M802.5 503.4L803.8 502.1L805.2 501L806.8 500L808.5 499.2"/><path stroke-width="5.2" d="M808.5 499.3L810.4 498.4L812.5 497.5L813.9 496.9L815.3 496.5"/><path stroke-width="5.2" d="M815.3 496.4L816.9 496L818.5 495.3L820.2 494.8L822 494.3"/><path stroke-width="5.3" d="M822 494.1L823.8 493.6L825.7 493L827.6 492.6L829.6 492"/><path stroke-width="5.3" d="M829.6 492.1L831.5 491.5L833.5 491L835.5 490.5L837.5 490"/><path stroke-width="5.3" d="M837.5 490.1L839.2 489.7L840.9 489.1L842.7 488.9L844.5 488.5"/><path stroke-width="5.3" d="M844.5 488.5L846.3 488.2L848.2 487.8L850 487.4L851.9 487.1"/><path stroke-width="5.4" d="M851.9 486.9L853.8 486.7L855.8 486.4L857.7 486L859.6 485.6"/><path stroke-width="5.2" d="M859.6 485.7L861.6 485.4L863.5 485L865.4 484.6L867.4 484.3"/><path stroke-width="5.2" d="M867.4 484.4L869.3 484.1L871.2 483.7L873.1 483.3L875 483"/><path stroke-width="5.2" d="M875 483.1L876.9 482.6L878.7 482.2L880.6 482L882.5 481.5"/><path stroke-width="5.3" d="M882.5 481.5L884.4 481.3L886.2 481L888.1 480.7L890 480.1"/><path stroke-width="5.4" d="M890 480.2L891.9 479.9L893.7 479.6L895.6 479.2L897.5 478.9"/><path stroke-width="5.4" d="M897.5 478.8L899.4 478.6L901.2 478.2L903.1 478L905 477.6"/><path stroke-width="5.4" d="M905 477.4L906.9 477.3L908.7 476.8L910.6 476.6L912.5 476.2"/><path stroke-width="5.3" d="M912.5 476.3L914.4 476L916.3 475.6L918.2 475.3L920.1 475"/><path stroke-width="5.4" d="M920.1 474.9L922.1 474.7L924 474.5L925.9 474.1L927.9 473.8"/><path stroke-width="5.4" d="M927.9 473.8L929.8 473.3L931.7 473.1L933.6 472.7L935.5 472.5"/><path stroke-width="5.4" d="M935.5 472.5L937.4 472.1L939.3 471.8L941.2 471.5L943 471.2"/><path stroke-width="5.4" d="M943 471.1L944.8 471L946.6 470.6L948.3 470.3L950 469.9"/><path stroke-width="5.5" d="M950 469.9L952.1 469.5L954.1 469.2L956.1 468.9L958.1 468.6"/><path stroke-width="5.5" d="M958.1 468.6L960 468.2L961.9 467.7L963.8 467.3L965.6 466.7"/><path stroke-width="5.4" d="M965.6 466.7L967.5 466.6L969.3 466.2L971.2 465.8L973.1 465.3"/><path stroke-width="5.4" d="M973.1 465.3L975 465L976.9 464.8L978.9 464.2L980.9 463.8"/><path stroke-width="5.4" d="M980.9 463.9L983 463.7L985 463.3L987 462.8L989 462.4"/><path stroke-width="5.4" d="M989 462.4L991 462.2L992.9 461.8L994.8 461.7L996.6 461.4"/><path stroke-width="5.5" d="M996.6 461.2L998.4 461.1L1000 460.6L1002.1 460.3L1004.1 460.1"/><path stroke-width="5.5" d="M1004.1 460L1006 459.7L1007.8 459.3L1009.5 459.5L1011.1 459.4"/><path stroke-width="5.5" d="M1011.1 459.5L1012.5 459.5L1014.2 460.4L1015.6 461.5L1017.5 462.6"/><path stroke-width="5.6" d="M1017.5 462.4L1018.8 462.6L1020.4 462.8L1022.3 463L1024.4 462.9"/><path stroke-width="5.4" d="M1024.4 463.1L1026.6 463L1028.9 462.8L1031.2 462.5L1033.6 462.5"/><path stroke-width="5.6" d="M1033.6 462.3L1035.9 462.1L1038.1 461.9L1040.2 461.7L1042.1 461.2"/><path stroke-width="5.6" d="M1042.1 461.1L1043.7 460.8L1045 460.6L1047 459.6L1048.4 458.5"/><path stroke-width="5.5" d="M1048.4 458.5L1050 457.4L1051.3 456.5L1052.7 455.5L1054.1 454.4"/><path stroke-width="5.6" d="M1054.1 454.4L1055.7 453.2L1057.5 452.6L1059 451.8L1060.7 451.6"/><path stroke-width="5.6" d="M1060.7 451.7L1062.5 451.4L1064.4 450.9L1066.3 450.9L1068.4 450.7"/><path stroke-width="5.6" d="M1068.4 450.5L1070.5 450.6L1072.7 450.3L1075 449.8L1076.6 449.7"/><path stroke-width="5.8" d="M1076.6 449.7L1078.4 449.5L1080.1 449.5L1082 449.3L1083.9 449"/><path stroke-width="5.8" d="M1083.9 448.7L1085.8 448.5L1087.8 448.7L1089.8 448.4L1091.8 447.8"/><path stroke-width="5.6" d="M1091.8 447.9L1093.9 448L1096 447.4L1098.1 447.4L1100.2 447.3"/><path stroke-width="5.8" d="M1100.2 447.3L1102.3 446.8L1104.4 446.5L1106.4 446.2L1108.5 446.3"/><path stroke-width="5.6" d="M1108.5 446.4L1110.5 446.1L1112.5 445.6L1114.5 445.7L1116.5 445.2"/><path stroke-width="5.8" d="M1116.5 445.1L1118.4 445.2L1120.4 445.1L1122.4 444.9L1124.4 444.3"/><path stroke-width="5.9" d="M1124.4 444.5L1126.4 444.4L1128.4 444L1130.4 443.9L1132.4 443.7"/><path stroke-width="5.9" d="M1132.4 443.4L1134.3 443.2L1136.3 443.2L1138.3 442.9L1140.3 442.7"/><path stroke-width="5.6" d="M1140.3 442.9L1142.2 442.4L1144.2 442.5L1146.1 442.3L1148.1 441.9"/><path stroke-width="5.7" d="M1148.1 442L1150 441.6L1151.9 441.5L1153.9 441.2L1155.8 441.4"/><path stroke-width="5.9" d="M1155.8 441.1L1157.7 440.8L1159.6 440.9L1161.5 440.8L1163.4 440.6"/><path stroke-width="5.7" d="M1163.4 440.4L1165.3 440.1L1167.1 440.2L1169 439.7L1170.9 439.7"/><path stroke-width="6.1" d="M1170.9 439.8L1172.8 439.2L1174.6 439L1176.5 438.8L1178.4 438.9"/><path stroke-width="5.9" d="M1178.4 438.8L1180.3 438.5L1182.1 438.2L1184 438.1L1185.9 437.8"/><path stroke-width="6.1" d="M1185.9 437.8L1187.7 437.5L1189.6 437.3L1191.4 436.9L1193.3 436.5"/><path stroke-width="5.7" d="M1193.3 436.5L1195.1 436.2L1197 435.6L1198.8 435.5L1200.7 434.7"/><path stroke-width="6.1" d="M1200.7 434.9L1202.5 434.6L1204.4 434L1206.2 433.6L1208.1 433.2"/><path stroke-width="5.9" d="M1208.1 433.1L1209.9 432.9L1211.8 432.7L1213.7 432.2L1215.6 431.9"/><path stroke-width="6.1" d="M1215.6 431.8L1217.5 431.5L1219.3 431L1221.2 430.3L1223.1 429.9"/><path stroke-width="5.9" d="M1223.1 429.7L1225 429.4L1226.9 429.3L1228.8 428.9L1230.8 428.1"/><path stroke-width="6.1" d="M1230.8 428.4L1232.7 428L1234.7 427.5L1236.6 426.9L1238.5 426.2"/><path stroke-width="6.2" d="M1238.5 426.3L1240.4 426L1242.4 425.4L1244.2 425L1246.1 424.8"/><path stroke-width="5.9" d="M1246.1 424.6L1248 424.2L1249.8 423.7L1251.5 423.5L1253.3 422.8"/><path stroke-width="6.3" d="M1253.3 423L1255 422.8L1257.1 421.8L1259.1 421.4L1261.2 420.9"/><path stroke-width="6.4" d="M1261.2 420.8L1263.1 420.4L1265.1 420.3L1267 420L1268.9 419"/><path stroke-width="6.2" d="M1268.9 419.3L1270.8 418.9L1272.7 418.6L1274.5 418.2L1276.3 417.5"/><path stroke-width="6.2" d="M1276.3 417.3L1278.2 417.4L1280 416.8L1281.9 416.5L1283.7 416.8"/><path stroke-width="6.5" d="M1283.7 416.5L1285.6 416.3L1287.4 416L1289.2 415.9L1290.9 415.4"/><path stroke-width="6.3" d="M1290.9 415.3L1292.7 415.1L1294.5 415.2L1296.3 414.9L1298.1 414.8"/><path stroke-width="6.6" d="M1298.1 415.5L1300 415.2L1301.9 414.7L1303.8 415L1305.8 414.5"/><path stroke-width="6.4" d="M1305.8 414.6L1307.8 414.6L1309.8 414.7L1311.8 414.5L1313.8 414.7"/><path stroke-width="6.5" d="M1313.8 414.9L1315.7 414.4L1317.5 415L1319.3 414.5L1321 415.4"/><path stroke-width="6.6" d="M1321 415.5L1322.5 415.8L1324.5 416.3L1326.3 416.7L1327.9 417.3"/><path stroke-width="6.3" d="M1327.9 418.1L1329.5 418.5L1331 420.1L1332.5 421.3L1333.7 422.6"/><path stroke-width="6.0" d="M1333.7 422.2L1334.9 423.6L1336 425.6L1337.1 426.8L1338.2 428.6"/><path stroke-width="6.1" d="M1338.2 428.4L1339.2 430L1340.3 431.6L1341.4 433.7L1342.5 434.8"/><path stroke-width="6.3" d="M1342.5 434.9L1343.6 436.7L1344.7 438.1L1345.9 440.4L1347 441.9"/><path stroke-width="6.2" d="M1347 442.1L1348.2 443.5L1349.3 445.1L1350.4 446.7L1351.5 447.1"/><path stroke-width="6.7" d="M1351.5 447.5L1352.5 447.3L1353.5 446.8L1354.5 445.8L1355.5 444.5"/><path stroke-width="5.8" d="M1355.5 444.7L1356.4 442.8L1357.3 441L1358.2 438.6L1359.1 436.9"/><path stroke-width="6.0" d="M1359.1 436.7L1360 434.8L1360.8 433.4L1361.6 431.5L1362.4 430"/><path stroke-width="5.9" d="M1362.4 429.8L1363.1 428.1L1363.9 426.5L1364.7 424.7L1365.5 423"/><path stroke-width="6.2" d="M1365.5 422.9L1366.5 421.2L1367.5 419.9L1368.7 418.5L1369.9 417.3"/><path stroke-width="6.7" d="M1369.9 416.6L1371.2 415.3L1372.5 414.3L1374 412.8L1375.4 411.7"/><path stroke-width="7.3" d="M1375.4 411.8L1376.9 409.8L1378.4 409.5L1380 408L1381.5 406.8"/><path stroke-width="7.0" d="M1381.5 407.5L1383.1 406L1384.7 405.1L1386.4 404.7L1388.1 404.8"/><path stroke-width="7.4" d="M1388.1 404.6L1389.8 403.2L1391.5 403.1L1393.3 402.4L1395 401.6"/><path stroke-width="7.6" d="M1395 401.8L1396.7 400.9L1398.5 401.2L1400.4 399.8L1402.2 398.7"/><path stroke-width="7.1" d="M1402.2 399.2L1404.1 398.3L1406 397L1407.8 397L1409.5 396.9"/><path stroke-width="7.9" d="M1409.5 396.2L1411 396.3L1412.5 396.4L1414.1 396.8L1415.5 396.8"/><path stroke-width="8.0" d="M1415.5 397.8L1416.9 398.4L1418.3 399.4L1420 399.3L1421.6 400.3"/><path stroke-width="7.6" d="M1421.6 399.4L1423.3 400L1425.2 400.5L1427.2 399.3L1429.3 399.4"/><path stroke-width="7.5" d="M1429.3 399.7L1431.4 399.2L1433.6 399.2L1435.8 399.9L1437.9 399.6"/><path stroke-width="8.6" d="M1437.9 399.3L1440 399.8L1441.8 398.9L1443.7 400.4L1445.6 399.5"/><path stroke-width="8.1" d="M1445.6 399.9L1447.5 400.8L1449.5 400.3L1451.4 401.3L1453.3 400.9"/><path stroke-width="7.9" d="M1453.3 401.3L1455.2 400.4L1457.1 401.7L1458.9 400.8L1460.8 400.3"/><path stroke-width="8.7" d="M1460.8 400.5L1462.5 400.4L1464.4 399.8L1466.1 399.7L1467.9 398"/><path stroke-width="7.8" d="M1467.9 398.2L1469.6 398.4L1471.2 396.3L1472.9 396.2L1474.6 394.8"/><path stroke-width="8.0" d="M1474.6 395.2L1476.3 394.5L1478.1 392.8L1480 392.1L1481.6 391.3"/><path stroke-width="8.8" d="M1481.6 391.3L1483.4 390.6L1485.1 390.5L1486.9 389.9L1488.7 389.7"/><path stroke-width="7.8" d="M1488.7 388.7L1490.6 387.9L1492.5 387.9L1494.3 387.1L1496.2 386.4"/><path stroke-width="8.9" d="M1496.2 386.8L1498 386.5L1499.8 386.1L1501.6 384.4L1503.3 385"/><path stroke-width="8.4" d="M1503.3 383.5L1505 384.4L1507.1 382.5L1509.1 381.8L1511.1 381.6"/><path stroke-width="8.3" d="M1511.1 382.8L1513.1 382.1L1515.1 380.9L1517 380.6L1518.9 380.9"/><path stroke-width="9.2" d="M1518.9 380.6L1520.7 380.1L1522.5 379.3L1524.4 379.6L1526.1 380.5"/><path stroke-width="8.8" d="M1526.1 380.8L1527.9 381.2L1529.6 381.8L1531.3 380.9L1533.1 381.2"/><path stroke-width="9.2" d="M1533.1 382.1L1535 381.9L1536.7 383.4L1538.4 383.2L1540.2 383.8"/><path stroke-width="8.5" d="M1540.2 384.4L1542 385.3L1543.9 385.1L1545.8 387L1547.6 387.6"/><path stroke-width="8.6" d="M1547.6 387.7L1549.5 388.7L1551.4 388.1L1553.2 389.7L1555 390.8"/><path stroke-width="9.1" d="M1555 390.8L1556.8 390.6L1558.6 392.7L1560.5 393.1L1562.3 392.7"/><path stroke-width="8.7" d="M1562.3 394L1564.1 393.3L1565.8 394.4L1567.6 396L1569.3 396.6"/><path stroke-width="8.2" d="M1569.3 396.3L1570.9 396.4L1572.5 397.8L1574.2 398.9L1575.8 398.9"/><path stroke-width="7.9" d="M1575.8 399.1L1577.4 400.4L1578.9 401.2L1580.4 402.5L1581.9 404"/><path stroke-width="8.3" d="M1581.9 403.5L1583.4 405.4L1585 407L1586.8 407.4L1588.5 408.1"/><path stroke-width="8.9" d="M1588.5 408.2L1590.3 408.7L1592.1 410.2L1593.9 410.3L1595.7 412.2"/><path stroke-width="8.4" d="M1595.7 411.6L1597.5 413.3L1599.2 413.5L1600.9 414.1L1602.7 414.1"/><path stroke-width="9.2" d="M1602.7 414.2L1604.4 415L1606.1 413.8L1607.8 415L1609.4 414.1"/><path stroke-width="8.6" d="M1609.4 415.1L1611.4 414.6L1613.3 414.9L1615.2 414.6L1617 413.6"/><path stroke-width="7.9" d="M1617 412.6L1618.8 412.8L1620.2 412.2L1621.5 410.5L1622.9 408.9"/><path stroke-width="7.4" d="M1622.9 409.1L1624.2 408.6L1625.5 406.4L1626.8 405.6L1628.2 404.8"/><path stroke-width="9.1" d="M1628.2 406L1630 403.4L1631.8 402.9L1633.7 403.8L1635.6 403.4"/><path stroke-width="8.4" d="M1635.6 402.3L1637.6 402.3L1639.4 401.8L1641.4 401.8L1643.4 401.9"/><path stroke-width="8.5" d="M1643.4 401.1L1645.3 401.3L1647.1 401.7L1648.8 402.2L1650.3 404"/><path stroke-width="7.8" d="M1650.3 403.5L1651.6 405.3L1652.8 406.6L1654 407.5L1655.1 409.3"/><path stroke-width="6.9" d="M1655.1 409.7L1656.3 410.9L1657.4 411.8L1658.4 413.5L1659.4 415.8"/><path stroke-width="7.0" d="M1659.4 415.8L1660.5 417L1661.5 419.3L1662.6 420.9L1663.8 421.6"/><path stroke-width="8.0" d="M1663.8 421.6L1665 423.6L1666.3 424.9L1667.7 426.1L1669.1 426.4"/><path stroke-width="7.8" d="M1669.1 427.1L1670.5 428L1671.8 428.2L1673.2 429.1L1674.7 430.4"/><path stroke-width="8.1" d="M1674.7 430.5L1676.3 430.3L1677.9 430.7L1679.3 431.5L1680.7 432.5"/><path stroke-width="7.5" d="M1680.7 431.9L1681.8 433.7L1682.8 434.4L1683.7 435.8L1684.6 437.7"/><path stroke-width="6.9" d="M1684.6 437.7L1685.5 439.5L1686.4 440.5L1687.2 442.1L1688 443.9"/><path stroke-width="6.5" d="M1688 443.5L1688.9 445.2L1689.7 447.3L1690.5 449L1691.3 450.7"/><path stroke-width="6.9" d="M1691.3 450.7L1692.2 452.1L1693 453.9L1693.9 456L1694.7 457.1"/><path stroke-width="6.7" d="M1694.7 457.1L1695.5 458.7L1696.4 460.8L1697.2 462.2L1698.1 464.6"/><path stroke-width="6.9" d="M1698.1 464.2L1699 465.7L1699.8 467.4L1700.7 469.4L1701.6 471.2"/><path stroke-width="6.3" d="M1701.6 471.3L1702.4 472.9L1703.3 474.8L1704.2 476L1705.1 477.7"/><path stroke-width="6.2" d="M1705.1 478L1706 479.6L1706.9 481.6L1707.8 483L1708.7 484.8"/><path stroke-width="5.9" d="M1708.7 485L1709.5 486.7L1710.4 488.2L1711.2 490L1712 491.9"/><path stroke-width="5.7" d="M1712 491.7L1712.7 493.3L1713.5 495.3L1714.2 497.2L1714.9 498.9"/><path stroke-width="5.2" d="M1714.9 499.1L1715.5 501L1716.1 502.6L1716.7 504.6L1717.2 506.5"/><path stroke-width="5.1" d="M1717.2 506.4L1717.8 508.4L1718.3 510.3L1718.8 512.1L1719.2 513.9"/><path stroke-width="5.0" d="M1719.2 513.9L1719.6 515.8L1720 517.6L1720.3 519.4L1720.6 521.4"/><path stroke-width="4.9" d="M1720.6 521.3L1721 523.2L1721.3 525.1L1721.7 527.1L1722 529.1"/><path stroke-width="4.9" d="M1722 529.1L1722.3 530.9L1722.6 532.7L1722.9 534.5L1723.2 536.3"/><path stroke-width="4.9" d="M1723.2 536.4L1723.5 538.2L1723.8 540.1L1724.1 542.1L1724.4 544"/><path stroke-width="4.9" d="M1724.4 544L1724.7 545.9L1725 547.8L1725.3 549.7L1725.5 551.6"/><path stroke-width="4.9" d="M1725.5 551.6L1725.8 553.5L1726.1 555.4L1726.3 557.3L1726.5 559.1"/><path stroke-width="4.9" d="M1726.5 559.1L1726.8 561L1727 562.9L1727.2 564.8L1727.4 566.7"/><path stroke-width="4.8" d="M1727.4 566.7L1727.6 568.6L1727.8 570.5L1728 572.4L1728.2 574.2"/><path stroke-width="4.8" d="M1728.2 574.2L1728.4 576.1L1728.6 577.9L1728.8 579.8L1729 581.6"/><path stroke-width="4.8" d="M1729 581.6L1729.1 583.4L1729.3 585.2L1729.5 586.9L1729.6 588.7"/><path stroke-width="4.8" d="M1729.6 588.7L1729.8 590.5L1729.9 592.3L1730.1 594.1L1730.2 596"/><path stroke-width="4.8" d="M1730.2 596L1730.4 598L1730.5 600L1730.6 601.7L1730.7 603.5"/><path stroke-width="4.8" d="M1730.7 603.5L1730.8 605.2L1730.9 607L1731 608.8L1731.1 610.6"/><path stroke-width="4.8" d="M1731.1 610.6L1731.2 612.4L1731.3 614.3L1731.3 616.2L1731.4 618.2"/><path stroke-width="4.8" d="M1731.4 618.1L1731.5 620.1L1731.6 622.1L1731.6 624.2L1731.7 626.3"/><path stroke-width="4.8" d="M1731.7 626.3L1731.8 628.4L1731.9 630.6L1731.9 632.8L1732 635.1"/><path stroke-width="4.8" d="M1732 635.1L1732 636.7L1732.1 638.4L1732.1 640.1L1732.2 641.8"/><path stroke-width="4.8" d="M1732.2 641.8L1732.2 643.6L1732.3 645.4L1732.3 647.2L1732.4 649.1"/><path stroke-width="4.8" d="M1732.4 649.1L1732.4 650.9L1732.4 652.8L1732.5 654.8L1732.5 656.7"/><path stroke-width="4.8" d="M1732.5 656.7L1732.6 658.7L1732.6 660.7L1732.6 662.7L1732.7 664.7"/><path stroke-width="4.8" d="M1732.7 664.7L1732.7 666.8L1732.7 668.8L1732.8 670.9L1732.8 673"/><path stroke-width="4.8" d="M1732.8 673L1732.8 675L1732.9 677.1L1732.9 679.2L1733 681.3"/><path stroke-width="4.8" d="M1733 681.3L1733 683.4L1733 685.5L1733.1 687.6L1733.1 689.7"/><path stroke-width="4.8" d="M1733.1 689.7L1733.1 691.8L1733.2 693.9L1733.2 696L1733.2 698"/><path stroke-width="4.8" d="M1733.2 698L1733.3 700.1L1733.3 702.2L1733.4 704.2L1733.4 706.2"/><path stroke-width="4.8" d="M1733.4 706.2L1733.5 708.2L1733.5 710.2L1733.5 712.2L1733.6 714.2"/><path stroke-width="4.8" d="M1733.6 714.2L1733.6 716.1L1733.7 718.1L1733.7 720.1L1733.8 722.1"/><path stroke-width="4.8" d="M1733.8 722.1L1733.8 724.1L1733.9 726.1L1733.9 728.1L1734 730.1"/><path stroke-width="4.8" d="M1734 730.1L1734 732.1L1734.1 734.1L1734.1 736.1L1734.2 738.1"/><path stroke-width="4.8" d="M1734.2 738.1L1734.2 740.1L1734.3 742.1L1734.3 744.1L1734.4 746.1"/><path stroke-width="4.8" d="M1734.4 746.1L1734.4 748.1L1734.5 750.1L1734.5 752.1L1734.6 754.1"/><path stroke-width="4.8" d="M1734.6 754.1L1734.6 756.1L1734.7 758L1734.7 760L1734.8 762"/><path stroke-width="4.8" d="M1734.8 762L1734.8 764L1734.9 765.9L1734.9 767.9L1735 769.9"/><path stroke-width="4.8" d="M1735 769.9L1735 771.8L1735.1 773.8L1735.1 775.7L1735.2 777.6"/><path stroke-width="4.8" d="M1735.2 777.6L1735.2 779.6L1735.3 781.5L1735.3 783.4L1735.4 785.3"/><path stroke-width="4.8" d="M1735.4 785.3L1735.5 787.3L1735.5 789.3L1735.6 791.3L1735.6 793.3"/><path stroke-width="4.8" d="M1735.6 793.3L1735.7 795.3L1735.7 797.2L1735.8 799.2L1735.8 801.1"/><path stroke-width="4.8" d="M1735.8 801.1L1735.9 803.1L1735.9 805L1736 806.9L1736.1 808.8"/><path stroke-width="4.8" d="M1736.1 808.8L1736.1 810.7L1736.2 812.7L1736.2 814.6L1736.3 816.5"/><path stroke-width="4.8" d="M1736.3 816.5L1736.3 818.4L1736.4 820.3L1736.5 822.2L1736.5 824.1"/><path stroke-width="4.8" d="M1736.5 824.1L1736.6 826.1L1736.6 828L1736.7 829.9L1736.7 831.9"/><path stroke-width="4.8" d="M1736.7 831.9L1736.8 833.8L1736.9 835.8L1736.9 837.8L1737 839.8"/><path stroke-width="4.8" d="M1737 839.8L1737 841.8L1737.1 843.8L1737.2 845.9L1737.2 847.9"/><path stroke-width="4.8" d="M1737.2 847.9L1737.3 850L1737.4 851.9L1737.4 853.8L1737.5 855.6"/><path stroke-width="4.8" d="M1737.5 855.6L1737.5 857.5L1737.6 859.5L1737.7 861.4L1737.7 863.3"/><path stroke-width="4.8" d="M1737.7 863.3L1737.8 865.2L1737.9 867.2L1737.9 869.1L1738 871.1"/><path stroke-width="4.8" d="M1738 871.1L1738.1 873L1738.1 875L1738.2 877L1738.3 879"/><path stroke-width="4.8" d="M1738.3 879L1738.3 881L1738.4 882.9L1738.5 884.9L1738.5 887"/><path stroke-width="4.8" d="M1738.5 887L1738.6 889L1738.7 891L1738.7 893L1738.8 895"/><path stroke-width="4.8" d="M1738.8 895L1738.9 897L1738.9 899.1L1739 901.1L1739.1 903.1"/><path stroke-width="4.8" d="M1739.1 903.1L1739.2 905.2L1739.2 907.2L1739.3 909.3L1739.4 911.3"/><path stroke-width="4.8" d="M1739.4 911.3L1739.4 913.4L1739.5 915.4L1739.6 917.5L1739.6 919.5"/><path stroke-width="4.8" d="M1739.6 919.5L1739.7 921.6L1739.8 923.6L1739.8 925.7L1739.9 927.7"/><path stroke-width="4.8" d="M1739.9 927.7L1740 929.8L1740 931.8L1740.1 933.9L1740.2 935.8"/><path stroke-width="4.8" d="M1740.2 935.8L1740.2 937.8L1740.3 939.8L1740.3 941.8L1740.4 943.8"/><path stroke-width="4.8" d="M1740.4 943.8L1740.5 945.8L1740.5 947.8L1740.6 949.9L1740.6 951.9"/><path stroke-width="4.8" d="M1740.6 951.9L1740.7 954L1740.7 956L1740.8 958.1L1740.9 960.2"/><path stroke-width="4.8" d="M1740.9 960.2L1740.9 962.2L1741 964.3L1741 966.4L1741.1 968.5"/><path stroke-width="4.8" d="M1741.1 968.5L1741.1 970.6L1741.2 972.6L1741.3 974.7L1741.3 976.8"/><path stroke-width="4.8" d="M1741.3 976.8L1741.4 978.9L1741.4 981L1741.5 983L1741.5 985.1"/><path stroke-width="4.8" d="M1741.5 985.1L1741.6 987.2L1741.7 989.2L1741.7 991.3L1741.8 993.3"/><path stroke-width="4.8" d="M1741.8 993.3L1741.8 995.4L1741.9 997.4L1741.9 999.4L1742 1001.4"/><path stroke-width="4.8" d="M1742 1001.4L1742.1 1003.4L1742.1 1005.4L1742.2 1007.4L1742.2 1009.3"/><path stroke-width="4.8" d="M1742.2 1009.3L1742.3 1011.2L1742.4 1013.2L1742.4 1015.1L1742.5 1016.9"/><path stroke-width="4.8" d="M1742.5 1016.9L1742.6 1018.8L1742.6 1020.6L1742.7 1022.5L1742.8 1024.3"/><path stroke-width="4.8" d="M1742.8 1024.3L1742.8 1026L1742.9 1027.8L1743 1030L1743.1 1032.1"/><path stroke-width="4.8" d="M1743.1 1032.1L1743.2 1034.3L1743.3 1036.4L1743.3 1038.5L1743.4 1040.6"/><path stroke-width="4.8" d="M1743.4 1040.6L1743.5 1042.7L1743.6 1044.7L1743.7 1046.8L1743.8 1048.8"/><path stroke-width="4.8" d="M1743.8 1048.8L1743.9 1050.8L1744 1052.8L1744.1 1054.7L1744.2 1056.7"/><path stroke-width="4.8" d="M1744.2 1056.7L1744.3 1058.6L1744.4 1060.5L1744.5 1062.4L1744.6 1064.3"/><path stroke-width="4.8" d="M1744.6 1064.3L1744.7 1066.2L1744.8 1068L1744.9 1069.9L1745 1071.7"/><path stroke-width="4.8" d="M1745 1071.7L1745.1 1073.5L1745.2 1075.3L1745.3 1077.1L1745.4 1078.9"/><path stroke-width="4.8" d="M1745.4 1078.9L1745.5 1080.6L1745.6 1082.4L1745.7 1084.1L1745.8 1086.2"/><path stroke-width="4.8" d="M1745.8 1086.2L1746 1088.3L1746.1 1090.5L1746.2 1092.6L1746.4 1094.8"/><path stroke-width="4.8" d="M1746.4 1094.8L1746.5 1096.9L1746.6 1099L1746.8 1101.1L1746.9 1103.1"/><path stroke-width="4.8" d="M1746.9 1103.1L1747 1105.1L1747.2 1107.1L1747.3 1109L1747.5 1110.8"/><path stroke-width="4.8" d="M1747.5 1110.8L1747.6 1112.6L1747.8 1114.3L1748 1115.9L1748.1 1117.3"/><path stroke-width="4.8" d="M1748.1 1117.3L1748.3 1118.7L1748.5 1120L1748.8 1122.2L1749 1124.1"/><path stroke-width="5.1" d="M1749 1124.1L1749.2 1125.8L1749.7 1127.3L1750.4 1128.2L1752.1 1128.4"/><path stroke-width="5.1" d="M1752.1 1128.5L1754.2 1127.9L1756 1128.2L1756.7 1129L1757.2 1130.3"/><path stroke-width="4.8" d="M1757.2 1130.3L1757.6 1131.9L1757.9 1133.7L1758.1 1135.7L1758.2 1137.9"/><path stroke-width="4.8" d="M1758.2 1137.9L1758.3 1140.3L1758.4 1142.7L1758.5 1145.2L1758.7 1147.6"/><path stroke-width="4.8" d="M1758.7 1147.6L1758.9 1150L1759.1 1151.6L1759.2 1153.3L1759.4 1155"/><path stroke-width="4.8" d="M1759.4 1155L1759.6 1156.7L1759.7 1158.5L1759.9 1160.3L1760 1162.2"/><path stroke-width="4.8" d="M1760 1162.2L1760.2 1164.1L1760.3 1166L1760.5 1167.9L1760.7 1169.9"/><path stroke-width="4.8" d="M1760.7 1169.9L1760.8 1171.9L1761 1173.9L1761.1 1175.9L1761.3 1177.9"/><path stroke-width="4.8" d="M1761.3 1177.9L1761.4 1179.9L1761.6 1182L1761.7 1184L1761.9 1186"/><path stroke-width="4.8" d="M1761.9 1186L1762.1 1188L1762.2 1190L1762.4 1192L1762.6 1193.9"/><path stroke-width="4.8" d="M1762.6 1193.9L1762.8 1195.8L1763 1197.7L1763.1 1199.7L1763.3 1201.6"/><path stroke-width="4.8" d="M1763.3 1201.6L1763.5 1203.6L1763.7 1205.5L1763.9 1207.5L1764.1 1209.4"/><path stroke-width="4.8" d="M1764.1 1209.4L1764.3 1211.4L1764.5 1213.3L1764.7 1215.3L1764.9 1217.2"/><path stroke-width="4.8" d="M1764.9 1217.3L1765.1 1219.2L1765.3 1221.2L1765.5 1223.1L1765.7 1225.1"/><path stroke-width="4.8" d="M1765.7 1225.1L1765.9 1227.1L1766.1 1229L1766.3 1231L1766.5 1233"/><path stroke-width="4.8" d="M1766.5 1233L1766.7 1234.9L1766.9 1236.9L1767.1 1238.8L1767.3 1240.8"/><path stroke-width="4.8" d="M1767.3 1240.8L1767.5 1242.8L1767.7 1244.7L1767.9 1246.7L1768.1 1248.7"/><path stroke-width="4.8" d="M1768.1 1248.7L1768.3 1250.7L1768.5 1252.7L1768.6 1254.7L1768.8 1256.8"/><path stroke-width="4.8" d="M1768.8 1256.8L1769 1258.8L1769.2 1260.8L1769.4 1262.8L1769.6 1264.8"/><path stroke-width="4.8" d="M1769.6 1264.8L1769.8 1266.8L1770 1268.8L1770.2 1270.7L1770.4 1272.7"/><path stroke-width="4.8" d="M1770.4 1272.7L1770.6 1274.7L1770.8 1276.6L1771 1278.5L1771.2 1280.4"/><path stroke-width="4.8" d="M1771.2 1280.4L1771.4 1282.3L1771.6 1284.2L1771.8 1286L1772 1287.8"/><path stroke-width="4.9" d="M1772 1287.8L1772.2 1289.8L1772.5 1291.9L1772.7 1293.9L1773 1296"/><path stroke-width="4.8" d="M1773 1296L1773.2 1298L1773.5 1300.1L1773.7 1302.1L1774 1304.1"/><path stroke-width="4.9" d="M1774 1304.1L1774.2 1306L1774.5 1308L1774.7 1309.9L1775 1311.7"/><path stroke-width="4.9" d="M1775 1311.7L1775.3 1313.5L1775.5 1315.3L1775.8 1316.9L1776.1 1318.6"/><path stroke-width="4.9" d="M1776.1 1318.6L1776.4 1320.1L1776.7 1321.6L1777.2 1323.9L1777.7 1326"/><path stroke-width="4.9" d="M1777.7 1326L1778.3 1328L1778.8 1329.9L1779.4 1331.6L1779.9 1333.2"/><path stroke-width="5.0" d="M1779.9 1333.2L1780.5 1334.7L1781.2 1336.7L1782 1338.5L1782.9 1339.4"/><path stroke-width="5.0" d="M1782.9 1339.4L1783.8 1339L1784.9 1337.9L1786 1336.3L1787 1334.7"/><path stroke-width="4.9" d="M1787 1334.7L1787.7 1333.3L1788.3 1331.7L1788.9 1329.9L1789.4 1328.1"/><path stroke-width="4.9" d="M1789.4 1328.1L1789.9 1326L1790.4 1323.9L1790.8 1321.6L1791.1 1320"/><path stroke-width="4.8" d="M1791.1 1320L1791.3 1318.3L1791.5 1316.6L1791.7 1314.7L1791.9 1312.7"/><path stroke-width="4.8" d="M1791.9 1312.7L1792.1 1310.7L1792.2 1308.7L1792.4 1306.6L1792.5 1304.4"/><path stroke-width="4.8" d="M1792.5 1304.4L1792.6 1302.3L1792.7 1300.1L1792.9 1298L1793 1295.9"/><path stroke-width="4.8" d="M1793 1295.9L1793.1 1293.8L1793.3 1291.7L1793.4 1289.7L1793.6 1287.8"/><path stroke-width="4.8" d="M1793.6 1287.8L1793.8 1285.8L1793.9 1283.8L1794.1 1281.9L1794.2 1279.9"/><path stroke-width="4.8" d="M1794.2 1279.9L1794.4 1277.9L1794.5 1275.9L1794.7 1273.9L1794.8 1272"/><path stroke-width="4.8" d="M1794.8 1272L1795 1270.1L1795.2 1268.2L1795.4 1266.4L1795.6 1264.6"/><path stroke-width="4.9" d="M1795.6 1264.6L1795.8 1262.9L1796.1 1261.2L1796.4 1259.6L1796.9 1257.5"/><path stroke-width="4.9" d="M1796.9 1257.5L1797.5 1255.6L1798.1 1253.7L1798.7 1252L1799.4 1250.3"/><path stroke-width="4.9" d="M1799.4 1250.2L1800 1248.5L1800.6 1246.6L1801.1 1244.6L1801.4 1242.9"/><path stroke-width="4.9" d="M1801.4 1242.9L1801.8 1241.1L1802 1239.4L1802.3 1237.5L1802.5 1235.7"/><path stroke-width="4.8" d="M1802.5 1235.7L1802.7 1233.8L1802.9 1231.8L1803.1 1229.9L1803.3 1227.9"/><path stroke-width="4.8" d="M1803.3 1227.9L1803.5 1226L1803.7 1224L1803.9 1222L1804.1 1220.2"/><path stroke-width="4.8" d="M1804.1 1220.2L1804.3 1218.4L1804.5 1216.6L1804.7 1214.8L1804.9 1213"/><path stroke-width="4.8" d="M1804.9 1213L1805.1 1211.2L1805.2 1209.3L1805.4 1207.5L1805.6 1205.6"/><path stroke-width="4.8" d="M1805.6 1205.6L1805.8 1203.7L1806 1201.8L1806.2 1199.8L1806.3 1197.9"/><path stroke-width="4.8" d="M1806.3 1197.9L1806.5 1195.9L1806.7 1193.9L1806.9 1192L1807 1190.2"/><path stroke-width="4.8" d="M1807 1190.2L1807.2 1188.3L1807.4 1186.4L1807.5 1184.4L1807.7 1182.4"/><path stroke-width="4.8" d="M1807.7 1182.4L1807.8 1180.5L1808 1178.5L1808.2 1176.5L1808.3 1174.4"/><path stroke-width="4.8" d="M1808.3 1174.4L1808.5 1172.4L1808.6 1170.4L1808.8 1168.4L1808.9 1166.3"/><path stroke-width="4.8" d="M1808.9 1166.3L1809.1 1164.3L1809.2 1162.3L1809.3 1160.3L1809.5 1158.3"/><path stroke-width="4.8" d="M1809.5 1158.3L1809.6 1156.3L1809.7 1154.3L1809.8 1152.4L1809.9 1150.5"/><path stroke-width="4.8" d="M1809.9 1150.5L1810 1148.6L1810.1 1146.7L1810.2 1144.9L1810.3 1143"/><path stroke-width="4.8" d="M1810.3 1143L1810.4 1141.1L1810.5 1139.3L1810.6 1137.4L1810.7 1135.4"/><path stroke-width="4.8" d="M1810.7 1135.4L1810.8 1133.5L1810.9 1131.5L1810.9 1129.5L1811 1127.5"/><path stroke-width="4.8" d="M1811 1127.5L1811.1 1125.4L1811.2 1123.3L1811.3 1121.1L1811.4 1118.8"/><path stroke-width="4.8" d="M1811.4 1118.8L1811.5 1117.1L1811.5 1115.5L1811.6 1113.8L1811.7 1112"/><path stroke-width="4.8" d="M1811.7 1112L1811.8 1110.3L1811.8 1108.5L1811.9 1106.7L1812 1104.9"/><path stroke-width="4.8" d="M1812 1104.9L1812 1103.1L1812.1 1101.2L1812.2 1099.3L1812.3 1097.4"/><path stroke-width="4.8" d="M1812.3 1097.4L1812.3 1095.5L1812.4 1093.6L1812.5 1091.6L1812.6 1089.7"/><path stroke-width="4.8" d="M1812.6 1089.7L1812.6 1087.7L1812.7 1085.7L1812.8 1083.7L1812.9 1081.7"/><path stroke-width="4.8" d="M1812.9 1081.7L1812.9 1079.7L1813 1077.6L1813.1 1075.6L1813.2 1073.5"/><path stroke-width="4.8" d="M1813.2 1073.5L1813.2 1071.5L1813.3 1069.4L1813.4 1067.3L1813.5 1065.3"/><path stroke-width="4.8" d="M1813.5 1065.3L1813.6 1063.2L1813.6 1061.1L1813.7 1059L1813.8 1056.9"/><path stroke-width="4.8" d="M1813.8 1056.9L1813.9 1054.8L1814 1052.8L1814 1050.7L1814.1 1048.6"/><path stroke-width="4.8" d="M1814.1 1048.6L1814.2 1046.5L1814.3 1044.6L1814.3 1042.7L1814.4 1040.8"/><path stroke-width="4.8" d="M1814.4 1040.8L1814.5 1038.9L1814.6 1037L1814.7 1035L1814.7 1033.1"/><path stroke-width="4.8" d="M1814.7 1033.1L1814.8 1031.1L1814.9 1029.1L1815 1027.2L1815 1025.2"/><path stroke-width="4.8" d="M1815 1025.2L1815.1 1023.2L1815.2 1021.1L1815.3 1019.1L1815.3 1017.1"/><path stroke-width="4.8" d="M1815.3 1017.1L1815.4 1015.1L1815.5 1013L1815.6 1011L1815.7 1008.9"/><path stroke-width="4.8" d="M1815.7 1008.9L1815.7 1006.9L1815.8 1004.8L1815.9 1002.8L1816 1000.7"/><path stroke-width="4.8" d="M1816 1000.7L1816.1 998.7L1816.2 996.6L1816.2 994.6L1816.3 992.5"/><path stroke-width="4.8" d="M1816.3 992.5L1816.4 990.5L1816.5 988.4L1816.6 986.4L1816.6 984.3"/><path stroke-width="4.8" d="M1816.6 984.3L1816.7 982.3L1816.8 980.3L1816.9 978.2L1817 976.2"/><path stroke-width="4.8" d="M1817 976.2L1817.1 974.2L1817.1 972.2L1817.2 970.2L1817.3 968.2"/><path stroke-width="4.8" d="M1817.3 968.2L1817.4 966.2L1817.5 964.3L1817.6 962.3L1817.7 960.4"/><path stroke-width="4.8" d="M1817.7 960.4L1817.7 958.4L1817.8 956.5L1817.9 954.6L1818 952.7"/><path stroke-width="4.8" d="M1818 952.7L1818.1 950.6L1818.2 948.5L1818.3 946.4L1818.4 944.3"/><path stroke-width="4.8" d="M1818.4 944.3L1818.5 942.2L1818.6 940.1L1818.7 938L1818.8 935.9"/><path stroke-width="4.8" d="M1818.8 935.9L1818.9 933.8L1819 931.7L1819.1 929.6L1819.2 927.5"/><path stroke-width="4.8" d="M1819.2 927.5L1819.3 925.4L1819.4 923.3L1819.5 921.2L1819.6 919.2"/><path stroke-width="4.8" d="M1819.6 919.2L1819.7 917.1L1819.8 915.1L1819.9 913L1820 911"/><path stroke-width="4.8" d="M1820 911L1820.1 909L1820.2 907L1820.3 905L1820.4 903"/><path stroke-width="4.8" d="M1820.4 903L1820.5 901.1L1820.6 899.1L1820.7 897.2L1820.8 895.3"/><path stroke-width="4.8" d="M1820.8 895.3L1820.9 893.4L1821 891.6L1821.1 889.7L1821.2 887.9"/><path stroke-width="4.8" d="M1821.2 887.9L1821.3 886.1L1821.4 884.4L1821.5 882.6L1821.6 880.9"/><path stroke-width="4.8" d="M1821.6 880.9L1821.7 879.3L1821.8 877.6L1821.9 875.3L1822.1 873.1"/><path stroke-width="4.8" d="M1822.1 873.1L1822.2 870.9L1822.3 868.8L1822.4 866.8L1822.6 864.7"/><path stroke-width="4.8" d="M1822.6 864.7L1822.7 862.8L1822.8 860.8L1823 858.9L1823.1 857"/><path stroke-width="4.8" d="M1823.1 857L1823.2 855.1L1823.3 853.2L1823.5 851.4L1823.6 849.5"/><path stroke-width="4.8" d="M1823.6 849.5L1823.7 847.6L1823.8 845.8L1824 843.9L1824.1 841.9"/><path stroke-width="4.8" d="M1824.1 841.9L1824.2 840L1824.3 838L1824.5 836L1824.6 834"/><path stroke-width="4.8" d="M1824.6 834L1824.7 832L1824.8 830L1824.9 828L1825 826"/><path stroke-width="4.8" d="M1825 826L1825.2 824L1825.3 822.1L1825.4 820.1L1825.5 818.1"/><path stroke-width="4.8" d="M1825.5 818.1L1825.6 816.1L1825.8 814.1L1825.9 812.1L1826 810.1"/><path stroke-width="4.8" d="M1826 810.1L1826.2 808.1L1826.3 806.1L1826.5 804.1L1826.7 802.1"/><path stroke-width="4.8" d="M1826.7 802.1L1826.8 800L1827 797.8L1827.1 795.6L1827.3 793.3"/><path stroke-width="4.8" d="M1827.3 793.3L1827.4 791L1827.6 788.8L1827.8 786.5L1827.9 784.2"/><path stroke-width="4.8" d="M1827.9 784.2L1828.1 782L1828.3 779.8L1828.5 777.7L1828.7 775.7"/><path stroke-width="4.9" d="M1828.7 775.7L1828.9 773.8L1829.2 772L1829.4 770.4L1829.7 768.9"/><path stroke-width="4.9" d="M1829.7 768.9L1829.9 767.6L1830.2 766.5L1831 764.2L1831.8 762.4"/><path stroke-width="5.0" d="M1831.8 762.5L1832.5 761.8L1832.9 762.2L1833.2 763.2L1833.6 764.7"/><path stroke-width="4.9" d="M1833.6 764.7L1833.9 766.6L1834.1 768.8L1834.4 771.1L1834.7 773.6"/><path stroke-width="4.8" d="M1834.7 773.5L1834.9 775.9L1835 777.3L1835.2 778.9L1835.3 780.5"/><path stroke-width="4.8" d="M1835.3 780.5L1835.4 782.2L1835.6 784L1835.7 785.8L1835.8 787.8"/><path stroke-width="4.8" d="M1835.8 787.8L1835.9 789.7L1836 791.7L1836.1 793.8L1836.2 795.9"/><path stroke-width="4.8" d="M1836.2 795.9L1836.3 798L1836.4 800.2L1836.4 802.3L1836.5 804.5"/><path stroke-width="4.8" d="M1836.5 804.5L1836.6 806.6L1836.7 808.8L1836.7 810.9L1836.8 813"/><path stroke-width="4.8" d="M1836.8 813L1836.9 815.1L1837 817.1L1837 819.1L1837.1 821"/><path stroke-width="4.8" d="M1837.1 821L1837.2 822.9L1837.3 824.9L1837.4 827L1837.4 828.9"/><path stroke-width="4.8" d="M1837.4 828.9L1837.5 830.9L1837.6 832.8L1837.7 834.7L1837.7 836.6"/><path stroke-width="4.8" d="M1837.7 836.6L1837.8 838.5L1837.8 840.3L1837.9 842.2L1838 844.1"/><path stroke-width="4.8" d="M1838 844.1L1838 846L1838.1 847.9L1838.2 849.8L1838.2 851.8"/><path stroke-width="4.8" d="M1838.2 851.8L1838.3 853.8L1838.4 855.8L1838.4 857.9L1838.5 860"/><path stroke-width="4.8" d="M1838.5 860L1838.6 861.8L1838.6 863.6L1838.7 865.4L1838.8 867.2"/><path stroke-width="4.8" d="M1838.8 867.2L1838.8 869.1L1838.9 870.9L1839 872.8L1839 874.7"/><path stroke-width="4.8" d="M1839 874.7L1839.1 876.6L1839.2 878.5L1839.2 880.5L1839.3 882.4"/><path stroke-width="4.8" d="M1839.3 882.4L1839.4 884.4L1839.4 886.3L1839.5 888.3L1839.6 890.3"/><path stroke-width="4.8" d="M1839.6 890.3L1839.7 892.3L1839.7 894.3L1839.8 896.4L1839.9 898.4"/><path stroke-width="4.8" d="M1839.9 898.4L1840 900.5L1840 902.5L1840.1 904.6L1840.2 906.7"/><path stroke-width="4.8" d="M1840.2 906.7L1840.3 908.8L1840.3 910.9L1840.4 913L1840.5 915.1"/><path stroke-width="4.8" d="M1840.5 915.1L1840.6 916.9L1840.6 918.8L1840.7 920.6L1840.8 922.5"/><path stroke-width="4.8" d="M1840.8 922.5L1840.8 924.4L1840.9 926.3L1841 928.2L1841.1 930.1"/><path stroke-width="4.8" d="M1841.1 930.2L1841.1 932.1L1841.2 934L1841.3 936L1841.3 938"/><path stroke-width="4.8" d="M1841.3 938L1841.4 939.9L1841.5 941.9L1841.6 943.9L1841.6 945.9"/><path stroke-width="4.8" d="M1841.6 945.9L1841.7 947.9L1841.8 949.9L1841.9 951.9L1841.9 953.9"/><path stroke-width="4.8" d="M1841.9 953.9L1842 956L1842.1 958L1842.2 960L1842.2 962"/><path stroke-width="4.8" d="M1842.2 962L1842.3 964.1L1842.4 966.1L1842.5 968.1L1842.5 970.1"/><path stroke-width="4.8" d="M1842.5 970.1L1842.6 972.2L1842.7 974.2L1842.8 976.2L1842.8 978.2"/><path stroke-width="4.8" d="M1842.8 978.2L1842.9 980.2L1843 982.2L1843.1 984.2L1843.1 986.2"/><path stroke-width="4.8" d="M1843.1 986.2L1843.2 988.2L1843.3 990.2L1843.4 992.2L1843.5 994.2"/><path stroke-width="4.8" d="M1843.5 994.2L1843.5 996.2L1843.6 998.2L1843.7 1000.2L1843.8 1002.3"/><path stroke-width="4.8" d="M1843.8 1002.3L1843.8 1004.3L1843.9 1006.3L1844 1008.4L1844.1 1010.5"/><path stroke-width="4.8" d="M1844.1 1010.5L1844.1 1012.5L1844.2 1014.6L1844.3 1016.6L1844.4 1018.7"/><path stroke-width="4.8" d="M1844.4 1018.7L1844.4 1020.8L1844.5 1022.8L1844.6 1024.9L1844.7 1026.9"/><path stroke-width="4.8" d="M1844.7 1026.9L1844.7 1029L1844.8 1031L1844.9 1033L1845 1035"/><path stroke-width="4.8" d="M1845 1035L1845 1037.1L1845.1 1039.1L1845.2 1041L1845.3 1043"/><path stroke-width="4.8" d="M1845.3 1043L1845.4 1045L1845.4 1046.9L1845.5 1048.8L1845.6 1050.8"/><path stroke-width="4.8" d="M1845.6 1050.8L1845.7 1052.7L1845.7 1054.5L1845.8 1056.4L1845.9 1058.2"/><path stroke-width="4.8" d="M1845.9 1058.2L1846 1060L1846 1061.8L1846.1 1063.6L1846.2 1065.3"/><path stroke-width="4.8" d="M1846.2 1065.3L1846.3 1067.5L1846.4 1069.6L1846.5 1071.6L1846.6 1073.7"/><path stroke-width="4.8" d="M1846.6 1073.7L1846.7 1075.6L1846.8 1077.6L1846.9 1079.5L1847 1081.4"/><path stroke-width="4.8" d="M1847 1081.4L1847.1 1083.2L1847.2 1085.1L1847.3 1086.9L1847.4 1088.8"/><path stroke-width="4.8" d="M1847.4 1088.8L1847.5 1090.6L1847.6 1092.4L1847.7 1094.3L1847.8 1096.1"/><path stroke-width="4.8" d="M1847.8 1096.2L1847.9 1098L1848 1099.9L1848.1 1101.9L1848.2 1103.8"/><path stroke-width="4.8" d="M1848.2 1103.8L1848.3 1105.9L1848.4 1107.9L1848.5 1110L1848.6 1111.8"/><path stroke-width="4.8" d="M1848.6 1111.8L1848.7 1113.6L1848.8 1115.5L1848.9 1117.4L1849 1119.2"/><path stroke-width="4.8" d="M1849 1119.2L1849.1 1121.2L1849.1 1123.1L1849.2 1125L1849.3 1127"/><path stroke-width="4.8" d="M1849.3 1127L1849.4 1129L1849.5 1131L1849.6 1133L1849.7 1135"/><path stroke-width="4.8" d="M1849.7 1135L1849.8 1137L1849.9 1139L1850 1141.1L1850.1 1143.1"/><path stroke-width="4.8" d="M1850.1 1143.1L1850.2 1145.1L1850.3 1147.2L1850.4 1149.2L1850.5 1151.3"/><path stroke-width="4.8" d="M1850.5 1151.3L1850.6 1153.3L1850.7 1155.3L1850.8 1157.4L1850.9 1159.4"/><path stroke-width="4.8" d="M1850.9 1159.4L1851 1161.4L1851.1 1163.4L1851.3 1165.4L1851.4 1167.4"/><path stroke-width="4.8" d="M1851.4 1167.3L1851.5 1169.3L1851.6 1171.3L1851.7 1173.2L1851.8 1175.1"/><path stroke-width="4.8" d="M1851.8 1175.1L1851.9 1177.1L1852 1179.1L1852.2 1181.1L1852.3 1183.1"/><path stroke-width="4.8" d="M1852.3 1183.1L1852.4 1185.1L1852.5 1187.1L1852.7 1189.1L1852.8 1191.1"/><path stroke-width="4.8" d="M1852.8 1191.1L1852.9 1193L1853 1195L1853.2 1197L1853.3 1199"/><path stroke-width="4.8" d="M1853.3 1198.9L1853.4 1200.9L1853.6 1202.8L1853.7 1204.8L1853.8 1206.7"/><path stroke-width="4.8" d="M1853.8 1206.7L1854 1208.7L1854.1 1210.6L1854.2 1212.5L1854.4 1214.4"/><path stroke-width="4.8" d="M1854.4 1214.4L1854.5 1216.4L1854.6 1218.2L1854.8 1220.2L1854.9 1222"/><path stroke-width="4.8" d="M1854.9 1222L1855.1 1223.9L1855.2 1225.8L1855.3 1227.7L1855.5 1229.5"/><path stroke-width="4.8" d="M1855.5 1229.5L1855.6 1231.4L1855.7 1233.4L1855.9 1235.5L1856 1237.5"/><path stroke-width="4.8" d="M1856 1237.5L1856.2 1239.5L1856.3 1241.6L1856.5 1243.6L1856.6 1245.6"/><path stroke-width="4.8" d="M1856.6 1245.6L1856.8 1247.6L1856.9 1249.6L1857.1 1251.6L1857.2 1253.5"/><path stroke-width="4.8" d="M1857.2 1253.5L1857.4 1255.5L1857.6 1257.5L1857.7 1259.4L1857.9 1261.4"/><path stroke-width="4.8" d="M1857.9 1261.3L1858 1263.3L1858.2 1265.2L1858.3 1267.1L1858.5 1269"/><path stroke-width="4.8" d="M1858.5 1269L1858.6 1270.9L1858.8 1272.8L1859 1274.7L1859.1 1276.6"/><path stroke-width="4.8" d="M1859.1 1276.5L1859.3 1278.4L1859.5 1280.5L1859.7 1282.6L1859.9 1284.7"/><path stroke-width="4.8" d="M1859.9 1284.7L1860.1 1286.7L1860.2 1288.8L1860.4 1290.9L1860.6 1292.9"/><path stroke-width="4.8" d="M1860.6 1292.9L1860.8 1295L1861 1297L1861.2 1299L1861.4 1301"/><path stroke-width="4.8" d="M1861.4 1301L1861.6 1303L1861.8 1304.9L1862 1306.8L1862.2 1308.7"/><path stroke-width="4.8" d="M1862.2 1308.7L1862.4 1310.6L1862.7 1312.4L1862.9 1314.1L1863.1 1315.9"/><path stroke-width="4.8" d="M1863.1 1315.9L1863.4 1318L1863.6 1320.2L1863.9 1322.4L1864.2 1324.6"/><path stroke-width="4.9" d="M1864.2 1324.6L1864.5 1326.7L1864.7 1328.7L1865 1330.7L1865.3 1332.6"/><path stroke-width="4.9" d="M1865.3 1332.6L1865.7 1334.3L1866 1335.8L1866.4 1337.2L1866.8 1338.4"/><path stroke-width="5.1" d="M1866.8 1338.4L1867.6 1340.3L1868.5 1341.6L1869.3 1342.2L1870 1341.4"/><path stroke-width="5.2" d="M1870 1341.4L1870.6 1339.6L1871.5 1338.5L1873 1338.3L1874.7 1338.6"/><path stroke-width="5.1" d="M1874.7 1338.7L1876.2 1338.4L1877 1337.4L1877.7 1336.1L1878.3 1334.3"/><path stroke-width="4.9" d="M1878.3 1334.3L1878.7 1332.3L1879.2 1330L1879.6 1327.7L1880 1325.3"/><path stroke-width="4.9" d="M1880 1325.3L1880.3 1323.8L1880.5 1322.2L1880.8 1320.5L1881 1318.8"/><path stroke-width="4.8" d="M1881 1318.8L1881.2 1317L1881.4 1315.1L1881.7 1313.1L1881.8 1311.1"/><path stroke-width="4.8" d="M1881.8 1311.1L1882 1309.1L1882.2 1307L1882.4 1304.9L1882.6 1302.8"/><path stroke-width="4.8" d="M1882.6 1302.8L1882.7 1300.6L1882.9 1298.5L1883.1 1296.3L1883.2 1294.2"/><path stroke-width="4.8" d="M1883.2 1294.2L1883.4 1292L1883.5 1289.9L1883.7 1287.8L1883.8 1285.9"/><path stroke-width="4.8" d="M1883.8 1286L1884 1284.1L1884.1 1282.2L1884.3 1280.3L1884.4 1278.4"/><path stroke-width="4.8" d="M1884.4 1278.4L1884.5 1276.4L1884.6 1274.5L1884.8 1272.5L1884.9 1270.6"/><path stroke-width="4.8" d="M1884.9 1270.6L1885 1268.6L1885.1 1266.6L1885.2 1264.6L1885.4 1262.6"/><path stroke-width="4.8" d="M1885.4 1262.6L1885.5 1260.7L1885.6 1258.7L1885.7 1256.7L1885.8 1254.7"/><path stroke-width="4.8" d="M1885.8 1254.7L1885.9 1252.7L1886 1250.7L1886.1 1248.7L1886.2 1246.7"/><path stroke-width="4.8" d="M1886.2 1246.7L1886.3 1244.7L1886.4 1242.8L1886.5 1240.8L1886.6 1238.8"/><path stroke-width="4.8" d="M1886.6 1238.8L1886.7 1236.9L1886.8 1234.9L1886.9 1233L1887 1231"/><path stroke-width="4.8" d="M1887 1231L1887 1229.1L1887.1 1227.1L1887.2 1225.2L1887.3 1223.2"/><path stroke-width="4.8" d="M1887.3 1223.2L1887.4 1221.3L1887.4 1219.3L1887.5 1217.4L1887.6 1215.4"/><path stroke-width="4.8" d="M1887.6 1215.4L1887.7 1213.4L1887.7 1211.5L1887.8 1209.5L1887.9 1207.6"/><path stroke-width="4.8" d="M1887.9 1207.6L1887.9 1205.6L1888 1203.7L1888.1 1201.7L1888.2 1199.8"/><path stroke-width="4.8" d="M1888.2 1199.8L1888.2 1197.8L1888.3 1195.9L1888.4 1193.9L1888.5 1191.9"/><path stroke-width="4.8" d="M1888.5 1191.9L1888.6 1190L1888.6 1188L1888.7 1186.1L1888.8 1184.1"/><path stroke-width="4.8" d="M1888.8 1184.1L1888.9 1182.2L1889 1180.2L1889.1 1178.2L1889.1 1176.3"/><path stroke-width="4.8" d="M1889.1 1176.3L1889.2 1174.3L1889.3 1172.4L1889.4 1170.4L1889.5 1168.4"/><path stroke-width="4.8" d="M1889.5 1168.4L1889.6 1166.5L1889.6 1164.5L1889.7 1162.6L1889.8 1160.6"/><path stroke-width="4.8" d="M1889.8 1160.6L1889.9 1158.6L1889.9 1156.7L1890 1154.7L1890.1 1152.8"/><path stroke-width="4.8" d="M1890.1 1152.8L1890.2 1150.8L1890.2 1148.9L1890.3 1146.9L1890.4 1145"/><path stroke-width="4.8" d="M1890.4 1145L1890.4 1143L1890.5 1141.1L1890.5 1139.2L1890.6 1137.3"/><path stroke-width="4.8" d="M1890.6 1137.3L1890.6 1135.4L1890.7 1133.5L1890.7 1131.6L1890.8 1129.8"/><path stroke-width="4.8" d="M1890.8 1129.8L1890.8 1127.9L1890.9 1126L1890.9 1124.1L1891 1122.2"/><path stroke-width="4.8" d="M1891 1122.2L1891 1120.3L1891.1 1118.3L1891.1 1116.4L1891.2 1114.4"/><path stroke-width="4.8" d="M1891.2 1114.4L1891.2 1112.4L1891.3 1110.4L1891.3 1108.4L1891.4 1106.3"/><path stroke-width="4.8" d="M1891.4 1106.3L1891.4 1104.3L1891.4 1102.1L1891.5 1100L1891.5 1098.3"/><path stroke-width="4.8" d="M1891.5 1098.3L1891.6 1096.5L1891.6 1094.7L1891.7 1092.9L1891.7 1091.2"/><path stroke-width="4.8" d="M1891.7 1091.2L1891.7 1089.4L1891.8 1087.5L1891.8 1085.7L1891.9 1083.9"/><path stroke-width="4.8" d="M1891.9 1083.9L1891.9 1082L1891.9 1080.2L1892 1078.3L1892 1076.4"/><path stroke-width="4.8" d="M1892 1076.4L1892.1 1074.5L1892.1 1072.6L1892.2 1070.7L1892.2 1068.8"/><path stroke-width="4.8" d="M1892.2 1068.8L1892.2 1066.8L1892.3 1064.9L1892.3 1062.9L1892.4 1061"/><path stroke-width="4.8" d="M1892.4 1061L1892.4 1059L1892.4 1057L1892.5 1055L1892.5 1053"/><path stroke-width="4.8" d="M1892.5 1053L1892.6 1050.9L1892.6 1048.9L1892.7 1046.8L1892.7 1044.8"/><path stroke-width="4.8" d="M1892.7 1044.8L1892.8 1042.7L1892.8 1040.6L1892.9 1038.5L1892.9 1036.4"/><path stroke-width="4.8" d="M1892.9 1036.4L1893 1034.3L1893 1032.1L1893 1030L1893.1 1027.8"/><path stroke-width="4.8" d="M1893.1 1027.8L1893.1 1026L1893.2 1024.2L1893.2 1022.4L1893.3 1020.6"/><path stroke-width="4.8" d="M1893.3 1020.6L1893.3 1018.7L1893.4 1016.8L1893.4 1014.9L1893.5 1013"/><path stroke-width="4.8" d="M1893.5 1013L1893.5 1011.1L1893.5 1009.1L1893.6 1007.2L1893.6 1005.2"/><path stroke-width="4.8" d="M1893.6 1005.2L1893.7 1003.2L1893.7 1001.2L1893.8 999.1L1893.8 997.1"/><path stroke-width="4.8" d="M1893.8 997.1L1893.9 995.1L1893.9 993L1894 990.9L1894 988.9"/><path stroke-width="4.8" d="M1894 988.9L1894.1 986.8L1894.2 984.7L1894.2 982.6L1894.3 980.5"/><path stroke-width="4.8" d="M1894.3 980.5L1894.3 978.4L1894.4 976.3L1894.4 974.2L1894.5 972.1"/><path stroke-width="4.8" d="M1894.5 972.1L1894.5 970L1894.6 967.9L1894.6 965.8L1894.7 963.8"/><path stroke-width="4.8" d="M1894.7 963.8L1894.7 961.7L1894.8 959.6L1894.8 957.5L1894.9 955.4"/><path stroke-width="4.8" d="M1894.9 955.4L1894.9 953.4L1895 951.3L1895 949.3L1895.1 947.2"/><path stroke-width="4.8" d="M1895.1 947.2L1895.1 945.2L1895.2 943.2L1895.2 941.2L1895.3 939.2"/><path stroke-width="4.8" d="M1895.3 939.2L1895.3 937.2L1895.4 935.3L1895.4 933.4L1895.5 931.4"/><path stroke-width="4.8" d="M1895.5 931.4L1895.5 929.5L1895.6 927.7L1895.6 925.8L1895.7 924"/><path stroke-width="4.8" d="M1895.7 924L1895.7 922.1L1895.8 920.3L1895.8 918.6L1895.9 916.8"/><path stroke-width="4.8" d="M1895.9 916.8L1895.9 915.1L1896 912.9L1896 910.7L1896.1 908.5"/><path stroke-width="4.8" d="M1896.1 908.5L1896.1 906.4L1896.2 904.3L1896.2 902.3L1896.3 900.3"/><path stroke-width="4.8" d="M1896.3 900.3L1896.3 898.3L1896.4 896.3L1896.4 894.3L1896.5 892.4"/><path stroke-width="4.8" d="M1896.5 892.4L1896.5 890.5L1896.6 888.6L1896.6 886.7L1896.7 884.8"/><path stroke-width="4.8" d="M1896.7 884.8L1896.7 882.9L1896.8 881L1896.8 879.1L1896.9 877.3"/><path stroke-width="4.8" d="M1896.9 877.3L1896.9 875.4L1897 873.5L1897 871.6L1897.1 869.8"/><path stroke-width="4.8" d="M1897.1 869.8L1897.1 867.9L1897.2 866L1897.2 864L1897.2 862.1"/><path stroke-width="4.8" d="M1897.2 862.1L1897.3 860.1L1897.3 858.2L1897.4 856.2L1897.4 854.1"/><path stroke-width="4.8" d="M1897.4 854.1L1897.5 852.1L1897.5 850L1897.5 848.1L1897.6 846.3"/><path stroke-width="4.8" d="M1897.6 846.3L1897.6 844.4L1897.6 842.5L1897.7 840.6L1897.7 838.7"/><path stroke-width="4.8" d="M1897.7 838.7L1897.7 836.7L1897.8 834.8L1897.8 832.9L1897.8 830.9"/><path stroke-width="4.8" d="M1897.8 830.9L1897.8 829L1897.9 827L1897.9 825.1L1897.9 823.1"/><path stroke-width="4.8" d="M1897.9 823.1L1898 821.1L1898 819.2L1898 817.2L1898 815.2"/><path stroke-width="4.8" d="M1898 815.2L1898.1 813.2L1898.1 811.2L1898.1 809.2L1898.1 807.2"/><path stroke-width="4.8" d="M1898.1 807.2L1898.2 805.2L1898.2 803.2L1898.2 801.2L1898.2 799.1"/><path stroke-width="4.8" d="M1898.2 799.1L1898.3 797.1L1898.3 795.1L1898.3 793L1898.3 791"/><path stroke-width="4.8" d="M1898.3 791L1898.4 789L1898.4 786.9L1898.4 784.9L1898.4 782.9"/><path stroke-width="4.8" d="M1898.4 782.9L1898.5 780.8L1898.5 778.8L1898.5 776.7L1898.6 774.7"/><path stroke-width="4.8" d="M1898.6 774.7L1898.6 772.6L1898.6 770.6L1898.7 768.5L1898.7 766.5"/><path stroke-width="4.8" d="M1898.7 766.5L1898.7 764.6L1898.8 762.6L1898.8 760.6L1898.8 758.7"/><path stroke-width="4.8" d="M1898.8 758.7L1898.9 756.7L1898.9 754.7L1899 752.7L1899 750.7"/><path stroke-width="4.8" d="M1899 750.7L1899 748.7L1899.1 746.7L1899.1 744.7L1899.1 742.6"/><path stroke-width="4.8" d="M1899.1 742.6L1899.2 740.6L1899.2 738.6L1899.3 736.6L1899.3 734.5"/><path stroke-width="4.8" d="M1899.3 734.5L1899.4 732.5L1899.4 730.4L1899.4 728.4L1899.5 726.3"/><path stroke-width="4.8" d="M1899.5 726.3L1899.5 724.3L1899.6 722.3L1899.6 720.2L1899.7 718.2"/><path stroke-width="4.8" d="M1899.7 718.2L1899.7 716.1L1899.7 714.1L1899.8 712.1L1899.8 710"/><path stroke-width="4.8" d="M1899.8 710L1899.9 708L1899.9 706L1900 704L1900 701.9"/><path stroke-width="4.8" d="M1900 701.9L1900 699.9L1900.1 697.9L1900.1 695.9L1900.2 693.9"/><path stroke-width="4.8" d="M1900.2 693.9L1900.2 692L1900.2 690L1900.3 688L1900.3 686.1"/><path stroke-width="4.8" d="M1900.3 686.1L1900.4 684.1L1900.4 682.2L1900.4 680.3L1900.5 678.4"/><path stroke-width="4.8" d="M1900.5 678.4L1900.5 676.5L1900.6 674.6L1900.6 672.7L1900.6 670.6"/><path stroke-width="4.8" d="M1900.6 670.6L1900.7 668.6L1900.7 666.5L1900.8 664.5L1900.8 662.4"/><path stroke-width="4.8" d="M1900.8 662.4L1900.8 660.4L1900.9 658.4L1900.9 656.4L1901 654.5"/><path stroke-width="4.8" d="M1901 654.4L1901 652.5L1901 650.5L1901.1 648.6L1901.1 646.6"/><path stroke-width="4.8" d="M1901.1 646.6L1901.2 644.7L1901.2 642.7L1901.2 640.8L1901.3 638.9"/><path stroke-width="4.8" d="M1901.3 638.9L1901.3 636.9L1901.4 635L1901.4 633.1L1901.4 631.2"/><path stroke-width="4.8" d="M1901.4 631.2L1901.5 629.3L1901.5 627.4L1901.6 625.4L1901.6 623.5"/><path stroke-width="4.8" d="M1901.6 623.5L1901.6 621.6L1901.7 619.7L1901.7 617.7L1901.7 615.8"/><path stroke-width="4.8" d="M1901.7 615.8L1901.8 613.8L1901.8 611.9L1901.8 609.9L1901.9 608"/><path stroke-width="4.8" d="M1901.9 608L1901.9 606L1901.9 604L1902 602L1902 600"/><path stroke-width="4.8" d="M1902 600L1902 598.1L1902.1 596.2L1902.1 594.3L1902.1 592.3"/><path stroke-width="4.8" d="M1902.1 592.3L1902.1 590.4L1902.2 588.5L1902.2 586.6L1902.2 584.6"/><path stroke-width="4.8" d="M1902.2 584.6L1902.2 582.7L1902.3 580.8L1902.3 578.8L1902.3 576.9"/><path stroke-width="4.8" d="M1902.3 576.9L1902.3 574.9L1902.4 573L1902.4 571L1902.4 569.1"/><path stroke-width="4.8" d="M1902.4 569.1L1902.4 567.1L1902.4 565.2L1902.5 563.2L1902.5 561.2"/><path stroke-width="4.8" d="M1902.5 561.2L1902.5 559.3L1902.5 557.3L1902.6 555.3L1902.6 553.4"/><path stroke-width="4.8" d="M1902.6 553.4L1902.6 551.4L1902.6 549.4L1902.6 547.5L1902.7 545.5"/><path stroke-width="4.8" d="M1902.7 545.5L1902.7 543.5L1902.7 541.6L1902.7 539.6L1902.8 537.6"/><path stroke-width="4.8" d="M1902.8 537.6L1902.8 535.7L1902.8 533.7L1902.8 531.8L1902.9 529.8"/><path stroke-width="4.8" d="M1902.9 529.8L1902.9 527.8L1902.9 525.9L1902.9 523.9L1903 522"/><path stroke-width="4.8" d="M1903 522L1903 520L1903 518L1903.1 516L1903.1 514"/><path stroke-width="4.8" d="M1903.1 514L1903.1 512L1903.2 510L1903.2 508L1903.2 505.9"/><path stroke-width="4.8" d="M1903.2 505.9L1903.2 503.8L1903.3 501.8L1903.3 499.7L1903.3 497.6"/><path stroke-width="4.8" d="M1903.3 497.6L1903.4 495.5L1903.4 493.4L1903.4 491.3L1903.5 489.3"/><path stroke-width="4.8" d="M1903.5 489.3L1903.5 487.2L1903.5 485.1L1903.6 483L1903.6 480.9"/><path stroke-width="4.8" d="M1903.6 480.9L1903.6 478.9L1903.7 476.8L1903.7 474.8L1903.7 472.7"/><path stroke-width="4.8" d="M1903.7 472.7L1903.8 470.7L1903.8 468.7L1903.8 466.7L1903.9 464.7"/><path stroke-width="4.8" d="M1903.9 464.7L1903.9 462.7L1904 460.8L1904 458.9L1904 457"/><path stroke-width="4.8" d="M1904 457L1904.1 455.1L1904.1 453.3L1904.2 451.4L1904.2 449.6"/><path stroke-width="4.8" d="M1904.2 449.6L1904.3 447.9L1904.3 446.1L1904.3 444.4L1904.4 442.7"/><path stroke-width="4.8" d="M1904.4 442.7L1904.4 441.1L1904.5 439.5L1904.6 437.2L1904.7 435"/><path stroke-width="4.8" d="M1904.7 435L1904.7 432.8L1904.8 430.6L1904.9 428.5L1905 426.4"/><path stroke-width="4.8" d="M1905 426.5L1905.1 424.4L1905.2 422.4L1905.3 420.5L1905.3 418.6"/><path stroke-width="4.8" d="M1905.3 418.6L1905.4 416.7L1905.5 414.9L1905.6 413L1905.7 411.2"/><path stroke-width="4.8" d="M1905.7 411.2L1905.8 409.4L1905.9 407.7L1906 405.9L1906.1 404.2"/><path stroke-width="4.8" d="M1906.1 404.2L1906.2 402.5L1906.4 400.4L1906.5 398.3L1906.5 396.2"/><path stroke-width="4.8" d="M1906.5 396.2L1906.6 394.2L1906.6 392.2L1906.7 390.2L1906.8 388.3"/><path stroke-width="4.8" d="M1906.8 388.3L1907 386.5L1907.1 384.7L1907.4 383L1907.6 381.5"/><path stroke-width="5.0" d="M1907.6 381.5L1908 380L1908.9 377.7L1910 375.3L1911.2 373.2"/><path stroke-width="5.0" d="M1911.2 373.3L1912.1 371.8L1912.5 371.3"/></g>
<g stroke="#000" stroke-width="5.6" fill="none">
<path d="M523.7 237.0V253.1M523.7 275.2V300.2M523.7 322.3V347.3M523.7 369.4V394.4M523.7 416.5V441.5M523.7 463.6V488.6M523.7 510.7V535.7M523.7 557.7V582.7M523.7 604.8V629.8M523.7 651.9V676.9M523.7 699.0V724.0M523.7 746.1V771.1M523.7 793.2V818.2M523.7 840.3V865.3M523.7 887.4V912.4M523.7 934.5V959.5M523.7 981.6V1006.6M523.7 1028.6V1053.6M523.7 1075.7V1100.7M523.7 1122.8V1147.8M523.7 1169.9V1194.9M523.7 1217.0V1242.0M523.7 1264.1V1289.1M523.7 1311.2V1336.2M523.7 1358.3V1383.3"/>
<path d="M1352.8 251.5V265.4M1352.8 287.5V312.5M1352.8 334.6V359.6M1352.8 381.7V406.7M1352.8 428.8V453.8M1352.8 475.9V500.9M1352.8 523.0V548.0M1352.8 570.0V595.0M1352.8 617.1V642.1M1352.8 664.2V689.2M1352.8 711.3V736.3M1352.8 758.4V783.4M1352.8 805.5V830.5M1352.8 852.6V877.6M1352.8 899.7V924.7M1352.8 946.8V971.8M1352.8 993.9V1018.9M1352.8 1040.9V1065.9M1352.8 1088.0V1113.0M1352.8 1135.1V1160.1M1352.8 1182.2V1207.2M1352.8 1229.3V1254.3M1352.8 1276.4V1301.4M1352.8 1323.5V1348.5M1352.8 1370.6V1393.0"/>
<path d="M1624.2 154.8V164.4M1624.2 186.5V211.5M1624.2 233.6V258.6M1624.2 280.7V305.7M1624.2 327.8V352.8M1624.2 374.9V399.9M1624.2 422.0V447.0M1624.2 469.0V494.0M1624.2 516.1V541.1M1624.2 563.2V588.2M1624.2 610.3V635.3M1624.2 657.4V682.4M1624.2 704.5V729.5M1624.2 751.6V776.6M1624.2 798.7V823.7M1624.2 845.8V870.8M1624.2 892.9V917.9M1624.2 939.9V964.9M1624.2 987.0V1012.0M1624.2 1034.1V1059.1M1624.2 1081.2V1106.2M1624.2 1128.3V1153.3M1624.2 1175.4V1200.4M1624.2 1222.5V1247.5M1624.2 1269.6V1294.6M1624.2 1316.7V1341.7M1624.2 1363.7V1384.0"/>
</g>
<g fill="none" stroke="#0000ff" stroke-linecap="round" stroke-linejoin="round"><path stroke-width="5.0" d="M274.5 498L274.8 498L275.5 497.8L276.7 497.7L278.2 497.4"/><path stroke-width="5.0" d="M278.2 497.5L280.1 497.2L282.2 497L284.5 496.6L287 496.2"/><path stroke-width="5.0" d="M287 496.3L289.5 495.8L292.2 495.5L294.8 495.2L297.3 494.8"/><path stroke-width="5.0" d="M297.3 494.8L299.7 494.4L302 494L304 493.7L306 493.4"/><path stroke-width="5.0" d="M306 493.4L308 493.1L309.9 492.8L311.8 492.4L313.8 492.2"/><path stroke-width="5.0" d="M313.8 492.1L315.7 491.8L317.6 491.5L319.5 491.2L321.4 490.8"/><path stroke-width="5.0" d="M321.4 490.8L323.3 490.5L325.2 490.1L327.1 489.8L329 489.5"/><path stroke-width="5.0" d="M329 489.5L330.9 489.2L332.8 488.9L334.8 488.5L336.7 488.2"/><path stroke-width="5.0" d="M336.7 488.2L338.6 487.9L340.5 487.6L342.5 487.2L344.4 487"/><path stroke-width="5.0" d="M344.4 486.9L346.3 486.6L348.2 486.3L350.1 486.1L352.1 485.8"/><path stroke-width="5.0" d="M352.1 485.8L354 485.5L355.9 485.2L357.9 485L359.9 484.7"/><path stroke-width="5.0" d="M359.9 484.7L361.9 484.4L363.9 484.2L365.9 484L367.9 483.7"/><path stroke-width="5.0" d="M367.9 483.7L369.8 483.5L371.8 483.3L373.7 483L375.5 482.8"/><path stroke-width="5.0" d="M375.5 482.9L377.3 482.6L379 482.5L381.1 482.3L383 482.1"/><path stroke-width="5.0" d="M383 482.1L384.9 481.9L386.7 481.7L388.5 481.6L390.3 481.4"/><path stroke-width="5.0" d="M390.3 481.4L392.2 481.3L394 481.3L395.9 481.2L397.8 481.3"/><path stroke-width="5.0" d="M397.8 481.2L399.6 481.2L401.5 481.4L403.4 481.4L405.3 481.6"/><path stroke-width="5.0" d="M405.3 481.5L407.1 481.8L409 482L410.9 482.3L412.8 482.7"/><path stroke-width="5.0" d="M412.8 482.6L414.7 483.1L416.6 483.6L418.5 484L420.4 484.5"/><path stroke-width="5.0" d="M420.4 484.5L422.2 485L424 485.5L425.9 486L427.7 486.4"/><path stroke-width="5.0" d="M427.7 486.4L429.6 486.9L431.4 487.3L433.1 487.9L434.9 488.4"/><path stroke-width="5.0" d="M434.9 488.5L436.5 489.2L438.1 490.2L439.6 491.1L441.1 492.3"/><path stroke-width="5.0" d="M441.1 492.3L442.5 493.5L443.9 494.8L445.2 496.1L446.5 497.5"/><path stroke-width="4.9" d="M446.5 497.5L447.6 498.9L448.6 500.2L449.5 501.7L450.4 503.2"/><path stroke-width="4.9" d="M450.4 503.2L451.2 504.8L452.1 506.5L453 508.2L454 510"/><path stroke-width="4.9" d="M454 510L454.8 511.5L455.6 513.2L456.5 514.8L457.4 516.6"/><path stroke-width="4.9" d="M457.4 516.6L458.2 518.4L459.1 520.2L460 522.1L460.9 524.1"/><path stroke-width="4.9" d="M460.9 524.1L461.8 525.9L462.8 527.8L463.7 529.7L464.6 531.5"/><path stroke-width="4.9" d="M464.6 531.5L465.6 533.3L466.5 535L467.5 536.8L468.5 538.5"/><path stroke-width="4.9" d="M468.5 538.5L469.5 540.3L470.6 542L471.6 543.7L472.6 545.3"/><path stroke-width="4.9" d="M472.6 545.3L473.7 547L474.7 548.6L475.8 550.2L476.9 551.9"/><path stroke-width="5.0" d="M476.9 551.9L477.9 553.5L479 555L480.1 556.6L481.2 558.1"/><path stroke-width="5.0" d="M481.2 558.2L482.3 559.6L483.5 561.1L484.6 562.6L485.7 564.1"/><path stroke-width="5.0" d="M485.7 564.1L486.9 565.6L488 567L489.2 568.5L490.3 569.8"/><path stroke-width="4.9" d="M490.3 569.8L491.5 571.3L492.7 572.7L493.9 574.2L495.2 575.6"/><path stroke-width="5.0" d="M495.2 575.6L496.4 577.1L497.7 578.5L498.9 579.8L500.2 581.1"/><path stroke-width="5.0" d="M500.2 581.2L501.4 582.5L502.7 583.7L504 585L505.4 586.3"/><path stroke-width="5.0" d="M505.4 586.3L506.7 587.5L508.1 588.8L509.5 590L510.9 591.1"/><path stroke-width="5.0" d="M510.9 591.1L512.3 592.2L513.7 593.2L515.1 594.2L516.5 595"/><path stroke-width="5.0" d="M516.5 595L518.2 595.9L519.8 596.7L521.5 597.4L523.1 598"/><path stroke-width="5.0" d="M523.1 598L524.8 598.4L526.5 598.8L528.2 598.9L529.8 599"/><path stroke-width="5.0" d="M529.8 599.1L531.5 599L533.2 598.8L534.9 598.5L536.5 598.1"/><path stroke-width="5.1" d="M536.5 598L538 597.4L539.5 596.6L540.9 595.8L542.3 594.7"/><path stroke-width="5.0" d="M542.3 594.7L543.7 593.6L545.1 592.4L546.5 591.3L547.8 590"/><path stroke-width="5.0" d="M547.8 590L549.1 588.8L550.4 587.5L551.7 586.1L552.9 584.8"/><path stroke-width="4.9" d="M552.9 584.7L554.1 583.2L555.3 581.7L556.5 580L557.4 578.5"/><path stroke-width="4.9" d="M557.4 578.6L558.3 577L559.2 575.5L560 573.9L560.8 572.2"/><path stroke-width="4.9" d="M560.8 572.1L561.7 570.4L562.5 568.7L563.3 566.9L564.1 565.2"/><path stroke-width="4.9" d="M564.1 565.2L564.9 563.4L565.7 561.7L566.5 560L567.3 558.3"/><path stroke-width="4.9" d="M567.3 558.3L568.2 556.6L569 554.9L569.8 553.2L570.6 551.5"/><path stroke-width="4.9" d="M570.6 551.5L571.4 549.8L572.2 548.1L573.1 546.4L573.9 544.8"/><path stroke-width="4.9" d="M573.9 544.8L574.8 543.1L575.6 541.5L576.5 540L577.5 538.4"/><path stroke-width="5.0" d="M577.5 538.3L578.4 536.8L579.4 535.2L580.4 533.6L581.4 532.1"/><path stroke-width="5.0" d="M581.4 532.1L582.4 530.6L583.4 529.1L584.4 527.7L585.4 526.3"/><path stroke-width="5.0" d="M585.4 526.3L586.5 525L587.7 523.6L588.9 522.3L590.1 521"/><path stroke-width="5.0" d="M590.1 520.9L591.3 519.7L592.6 518.5L593.8 517.3L595.1 516.1"/><path stroke-width="5.0" d="M595.1 516.2L596.5 515L597.9 513.9L599.4 512.7L601 511.6"/><path stroke-width="5.1" d="M601 511.5L602.5 510.5L604.1 509.5L605.7 508.3L607.4 507.3"/><path stroke-width="5.0" d="M607.4 507.3L609 506.3L610.6 505.3L612.2 504.3L613.8 503.4"/><path stroke-width="5.0" d="M613.8 503.4L615.5 502.5L617.1 501.5L618.8 500.6L620.5 499.7"/><path stroke-width="5.0" d="M620.5 499.7L622.3 498.6L624 497.5L625.5 496.5L626.9 495.5"/><path stroke-width="5.0" d="M626.9 495.4L628.4 494.4L629.9 493.1L631.4 492L633 490.8"/><path stroke-width="5.0" d="M633 490.8L634.5 489.6L636.1 488.4L637.6 487.2L639.2 486"/><path stroke-width="5.0" d="M639.2 486L640.8 484.8L642.4 483.6L644 482.5L645.5 481.5"/><path stroke-width="5.1" d="M645.5 481.5L647.1 480.5L648.7 479.4L650.2 478.4L651.8 477.4"/><path stroke-width="5.0" d="M651.8 477.4L653.4 476.4L655 475.4L656.6 474.4L658.3 473.4"/><path stroke-width="5.1" d="M658.3 473.5L659.9 472.5L661.5 471.5L663.2 470.6L664.8 469.6"/><path stroke-width="5.1" d="M664.8 469.7L666.5 468.8L668.2 467.7L670 466.8L671.7 465.9"/><path stroke-width="5.1" d="M671.7 465.9L673.5 465L675.3 464L677 463L678.8 462.1"/><path stroke-width="5.0" d="M678.8 462.2L680.6 461.3L682.4 460.4L684.3 459.5L686.1 458.7"/><path stroke-width="5.0" d="M686.1 458.6L687.9 457.8L689.7 457.1L691.5 456.2L693.3 455.5"/><path stroke-width="5.1" d="M693.3 455.5L695.1 454.8L696.8 454.1L698.6 453.4L700.5 452.8"/><path stroke-width="5.0" d="M700.5 452.7L702.3 452L704.1 451.4L705.9 450.8L707.7 450.2"/><path stroke-width="5.1" d="M707.7 450.2L709.5 449.5L711.2 449.1L713 448.5L714.8 448"/><path stroke-width="5.1" d="M714.8 448L716.5 447.5L718.5 446.9L720.4 446.5L722.4 445.9"/><path stroke-width="5.2" d="M722.4 445.9L724.3 445.4L726.3 444.9L728.2 444.5L730.1 444.1"/><path stroke-width="5.2" d="M730.1 444L732 443.7L733.9 443.5L735.7 443.3L737.5 443.2"/><path stroke-width="5.2" d="M737.5 443.3L739.4 443.2L741.3 443.2L743.3 443.4L745.1 443.5"/><path stroke-width="5.2" d="M745.1 443.4L747 443.7L748.8 444L750.5 444.5L752.2 445"/><path stroke-width="5.1" d="M752.2 445.1L753.8 445.8L755.3 446.8L756.8 448.3L758.3 450.2"/><path stroke-width="5.0" d="M758.3 450.1L759.6 452L760.9 453.7L762.1 455.2L763.3 456"/><path stroke-width="5.1" d="M763.3 456L764.5 456.3L765.5 455.7L766.4 454.5L767.3 453.1"/><path stroke-width="5.0" d="M767.3 453L768.1 451L768.9 448.9L769.7 446.8L770.5 444.6"/><path stroke-width="5.0" d="M770.5 444.6L771.5 442.7L772.5 441.2L773.8 439.8L775.1 438.4"/><path stroke-width="5.1" d="M775.1 438.4L776.6 437.1L778 436L779.5 435L781 434.2"/><path stroke-width="5.2" d="M781 434.2L782.5 433.8L784.3 433.6L786 433.7L787.8 434"/><path stroke-width="5.2" d="M787.8 434.1L789.6 434.5L791.2 434.9L793.1 435.8L794.8 436.8"/><path stroke-width="5.2" d="M794.8 436.8L796.5 437.5L798 437.4L799 436.7L799.8 435.3"/><path stroke-width="5.0" d="M799.8 435.3L800.5 433.5L801.2 431.5L801.9 429.5L802.7 427.7"/><path stroke-width="5.2" d="M802.7 427.7L803.8 426.3L805 425.1L806.2 424.3L807.6 423.4"/><path stroke-width="5.2" d="M807.6 423.4L809.1 422.8L810.7 422.1L812.5 421.3L813.9 420.6"/><path stroke-width="5.3" d="M813.9 420.6L815.3 420L816.9 419.4L818.5 418.7L820.2 418.1"/><path stroke-width="5.2" d="M820.2 418.2L822 417.4L823.8 416.8L825.7 416.2L827.6 415.6"/><path stroke-width="5.3" d="M827.6 415.6L829.6 415L831.5 414.4L833.5 413.6L835.5 413.1"/><path stroke-width="5.2" d="M835.5 413L837.5 412.4L839.2 411.9L840.9 411.5L842.7 411.2"/><path stroke-width="5.3" d="M842.7 411L844.5 410.5L846.3 410.2L848.2 409.7L850 409.1"/><path stroke-width="5.3" d="M850 409.3L851.9 408.8L853.8 408.3L855.7 408L857.7 407.4"/><path stroke-width="5.4" d="M857.7 407.5L859.6 407L861.5 406.8L863.5 406.2L865.4 405.8"/><path stroke-width="5.4" d="M865.4 405.9L867.4 405.5L869.3 405L871.2 404.6L873.1 404.2"/><path stroke-width="5.4" d="M873.1 404.3L875 403.9L876.9 403.4L878.7 402.9L880.6 402.6"/><path stroke-width="5.4" d="M880.6 402.5L882.5 402.2L884.4 401.7L886.2 401.5L888.1 401"/><path stroke-width="5.4" d="M888.1 401.1L890 400.7L891.9 400.4L893.7 400.1L895.6 399.6"/><path stroke-width="5.4" d="M895.6 399.6L897.5 399.2L899.4 398.9L901.2 398.4L903.1 398.1"/><path stroke-width="5.3" d="M903.1 398.1L905 397.7L906.9 397.3L908.7 396.9L910.6 396.6"/><path stroke-width="5.3" d="M910.6 396.5L912.5 396.2L914.4 395.8L916.3 395.5L918.2 395.1"/><path stroke-width="5.4" d="M918.2 395L920.1 394.6L922.1 394.3L924 394.1L925.9 393.5"/><path stroke-width="5.4" d="M925.9 393.5L927.9 393.2L929.8 392.8L931.7 392.5L933.6 391.8"/><path stroke-width="5.4" d="M933.6 391.9L935.5 391.6L937.4 391.2L939.3 390.8L941.2 390.6"/><path stroke-width="5.5" d="M941.2 390.5L943 390.3L944.8 389.8L946.6 389.4L948.3 389.2"/><path stroke-width="5.4" d="M948.3 388.9L950 388.9L952.1 388.4L954.1 388L956.2 387.5"/><path stroke-width="5.6" d="M956.2 387.5L958.2 387.3L960.1 386.8L962 386.6L963.9 386.1"/><path stroke-width="5.5" d="M963.9 386.3L965.8 385.7L967.7 385.4L969.5 385.2L971.4 385"/><path stroke-width="5.4" d="M971.4 384.8L973.2 384.7L975 384.1L976.9 383.9L978.9 383.7"/><path stroke-width="5.6" d="M978.9 383.7L980.8 383.2L982.7 383.1L984.6 382.6L986.5 382.5"/><path stroke-width="5.5" d="M986.5 382.5L988.3 382.1L990.1 381.8L991.8 381.5L993.4 381.4"/><path stroke-width="5.4" d="M993.4 381.3L995 381.4L996.9 381L998.7 380.8L1000.4 380.2"/><path stroke-width="5.6" d="M1000.4 380.3L1002 380L1003.6 380.1L1005 380.6L1006.4 381.4"/><path stroke-width="5.4" d="M1006.4 381.4L1007.5 382.7L1008.6 384.2L1009.8 385.4L1011.2 386.1"/><path stroke-width="5.7" d="M1011.2 386.1L1012.9 386.5L1014.9 386.4L1016.9 386.4L1019 386.2"/><path stroke-width="5.6" d="M1019 386.1L1020.9 385.9L1022.5 386.3L1024.3 387.4L1025.9 388.7"/><path stroke-width="5.7" d="M1025.9 389L1027.5 389.7L1029 389.2L1030.6 387.8L1032.2 386.5"/><path stroke-width="5.3" d="M1032.2 386.5L1033.8 385.1L1034.8 383.8L1035.7 382.2L1036.6 380.7"/><path stroke-width="5.5" d="M1036.6 380.8L1037.6 379L1038.7 377.5L1040 376.2L1041.3 375.3"/><path stroke-width="5.7" d="M1041.3 375.2L1042.7 374.4L1044.3 373.9L1046 372.8L1047.7 372.4"/><path stroke-width="5.6" d="M1047.7 372.5L1049.5 371.7L1051.3 371.3L1053.2 370.5L1055 370.2"/><path stroke-width="5.6" d="M1055 369.8L1056.7 369.3L1058.3 368.8L1060 368.5L1061.8 368.4"/><path stroke-width="5.7" d="M1061.8 368.3L1063.5 367.6L1065.3 367.4L1067.1 367.1L1069 366.5"/><path stroke-width="5.8" d="M1069 366.7L1070.9 366.2L1072.9 366.1L1075 365.6L1076.6 365"/><path stroke-width="5.7" d="M1076.6 365L1078.3 364.7L1080 364.6L1081.7 364.4L1083.5 364.1"/><path stroke-width="6.0" d="M1083.5 363.7L1085.4 363.6L1087.3 363.3L1089.1 362.8L1091.1 362.7"/><path stroke-width="5.9" d="M1091.1 362.3L1093 362L1095 361.6L1096.9 361.5L1098.9 361.2"/><path stroke-width="6.0" d="M1098.9 360.9L1100.9 360.5L1102.8 360.7L1104.8 360L1106.8 359.6"/><path stroke-width="6.1" d="M1106.8 359.5L1108.7 359.6L1110.6 359.3L1112.5 358.8L1114.4 358.5"/><path stroke-width="5.7" d="M1114.4 358.5L1116.3 358.2L1118.1 357.9L1120 357.5L1121.9 356.9"/><path stroke-width="5.8" d="M1121.9 357.2L1123.8 356.6L1125.7 356.3L1127.6 356.1L1129.5 356"/><path stroke-width="6.0" d="M1129.5 355.8L1131.4 355.8L1133.2 355.3L1135.1 354.8L1137 354.7"/><path stroke-width="6.2" d="M1137 354.6L1138.9 354.3L1140.8 354.1L1142.6 354L1144.5 353.5"/><path stroke-width="5.9" d="M1144.5 353.5L1146.3 353L1148.2 352.8L1150 352.6L1151.9 351.9"/><path stroke-width="6.1" d="M1151.9 352.1L1153.9 352L1155.8 351.8L1157.7 351.3L1159.6 351.2"/><path stroke-width="6.0" d="M1159.6 350.9L1161.5 350.8L1163.4 350.6L1165.3 350.1L1167.2 350.2"/><path stroke-width="6.1" d="M1167.2 350L1169 349.6L1170.9 349.7L1172.8 349.4L1174.7 349.1"/><path stroke-width="6.0" d="M1174.7 348.6L1176.5 348.6L1178.4 347.9L1180.3 348L1182.1 347.5"/><path stroke-width="6.0" d="M1182.1 347.4L1184 347.1L1185.9 346.3L1187.7 345.9L1189.6 345.7"/><path stroke-width="6.2" d="M1189.6 345.5L1191.5 344.7L1193.3 344.2L1195.2 343.6L1197 342.9"/><path stroke-width="6.2" d="M1197 343.2L1198.8 342.8L1200.7 341.9L1202.5 341.5L1204.4 340.6"/><path stroke-width="6.2" d="M1204.4 340.5L1206.2 339.9L1208.1 339.6L1209.9 338.7L1211.8 337.7"/><path stroke-width="6.1" d="M1211.8 337.8L1213.7 337.5L1215.6 336.8L1217.5 336.2L1219.3 336"/><path stroke-width="6.4" d="M1219.3 335.5L1221.2 334.9L1223.1 334.8L1225 334.2L1226.9 333.7"/><path stroke-width="6.2" d="M1226.9 333.3L1228.8 333L1230.7 332.7L1232.7 332L1234.6 331.1"/><path stroke-width="6.1" d="M1234.6 331.7L1236.6 330.9L1238.5 330.2L1240.4 330L1242.3 329.7"/><path stroke-width="6.5" d="M1242.3 329.5L1244.2 329.1L1246.1 328.1L1247.9 327.9L1249.8 327.7"/><path stroke-width="6.3" d="M1249.8 327.3L1251.5 327.3L1253.3 326.8L1255 325.9L1257.1 325.4"/><path stroke-width="6.5" d="M1257.1 326.1L1259.1 325.4L1261.1 325.1L1263.1 324L1265 323.9"/><path stroke-width="6.4" d="M1265 323.7L1266.9 323.1L1268.8 322.9L1270.7 322.2L1272.5 322.3"/><path stroke-width="6.8" d="M1272.5 322.6L1274.4 322.1L1276.3 321.3L1278.1 321.7L1280 321.3"/><path stroke-width="7.1" d="M1280 321.2L1281.9 320.8L1283.8 321.4L1285.7 321L1287.6 321.9"/><path stroke-width="6.9" d="M1287.6 321.8L1289.5 321.6L1291.4 321.7L1293.3 322.2L1295.1 322.5"/><path stroke-width="6.9" d="M1295.1 322L1297 322.3L1298.8 322.7L1300.7 322.3L1302.5 322.2"/><path stroke-width="7.0" d="M1302.5 322.7L1304.4 321.9L1306.3 321.7L1308.3 321.9L1310.2 320.7"/><path stroke-width="7.3" d="M1310.2 320.7L1312.1 319.9L1314 319.8L1315.9 319.7L1317.6 319.2"/><path stroke-width="6.9" d="M1317.6 319.1L1319.4 318.8L1321 318.6L1322.5 318.9L1324.4 319.3"/><path stroke-width="6.7" d="M1324.4 319.5L1326.2 319.7L1327.9 320.9L1329.4 322.6L1331 323.7"/><path stroke-width="6.6" d="M1331 323.8L1332.5 325L1333.7 326.1L1334.9 327.7L1336 328.8"/><path stroke-width="6.2" d="M1336 328.8L1337.1 331.1L1338.1 332.7L1339.2 334.2L1340.3 335.5"/><path stroke-width="6.6" d="M1340.3 335.5L1341.4 337.5L1342.5 338.9L1343.7 340.5L1345 342.4"/><path stroke-width="6.4" d="M1345 342.5L1346.3 344.2L1347.6 346.2L1348.9 347.9L1350.2 348.7"/><path stroke-width="7.6" d="M1350.2 348.7L1351.4 349.2L1352.5 350.5L1353.6 349.8L1354.6 348.6"/><path stroke-width="6.1" d="M1354.6 348.8L1355.5 346.9L1356.4 345.3L1357.4 343.5L1358.2 341.4"/><path stroke-width="6.0" d="M1358.2 341.2L1359.1 339.2L1360 337.6L1360.8 335.8L1361.5 334.4"/><path stroke-width="6.0" d="M1361.5 334.4L1362.2 332.3L1362.9 330.6L1363.5 328.6L1364.2 326.9"/><path stroke-width="5.9" d="M1364.2 327L1364.9 325.4L1365.7 323.5L1366.6 321.6L1367.5 319.9"/><path stroke-width="6.8" d="M1367.5 319.7L1368.5 318.6L1369.6 317L1370.8 314.7L1371.9 313.7"/><path stroke-width="7.0" d="M1371.9 313.3L1373.2 311.7L1374.5 310.4L1375.8 308.8L1377.2 307.8"/><path stroke-width="7.8" d="M1377.2 307.2L1378.6 305.6L1380 305.3L1381.5 304.2L1383.1 303.3"/><path stroke-width="7.4" d="M1383.1 302.5L1384.7 302.9L1386.3 301.5L1388 301.1L1389.7 301.2"/><path stroke-width="7.6" d="M1389.7 300.7L1391.4 299.4L1393.2 299.5L1395 299.1L1396.7 297.6"/><path stroke-width="8.3" d="M1396.7 298.7L1398.5 297.8L1400.4 296.9L1402.3 296.3L1404.3 295.1"/><path stroke-width="8.2" d="M1404.3 295.3L1406.2 294.5L1408.1 293.5L1410 293L1411.8 291.8"/><path stroke-width="8.2" d="M1411.8 292L1413.4 292.6L1415 292.5L1416.8 291.9L1418.5 293.7"/><path stroke-width="7.6" d="M1418.5 292.3L1420.1 293.5L1421.6 294.1L1423.2 296.2L1425 296"/><path stroke-width="8.3" d="M1425 296.8L1426.7 296.8L1428.5 297.4L1430.3 297.5L1432.1 297.9"/><path stroke-width="9.2" d="M1432.1 297.6L1434.1 298.3L1436 298.5L1438 298L1440 298.1"/><path stroke-width="8.7" d="M1440 299.3L1441.7 298.6L1443.5 298L1445.3 299.5L1447.1 298"/><path stroke-width="9.2" d="M1447.1 297.8L1449 298.7L1450.8 297.6L1452.7 297.6L1454.6 297.5"/><path stroke-width="9.0" d="M1454.6 297.5L1456.4 297.1L1458.2 296.6L1460 296.3L1461.7 295.2"/><path stroke-width="8.9" d="M1461.7 295.1L1463.4 294.3L1465 294.1L1466.7 292.9L1468.3 292.6"/><path stroke-width="7.7" d="M1468.3 292.5L1469.9 291L1471.6 290.8L1473.2 288.8L1474.9 287.9"/><path stroke-width="8.1" d="M1474.9 288.1L1476.5 286.6L1478.2 286.2L1480 284.9L1481.7 284.5"/><path stroke-width="8.3" d="M1481.7 284L1483.4 283.4L1485.2 282.8L1486.9 281.8L1488.7 280.6"/><path stroke-width="8.0" d="M1488.7 280L1490.6 279.3L1492.4 278.5L1494.2 277.6L1496 277.6"/><path stroke-width="8.4" d="M1496 278L1497.8 275.9L1499.7 275L1501.5 274L1503.2 272.9"/><path stroke-width="8.7" d="M1503.2 273.6L1505 272.1L1506.6 272L1508.2 270.7L1509.9 269.2"/><path stroke-width="8.4" d="M1509.9 269.6L1511.5 268.1L1513.1 266.3L1514.8 265.5L1516.4 265.2"/><path stroke-width="8.2" d="M1516.4 264.7L1518 262.6L1519.6 262.5L1521.2 261.5L1522.8 259.5"/><path stroke-width="8.3" d="M1522.8 259.8L1524.3 258.2L1525.8 257.1L1527.2 256L1528.6 256.1"/><path stroke-width="8.8" d="M1528.6 256.6L1530 255.8L1532 254.6L1533.8 253.8L1535.6 252.8"/><path stroke-width="8.4" d="M1535.6 251.5L1537.3 252.4L1539 251.6L1540.7 250.6L1542.5 250.2"/><path stroke-width="9.3" d="M1542.5 249.8L1544.3 249L1546.1 249.7L1547.9 249L1549.8 248.7"/><path stroke-width="10.0" d="M1549.8 249.7L1551.6 250.4L1553.3 249.4L1555 250.2L1556.9 250"/><path stroke-width="9.8" d="M1556.9 249.8L1558.7 251.3L1560.4 251.8L1562.1 251.9L1564 251.9"/><path stroke-width="9.4" d="M1564 252.7L1565.9 253.5L1568 252.1L1570.1 251.9L1572.1 252.1"/><path stroke-width="9.6" d="M1572.1 252L1574.1 252.8L1575.8 252.1L1577.3 253.1L1578.5 255.5"/><path stroke-width="8.5" d="M1578.5 254.5L1579.7 256.5L1581 258.6L1582.5 258.7L1584.2 259.6"/><path stroke-width="9.2" d="M1584.2 259.6L1586 259L1588.1 261.1L1590.1 260.7L1592.2 260.5"/><path stroke-width="8.9" d="M1592.2 260.2L1594.2 262.1L1596 262.4L1597.6 262.1L1599.2 263.3"/><path stroke-width="8.9" d="M1599.2 262.5L1600.7 263L1602.1 265.1L1603.6 264.8L1605 266.3"/><path stroke-width="8.1" d="M1605 265.3L1606.6 266.5L1608.1 268.4L1609.6 269.2L1611.2 270.6"/><path stroke-width="9.6" d="M1611.2 269.8L1612.9 269.1L1614.7 271L1616.6 269.6L1618.5 269.7"/><path stroke-width="8.2" d="M1618.5 269.5L1620.5 268L1622.4 266.6L1624.2 266L1625.8 264.4"/><path stroke-width="8.5" d="M1625.8 264.8L1627.3 264.4L1628.7 262.3L1630.2 261.9L1631.7 260.6"/><path stroke-width="9.1" d="M1631.7 261.3L1633.2 259L1634.8 258.8L1636.5 257.5L1638.2 257.6"/><path stroke-width="9.5" d="M1638.2 257.4L1640 256.4L1641.7 255.1L1643.3 255.7L1645 255.1"/><path stroke-width="9.8" d="M1645 253.9L1646.6 254L1648.2 253.1L1649.7 252.9L1651.2 252.7"/><path stroke-width="8.8" d="M1651.2 251.9L1652.7 252.9L1654.2 253.3L1655.5 254L1656.8 255.6"/><path stroke-width="6.8" d="M1656.8 254.4L1657.8 256L1658.6 257L1659.4 259.3L1660.2 260"/><path stroke-width="9.0" d="M1660.2 260L1661.4 261.1L1662.7 263.1L1664.2 263.9L1665.8 264.3"/><path stroke-width="9.2" d="M1665.8 264.5L1667.5 266L1669.2 265.8L1671 266.4L1672.6 266.6"/><path stroke-width="9.2" d="M1672.6 267.1L1674.3 266L1676.1 267L1677.9 267.1L1679.6 266.5"/><path stroke-width="9.0" d="M1679.6 265.7L1681.3 265.1L1682.7 265.4L1684.1 267.1L1685.3 269"/><path stroke-width="7.6" d="M1685.3 267.9L1686.3 270L1687.3 271.6L1688.4 272.9L1689.3 274.6"/><path stroke-width="6.7" d="M1689.3 274.1L1690.1 275.7L1691 277.4L1691.8 278.7L1692.6 280.2"/><path stroke-width="7.1" d="M1692.6 280.3L1693.4 282L1694.3 283.4L1695.1 285.3L1696 287.1"/><path stroke-width="6.8" d="M1696 287.1L1696.8 288.6L1697.7 289.9L1698.6 292.4L1699.4 293.5"/><path stroke-width="6.7" d="M1699.4 294.1L1700.3 295.1L1701.1 296.7L1701.9 298.6L1702.7 300.2"/><path stroke-width="6.5" d="M1702.7 300.5L1703.4 301.8L1704.1 303.7L1704.8 305.5L1705.5 306.9"/><path stroke-width="5.9" d="M1705.5 307.4L1706.2 308.8L1706.9 310.4L1707.5 312.4L1708.1 313.9"/><path stroke-width="5.7" d="M1708.1 314.2L1708.7 315.7L1709.3 317.8L1709.9 319.5L1710.4 321.5"/><path stroke-width="5.5" d="M1710.4 321.6L1711 323.3L1711.5 325.1L1712 326.9L1712.5 328.9"/><path stroke-width="5.4" d="M1712.5 328.7L1712.9 330.6L1713.4 332.4L1713.8 334.2L1714.2 336.2"/><path stroke-width="5.3" d="M1714.2 336.1L1714.6 338L1715 339.7L1715.4 341.6L1715.8 343.3"/><path stroke-width="5.2" d="M1715.8 343.3L1716.2 345.1L1716.5 346.8L1716.9 348.7L1717.3 350.3"/><path stroke-width="5.1" d="M1717.3 350.4L1717.7 352.2L1718 353.9L1718.4 355.7L1718.8 357.3"/><path stroke-width="5.2" d="M1718.8 357.4L1719.2 359.2L1719.7 361.1L1720.1 362.8L1720.5 364.7"/><path stroke-width="5.0" d="M1720.5 364.6L1721 366.4L1721.4 368.2L1721.8 370.1L1722.2 372"/><path stroke-width="5.0" d="M1722.2 372L1722.6 373.8L1722.9 375.6L1723.2 377.4L1723.5 379.3"/><path stroke-width="4.9" d="M1723.5 379.3L1723.8 381.1L1724.1 383L1724.4 384.9L1724.7 386.9"/><path stroke-width="4.9" d="M1724.7 386.9L1725 388.9L1725.2 390.7L1725.5 392.6L1725.7 394.4"/><path stroke-width="4.9" d="M1725.7 394.4L1726 396.3L1726.2 398.3L1726.4 400.2L1726.6 402.2"/><path stroke-width="4.9" d="M1726.6 402.2L1726.9 404.2L1727.1 406.3L1727.3 408.4L1727.5 410.5"/><path stroke-width="4.8" d="M1727.5 410.5L1727.7 412.7L1727.9 414.5L1728 416.3L1728.2 418.1"/><path stroke-width="4.8" d="M1728.2 418.1L1728.3 420L1728.5 422L1728.7 423.9L1728.8 425.9"/><path stroke-width="4.8" d="M1728.8 425.9L1729 427.9L1729.1 429.9L1729.3 431.9L1729.4 434"/><path stroke-width="4.8" d="M1729.4 434L1729.6 436L1729.7 438.1L1729.8 440.1L1730 442.2"/><path stroke-width="4.8" d="M1730 442.2L1730.1 444.2L1730.2 446.2L1730.4 448.2L1730.5 450.2"/><path stroke-width="4.8" d="M1730.5 450.2L1730.6 452.2L1730.7 454.2L1730.9 456.1L1731 458.1"/><path stroke-width="4.8" d="M1731 458.1L1731.1 460.1L1731.2 462.1L1731.3 464L1731.4 466"/><path stroke-width="4.8" d="M1731.4 466L1731.5 468L1731.6 470L1731.7 472L1731.7 474"/><path stroke-width="4.8" d="M1731.7 474L1731.8 475.9L1731.9 477.9L1732 479.9L1732.1 481.9"/><path stroke-width="4.8" d="M1732.1 481.9L1732.2 483.8L1732.3 485.8L1732.4 487.8L1732.5 489.8"/><path stroke-width="4.8" d="M1732.5 489.8L1732.6 491.8L1732.7 493.7L1732.8 495.7L1732.9 497.7"/><path stroke-width="4.8" d="M1732.9 497.7L1733 499.6L1733.1 501.6L1733.2 503.6L1733.3 505.6"/><path stroke-width="4.8" d="M1733.3 505.6L1733.3 507.5L1733.4 509.5L1733.5 511.5L1733.6 513.5"/><path stroke-width="4.8" d="M1733.6 513.5L1733.7 515.4L1733.8 517.4L1733.9 519.4L1734 521.3"/><path stroke-width="4.8" d="M1734 521.3L1734.1 523.3L1734.2 525.3L1734.3 527.3L1734.4 529.2"/><path stroke-width="4.8" d="M1734.4 529.2L1734.5 531.1L1734.6 533L1734.7 534.9L1734.8 536.8"/><path stroke-width="4.8" d="M1734.8 536.8L1734.9 538.6L1735 540.5L1735.1 542.4L1735.3 544.3"/><path stroke-width="4.8" d="M1735.3 544.3L1735.4 546.2L1735.5 548.1L1735.6 550.1L1735.7 552.1"/><path stroke-width="4.8" d="M1735.7 552.1L1735.8 554.2L1735.8 556.3L1735.9 558.4L1736 560.6"/><path stroke-width="4.8" d="M1736 560.6L1736.1 562.9L1736.2 564.6L1736.2 566.2L1736.3 567.9"/><path stroke-width="4.8" d="M1736.3 567.9L1736.3 569.7L1736.3 571.5L1736.4 573.3L1736.4 575.1"/><path stroke-width="4.8" d="M1736.4 575.1L1736.5 576.9L1736.5 578.8L1736.5 580.7L1736.6 582.6"/><path stroke-width="4.8" d="M1736.6 582.6L1736.6 584.5L1736.6 586.5L1736.7 588.4L1736.7 590.4"/><path stroke-width="4.8" d="M1736.7 590.4L1736.7 592.4L1736.7 594.4L1736.8 596.4L1736.8 598.5"/><path stroke-width="4.8" d="M1736.8 598.5L1736.8 600.5L1736.8 602.5L1736.9 604.6L1736.9 606.6"/><path stroke-width="4.8" d="M1736.9 606.6L1736.9 608.7L1736.9 610.7L1737 612.8L1737 614.9"/><path stroke-width="4.8" d="M1737 614.9L1737 616.9L1737 619L1737.1 621L1737.1 623.1"/><path stroke-width="4.8" d="M1737.1 623.1L1737.1 625.1L1737.2 627.1L1737.2 629.1L1737.2 631.1"/><path stroke-width="4.8" d="M1737.2 631.1L1737.3 633.1L1737.3 635.1L1737.3 637.1L1737.4 639"/><path stroke-width="4.8" d="M1737.4 639L1737.4 641L1737.5 642.9L1737.5 644.9L1737.6 646.9"/><path stroke-width="4.8" d="M1737.6 646.9L1737.6 648.8L1737.6 650.8L1737.7 652.8L1737.7 654.8"/><path stroke-width="4.8" d="M1737.7 654.8L1737.8 656.7L1737.8 658.7L1737.9 660.7L1737.9 662.7"/><path stroke-width="4.8" d="M1737.9 662.7L1738 664.6L1738 666.6L1738.1 668.6L1738.1 670.6"/><path stroke-width="4.8" d="M1738.1 670.6L1738.2 672.6L1738.2 674.5L1738.3 676.5L1738.3 678.5"/><path stroke-width="4.8" d="M1738.3 678.5L1738.4 680.5L1738.4 682.5L1738.5 684.5L1738.5 686.4"/><path stroke-width="4.8" d="M1738.5 686.4L1738.6 688.4L1738.6 690.4L1738.7 692.4L1738.7 694.4"/><path stroke-width="4.8" d="M1738.7 694.4L1738.8 696.3L1738.8 698.3L1738.9 700.3L1738.9 702.3"/><path stroke-width="4.8" d="M1738.9 702.3L1739 704.3L1739 706.2L1739.1 708.2L1739.1 710.2"/><path stroke-width="4.8" d="M1739.1 710.2L1739.1 712.2L1739.2 714.2L1739.2 716.1L1739.3 718.1"/><path stroke-width="4.8" d="M1739.3 718.1L1739.3 720.1L1739.4 722.1L1739.4 724L1739.5 726"/><path stroke-width="4.8" d="M1739.5 726L1739.5 728L1739.6 730L1739.6 731.9L1739.7 733.9"/><path stroke-width="4.8" d="M1739.7 733.9L1739.7 735.9L1739.8 737.9L1739.8 739.9L1739.9 741.8"/><path stroke-width="4.8" d="M1739.9 741.8L1739.9 743.8L1740 745.8L1740 747.8L1740.1 749.7"/><path stroke-width="4.8" d="M1740.1 749.7L1740.1 751.7L1740.2 753.7L1740.2 755.7L1740.3 757.6"/><path stroke-width="4.8" d="M1740.3 757.6L1740.3 759.6L1740.4 761.6L1740.4 763.6L1740.5 765.6"/><path stroke-width="4.8" d="M1740.5 765.5L1740.5 767.5L1740.6 769.5L1740.6 771.5L1740.7 773.5"/><path stroke-width="4.8" d="M1740.7 773.5L1740.7 775.4L1740.8 777.4L1740.8 779.4L1740.9 781.4"/><path stroke-width="4.8" d="M1740.9 781.4L1740.9 783.3L1741 785.3L1741 787.3L1741.1 789.2"/><path stroke-width="4.8" d="M1741.1 789.2L1741.1 791.2L1741.2 793.2L1741.2 795.1L1741.3 797.1"/><path stroke-width="4.8" d="M1741.3 797.1L1741.3 799.1L1741.4 801L1741.4 803L1741.5 805"/><path stroke-width="4.8" d="M1741.5 805L1741.5 806.9L1741.6 808.9L1741.6 810.9L1741.7 812.9"/><path stroke-width="4.8" d="M1741.7 812.9L1741.7 814.8L1741.8 816.8L1741.8 818.8L1741.9 820.7"/><path stroke-width="4.8" d="M1741.9 820.7L1741.9 822.7L1742 824.7L1742 826.6L1742.1 828.6"/><path stroke-width="4.8" d="M1742.1 828.6L1742.1 830.6L1742.2 832.5L1742.2 834.5L1742.3 836.4"/><path stroke-width="4.8" d="M1742.3 836.4L1742.3 838.4L1742.4 840.4L1742.4 842.3L1742.5 844.3"/><path stroke-width="4.8" d="M1742.5 844.3L1742.5 846.3L1742.6 848.2L1742.6 850.2L1742.7 852.2"/><path stroke-width="4.8" d="M1742.7 852.2L1742.7 854.1L1742.8 856.1L1742.8 858L1742.9 860"/><path stroke-width="4.8" d="M1742.9 860L1743 862L1743 864L1743.1 866L1743.1 868"/><path stroke-width="4.8" d="M1743.1 868L1743.1 870L1743.2 872L1743.2 874L1743.3 876"/><path stroke-width="4.8" d="M1743.3 876L1743.3 878L1743.4 880L1743.4 882L1743.5 884"/><path stroke-width="4.8" d="M1743.5 884L1743.5 886L1743.6 888L1743.6 890L1743.7 892"/><path stroke-width="4.8" d="M1743.7 892L1743.7 893.9L1743.8 895.9L1743.8 897.9L1743.9 899.9"/><path stroke-width="4.8" d="M1743.9 899.9L1743.9 901.9L1744 903.9L1744 905.9L1744.1 907.9"/><path stroke-width="4.8" d="M1744.1 907.9L1744.1 909.9L1744.2 911.9L1744.2 913.9L1744.3 915.9"/><path stroke-width="4.8" d="M1744.3 915.9L1744.3 917.9L1744.4 919.9L1744.4 921.9L1744.5 923.9"/><path stroke-width="4.8" d="M1744.5 923.9L1744.6 925.9L1744.6 927.9L1744.7 929.9L1744.7 931.9"/><path stroke-width="4.8" d="M1744.7 931.9L1744.8 933.9L1744.9 935.9L1744.9 937.9L1745 939.9"/><path stroke-width="4.8" d="M1745 939.9L1745.1 941.9L1745.1 943.9L1745.2 945.9L1745.3 947.9"/><path stroke-width="4.8" d="M1745.3 947.9L1745.3 950L1745.4 952L1745.5 954.1L1745.6 956.1"/><path stroke-width="4.8" d="M1745.6 956.1L1745.6 958.2L1745.7 960.2L1745.8 962.3L1745.9 964.3"/><path stroke-width="4.8" d="M1745.9 964.3L1745.9 966.4L1746 968.4L1746.1 970.5L1746.2 972.5"/><path stroke-width="4.8" d="M1746.2 972.5L1746.3 974.5L1746.3 976.6L1746.4 978.6L1746.5 980.6"/><path stroke-width="4.8" d="M1746.5 980.6L1746.6 982.6L1746.6 984.6L1746.7 986.6L1746.8 988.5"/><path stroke-width="4.8" d="M1746.8 988.5L1746.9 990.5L1746.9 992.4L1747 994.3L1747.1 996.2"/><path stroke-width="4.8" d="M1747.1 996.2L1747.2 998.1L1747.2 1000L1747.3 1001.8L1747.4 1003.7"/><path stroke-width="4.8" d="M1747.4 1003.7L1747.5 1005.5L1747.5 1007.2L1747.6 1009L1747.7 1011.2"/><path stroke-width="4.8" d="M1747.7 1011.2L1747.8 1013.4L1747.8 1015.5L1747.9 1017.7L1748 1019.9"/><path stroke-width="4.8" d="M1748 1019.9L1748.1 1022L1748.2 1024.1L1748.2 1026.2L1748.3 1028.3"/><path stroke-width="4.8" d="M1748.3 1028.3L1748.4 1030.4L1748.5 1032.4L1748.5 1034.5L1748.6 1036.5"/><path stroke-width="4.8" d="M1748.6 1036.5L1748.7 1038.4L1748.8 1040.3L1748.8 1042.2L1748.9 1044.1"/><path stroke-width="4.8" d="M1748.9 1044.1L1749 1045.9L1749.1 1047.7L1749.2 1049.4L1749.2 1051.1"/><path stroke-width="4.8" d="M1749.2 1051.1L1749.3 1052.8L1749.4 1054.4L1749.5 1055.9L1749.6 1058.3"/><path stroke-width="4.8" d="M1749.6 1058.3L1749.8 1060.8L1749.9 1063.4L1750 1065.8L1750.2 1068.2"/><path stroke-width="4.9" d="M1750.2 1068.2L1750.3 1070.3L1750.5 1072.1L1750.6 1073.5L1750.8 1074.4"/><path stroke-width="5.0" d="M1750.8 1074.4L1751 1074.7L1751.2 1074.4L1751.4 1073.7L1751.5 1072.6"/><path stroke-width="4.9" d="M1751.5 1072.6L1751.8 1071.1L1752 1069.3L1752.2 1067.2L1752.4 1065"/><path stroke-width="4.9" d="M1752.4 1065L1752.6 1062.6L1752.9 1060.1L1753.1 1057.6L1753.3 1055.1"/><path stroke-width="4.9" d="M1753.3 1055.1L1753.6 1052.7L1753.8 1050.4L1754 1048.3L1754.2 1046.5"/><path stroke-width="4.9" d="M1754.2 1046.5L1754.4 1044.3L1754.7 1041.9L1754.9 1039.4L1755.1 1037"/><path stroke-width="4.9" d="M1755.1 1036.9L1755.4 1034.6L1755.6 1032.4L1755.8 1030.6L1756.1 1029.1"/><path stroke-width="5.4" d="M1756.1 1029L1756.3 1028.2L1756.6 1027.8L1757 1028.3L1757.5 1029.8"/><path stroke-width="4.9" d="M1757.5 1029.8L1758 1032L1758.5 1034.5L1758.9 1037.1L1759.1 1038.5"/><path stroke-width="4.9" d="M1759.1 1038.5L1759.2 1040L1759.4 1041.6L1759.5 1043.3L1759.6 1045.1"/><path stroke-width="4.8" d="M1759.6 1045.1L1759.7 1046.9L1759.8 1048.9L1759.9 1050.9L1760 1053"/><path stroke-width="4.8" d="M1760 1053L1760 1055.1L1760.1 1057.3L1760.2 1059.5L1760.2 1061.7"/><path stroke-width="4.8" d="M1760.2 1061.7L1760.3 1063.9L1760.4 1066.1L1760.4 1068.3L1760.5 1070.4"/><path stroke-width="4.8" d="M1760.5 1070.4L1760.6 1072.6L1760.7 1074.7L1760.8 1076.6L1760.9 1078.5"/><path stroke-width="4.8" d="M1760.9 1078.5L1761 1080.4L1761.1 1082.4L1761.2 1084.4L1761.3 1086.4"/><path stroke-width="4.8" d="M1761.3 1086.4L1761.4 1088.4L1761.5 1090.5L1761.6 1092.5L1761.7 1094.6"/><path stroke-width="4.8" d="M1761.7 1094.6L1761.8 1096.7L1761.8 1098.7L1761.9 1100.8L1762 1102.8"/><path stroke-width="4.8" d="M1762 1102.8L1762.1 1104.8L1762.2 1106.8L1762.3 1108.8L1762.4 1110.8"/><path stroke-width="4.8" d="M1762.4 1110.8L1762.5 1112.7L1762.6 1114.6L1762.7 1116.4L1762.8 1118.2"/><path stroke-width="4.8" d="M1762.8 1118.2L1762.9 1119.9L1763 1121.6L1763.1 1123.8L1763.2 1125.8"/><path stroke-width="4.8" d="M1763.2 1125.8L1763.3 1127.8L1763.5 1129.7L1763.6 1131.5L1763.7 1133.4"/><path stroke-width="4.8" d="M1763.7 1133.4L1763.8 1135.2L1763.9 1137L1764 1138.8L1764.1 1140.7"/><path stroke-width="4.8" d="M1764.1 1140.7L1764.2 1142.7L1764.4 1144.7L1764.5 1146.9L1764.6 1148.6"/><path stroke-width="4.8" d="M1764.6 1148.6L1764.7 1150.3L1764.8 1152.1L1764.9 1153.9L1765 1155.8"/><path stroke-width="4.8" d="M1765 1155.7L1765.1 1157.6L1765.2 1159.6L1765.3 1161.5L1765.4 1163.5"/><path stroke-width="4.8" d="M1765.4 1163.5L1765.6 1165.5L1765.7 1167.5L1765.8 1169.5L1765.9 1171.5"/><path stroke-width="4.8" d="M1765.9 1171.5L1766 1173.6L1766.1 1175.6L1766.3 1177.7L1766.4 1179.8"/><path stroke-width="4.8" d="M1766.4 1179.8L1766.5 1181.8L1766.6 1183.9L1766.8 1185.9L1766.9 1187.9"/><path stroke-width="4.8" d="M1766.9 1187.9L1767 1189.9L1767.2 1191.9L1767.3 1193.9L1767.4 1195.9"/><path stroke-width="4.8" d="M1767.4 1195.9L1767.6 1197.8L1767.7 1199.8L1767.9 1201.8L1768 1203.8"/><path stroke-width="4.8" d="M1768 1203.8L1768.2 1205.8L1768.3 1207.7L1768.5 1209.7L1768.6 1211.7"/><path stroke-width="4.8" d="M1768.6 1211.7L1768.8 1213.7L1769 1215.7L1769.1 1217.7L1769.3 1219.7"/><path stroke-width="4.8" d="M1769.3 1219.6L1769.4 1221.6L1769.6 1223.6L1769.8 1225.5L1769.9 1227.5"/><path stroke-width="4.9" d="M1769.9 1227.5L1770.1 1229.5L1770.3 1231.4L1770.4 1233.3L1770.6 1235.2"/><path stroke-width="4.9" d="M1770.6 1235.2L1770.8 1237.1L1770.9 1238.9L1771.1 1240.8L1771.3 1242.9"/><path stroke-width="4.9" d="M1771.3 1242.9L1771.5 1245L1771.7 1247.1L1771.8 1249.1L1772 1251.2"/><path stroke-width="4.9" d="M1772 1251.2L1772.2 1253.3L1772.4 1255.3L1772.6 1257.4L1772.8 1259.4"/><path stroke-width="4.9" d="M1772.8 1259.4L1773 1261.4L1773.1 1263.4L1773.3 1265.3L1773.5 1267.3"/><path stroke-width="4.9" d="M1773.5 1267.3L1773.7 1269.2L1773.9 1271.1L1774.2 1273L1774.4 1274.8"/><path stroke-width="4.9" d="M1774.4 1274.8L1774.6 1276.6L1774.8 1278.4L1775.1 1280.5L1775.3 1282.6"/><path stroke-width="4.9" d="M1775.3 1282.6L1775.6 1284.7L1775.9 1286.7L1776.2 1288.7L1776.5 1290.7"/><path stroke-width="4.9" d="M1776.5 1290.7L1776.8 1292.6L1777 1294.5L1777.3 1296.3L1777.7 1298.1"/><path stroke-width="4.9" d="M1777.7 1298.1L1778 1299.7L1778.3 1301.3L1778.6 1302.8L1779.1 1305.3"/><path stroke-width="5.0" d="M1779.1 1305.3L1779.7 1307.8L1780.3 1310.1L1780.8 1311.6L1781.4 1312.2"/><path stroke-width="5.0" d="M1781.4 1312.2L1782 1311.5L1782.6 1310L1783.1 1307.7L1783.7 1305.2"/><path stroke-width="4.9" d="M1783.7 1305.2L1784.2 1302.8L1784.5 1301.2L1784.8 1299.5L1785.1 1297.7"/><path stroke-width="4.9" d="M1785.1 1297.7L1785.4 1295.9L1785.7 1294L1786 1292L1786.2 1290"/><path stroke-width="4.9" d="M1786.2 1290L1786.5 1288L1786.7 1286L1787 1284L1787.2 1282.2"/><path stroke-width="4.9" d="M1787.2 1282.2L1787.5 1280.5L1787.7 1278.6L1787.9 1276.8L1788.2 1274.9"/><path stroke-width="4.9" d="M1788.2 1274.9L1788.4 1273.1L1788.6 1271.2L1788.8 1269.3L1789 1267.4"/><path stroke-width="4.9" d="M1789 1267.3L1789.2 1265.4L1789.4 1263.5L1789.6 1261.5L1789.8 1259.6"/><path stroke-width="4.9" d="M1789.8 1259.6L1790 1257.8L1790.1 1256L1790.3 1254.1L1790.4 1252.2"/><path stroke-width="4.8" d="M1790.4 1252.2L1790.6 1250.3L1790.7 1248.5L1790.8 1246.6L1790.9 1244.7"/><path stroke-width="4.8" d="M1790.9 1244.7L1791.1 1242.8L1791.2 1240.9L1791.3 1239L1791.4 1237.1"/><path stroke-width="4.8" d="M1791.4 1237.1L1791.5 1235.2L1791.6 1233.3L1791.7 1231.4L1791.8 1229.5"/><path stroke-width="4.8" d="M1791.8 1229.5L1791.9 1227.6L1791.9 1225.7L1792 1223.8L1792.1 1221.8"/><path stroke-width="4.8" d="M1792.1 1221.8L1792.1 1219.9L1792.1 1218L1792.2 1216L1792.2 1214.1"/><path stroke-width="4.8" d="M1792.2 1214.1L1792.3 1212.2L1792.4 1210.4L1792.4 1208.6L1792.5 1206.8"/><path stroke-width="4.8" d="M1792.5 1206.8L1792.6 1205L1792.7 1203.3L1792.8 1201.2L1792.8 1199"/><path stroke-width="4.8" d="M1792.8 1199L1792.9 1196.8L1792.9 1194.7L1792.9 1192.6L1793 1190.6"/><path stroke-width="4.9" d="M1793 1190.6L1793.2 1188.7L1793.5 1187.1L1793.9 1185.7L1794.5 1184.5"/><path stroke-width="5.3" d="M1794.5 1184.5L1795.8 1183.5L1797.3 1183.1L1798.9 1182.7L1800.2 1181.7"/><path stroke-width="5.0" d="M1800.2 1181.7L1800.9 1180.6L1801.4 1179.2L1801.8 1177.6L1802 1175.8"/><path stroke-width="4.9" d="M1802 1175.8L1802.3 1173.9L1802.4 1171.9L1802.6 1169.8L1802.8 1167.7"/><path stroke-width="4.9" d="M1802.8 1167.8L1803 1165.7L1803.2 1164.1L1803.4 1162.5L1803.5 1160.9"/><path stroke-width="4.8" d="M1803.5 1160.9L1803.7 1159.2L1803.8 1157.5L1803.9 1155.8L1804 1154.1"/><path stroke-width="4.8" d="M1804 1154.1L1804.1 1152.2L1804.3 1150.4L1804.4 1148.5L1804.5 1146.5"/><path stroke-width="4.8" d="M1804.5 1146.5L1804.6 1144.4L1804.7 1142.2L1804.8 1140L1804.9 1137.6"/><path stroke-width="4.8" d="M1804.9 1137.6L1805 1136.2L1805 1134.7L1805.1 1133.1L1805.2 1131.6"/><path stroke-width="4.8" d="M1805.2 1131.6L1805.2 1130L1805.3 1128.3L1805.4 1126.6L1805.4 1124.9"/><path stroke-width="4.8" d="M1805.4 1124.9L1805.5 1123.1L1805.5 1121.3L1805.6 1119.5L1805.7 1117.6"/><path stroke-width="4.8" d="M1805.7 1117.6L1805.7 1115.7L1805.8 1113.8L1805.8 1111.8L1805.9 1109.8"/><path stroke-width="4.8" d="M1805.9 1109.8L1806 1107.8L1806 1105.8L1806.1 1103.7L1806.1 1101.7"/><path stroke-width="4.8" d="M1806.1 1101.7L1806.2 1099.6L1806.2 1097.5L1806.3 1095.4L1806.4 1093.3"/><path stroke-width="4.8" d="M1806.4 1093.3L1806.4 1091.1L1806.5 1089L1806.5 1086.8L1806.6 1084.7"/><path stroke-width="4.8" d="M1806.6 1084.7L1806.6 1082.5L1806.7 1080.3L1806.8 1078.2L1806.8 1076"/><path stroke-width="4.8" d="M1806.8 1076L1806.9 1073.8L1806.9 1071.7L1807 1069.5L1807.1 1067.4"/><path stroke-width="4.8" d="M1807.1 1067.4L1807.1 1065.2L1807.2 1063.1L1807.2 1060.9L1807.3 1058.8"/><path stroke-width="4.8" d="M1807.3 1058.8L1807.4 1056.7L1807.4 1054.7L1807.5 1052.6L1807.6 1050.5"/><path stroke-width="4.8" d="M1807.6 1050.5L1807.6 1048.5L1807.7 1046.5L1807.8 1044.5L1807.8 1042.5"/><path stroke-width="4.8" d="M1807.8 1042.5L1807.9 1040.5L1808 1038.5L1808.1 1036.5L1808.1 1034.6"/><path stroke-width="4.8" d="M1808.1 1034.5L1808.2 1032.6L1808.3 1030.5L1808.4 1028.5L1808.4 1026.5"/><path stroke-width="4.8" d="M1808.4 1026.5L1808.5 1024.5L1808.6 1022.5L1808.7 1020.5L1808.8 1018.5"/><path stroke-width="4.8" d="M1808.8 1018.5L1808.8 1016.5L1808.9 1014.4L1809 1012.4L1809.1 1010.4"/><path stroke-width="4.8" d="M1809.1 1010.4L1809.2 1008.4L1809.2 1006.4L1809.3 1004.4L1809.4 1002.3"/><path stroke-width="4.8" d="M1809.4 1002.3L1809.5 1000.3L1809.6 998.3L1809.6 996.3L1809.7 994.3"/><path stroke-width="4.8" d="M1809.7 994.3L1809.8 992.3L1809.9 990.3L1810 988.3L1810.1 986.3"/><path stroke-width="4.8" d="M1810.1 986.3L1810.1 984.2L1810.2 982.2L1810.3 980.3L1810.4 978.3"/><path stroke-width="4.8" d="M1810.4 978.3L1810.5 976.3L1810.5 974.3L1810.6 972.3L1810.7 970.3"/><path stroke-width="4.8" d="M1810.7 970.3L1810.8 968.3L1810.9 966.4L1810.9 964.4L1811 962.4"/><path stroke-width="4.8" d="M1811 962.4L1811.1 960.5L1811.2 958.5L1811.2 956.6L1811.3 954.6"/><path stroke-width="4.8" d="M1811.3 954.6L1811.4 952.7L1811.5 950.7L1811.6 948.7L1811.6 946.7"/><path stroke-width="4.8" d="M1811.6 946.7L1811.7 944.7L1811.8 942.7L1811.9 940.7L1811.9 938.7"/><path stroke-width="4.8" d="M1811.9 938.7L1812 936.8L1812.1 934.8L1812.2 932.9L1812.2 930.9"/><path stroke-width="4.8" d="M1812.2 930.9L1812.3 929L1812.4 927L1812.5 925.1L1812.5 923.2"/><path stroke-width="4.8" d="M1812.5 923.2L1812.6 921.2L1812.7 919.3L1812.8 917.4L1812.8 915.5"/><path stroke-width="4.8" d="M1812.8 915.5L1812.9 913.5L1813 911.6L1813 909.7L1813.1 907.8"/><path stroke-width="4.8" d="M1813.1 907.7L1813.2 905.8L1813.3 903.9L1813.3 902L1813.4 900"/><path stroke-width="4.8" d="M1813.4 900L1813.5 898.1L1813.6 896.1L1813.6 894.2L1813.7 892.2"/><path stroke-width="4.8" d="M1813.7 892.2L1813.8 890.2L1813.8 888.2L1813.9 886.3L1814 884.3"/><path stroke-width="4.8" d="M1814 884.3L1814.1 882.3L1814.1 880.2L1814.2 878.2L1814.3 876.2"/><path stroke-width="4.8" d="M1814.3 876.2L1814.4 874.1L1814.4 872.1L1814.5 870L1814.6 868.1"/><path stroke-width="4.8" d="M1814.6 868.1L1814.6 866.2L1814.7 864.3L1814.8 862.4L1814.8 860.5"/><path stroke-width="4.8" d="M1814.8 860.5L1814.9 858.6L1815 856.7L1815 854.8L1815.1 852.8"/><path stroke-width="4.8" d="M1815.1 852.8L1815.2 850.9L1815.2 848.9L1815.3 847L1815.4 845"/><path stroke-width="4.8" d="M1815.4 845L1815.4 843.1L1815.5 841.1L1815.6 839.2L1815.6 837.2"/><path stroke-width="4.8" d="M1815.6 837.2L1815.7 835.2L1815.8 833.2L1815.8 831.2L1815.9 829.3"/><path stroke-width="4.8" d="M1815.9 829.2L1816 827.3L1816 825.3L1816.1 823.3L1816.2 821.3"/><path stroke-width="4.8" d="M1816.2 821.3L1816.2 819.2L1816.3 817.2L1816.4 815.2L1816.4 813.2"/><path stroke-width="4.8" d="M1816.4 813.2L1816.5 811.2L1816.6 809.2L1816.6 807.2L1816.7 805.1"/><path stroke-width="4.8" d="M1816.7 805.1L1816.8 803.1L1816.8 801.1L1816.9 799.1L1817 797"/><path stroke-width="4.8" d="M1817 797L1817 795L1817.1 793L1817.2 790.9L1817.2 788.9"/><path stroke-width="4.8" d="M1817.2 788.9L1817.3 786.9L1817.4 784.8L1817.5 782.8L1817.5 780.7"/><path stroke-width="4.8" d="M1817.5 780.7L1817.6 778.7L1817.7 776.7L1817.7 774.6L1817.8 772.6"/><path stroke-width="4.8" d="M1817.8 772.6L1817.9 770.6L1817.9 768.5L1818 766.5L1818.1 764.6"/><path stroke-width="4.8" d="M1818.1 764.6L1818.1 762.6L1818.2 760.7L1818.3 758.7L1818.3 756.7"/><path stroke-width="4.8" d="M1818.3 756.7L1818.4 754.7L1818.5 752.7L1818.5 750.8L1818.6 748.8"/><path stroke-width="4.8" d="M1818.6 748.7L1818.6 746.7L1818.7 744.7L1818.8 742.7L1818.8 740.7"/><path stroke-width="4.8" d="M1818.8 740.7L1818.9 738.7L1819 736.6L1819 734.6L1819.1 732.6"/><path stroke-width="4.8" d="M1819.1 732.6L1819.2 730.5L1819.2 728.5L1819.3 726.4L1819.4 724.4"/><path stroke-width="4.8" d="M1819.4 724.4L1819.4 722.3L1819.5 720.3L1819.5 718.3L1819.6 716.2"/><path stroke-width="4.8" d="M1819.6 716.2L1819.7 714.2L1819.7 712.1L1819.8 710.1L1819.9 708.1"/><path stroke-width="4.8" d="M1819.9 708.1L1819.9 706L1820 704L1820.1 702L1820.1 699.9"/><path stroke-width="4.8" d="M1820.1 700L1820.2 697.9L1820.3 695.9L1820.3 693.9L1820.4 691.9"/><path stroke-width="4.8" d="M1820.4 691.9L1820.5 689.9L1820.5 687.9L1820.6 686L1820.7 684"/><path stroke-width="4.8" d="M1820.7 684L1820.7 682L1820.8 680.1L1820.9 678.1L1820.9 676.2"/><path stroke-width="4.8" d="M1820.9 676.2L1821 674.3L1821.1 672.4L1821.2 670.5L1821.2 668.6"/><path stroke-width="4.8" d="M1821.2 668.6L1821.3 666.7L1821.4 664.8L1821.4 663L1821.5 661.1"/><path stroke-width="4.8" d="M1821.5 661.1L1821.6 659.3L1821.7 657.5L1821.7 655.7L1821.8 653.9"/><path stroke-width="4.8" d="M1821.8 653.9L1821.9 651.7L1822 649.6L1822.1 647.4L1822.2 645.2"/><path stroke-width="4.8" d="M1822.2 645.2L1822.3 643.1L1822.4 640.9L1822.4 638.7L1822.5 636.6"/><path stroke-width="4.8" d="M1822.5 636.6L1822.6 634.5L1822.7 632.3L1822.8 630.2L1822.9 628.1"/><path stroke-width="4.8" d="M1822.9 628.1L1823 626L1823.1 623.9L1823.2 621.8L1823.3 619.7"/><path stroke-width="4.8" d="M1823.3 619.7L1823.4 617.7L1823.5 615.6L1823.6 613.6L1823.7 611.6"/><path stroke-width="4.8" d="M1823.7 611.6L1823.8 609.6L1823.9 607.6L1824 605.7L1824.1 603.7"/><path stroke-width="4.8" d="M1824.1 603.7L1824.2 601.8L1824.3 599.9L1824.4 598L1824.5 596.1"/><path stroke-width="4.8" d="M1824.5 596.1L1824.6 594.3L1824.7 592.5L1824.8 590.7L1824.9 588.9"/><path stroke-width="4.8" d="M1824.9 588.9L1825 587.1L1825.1 585.4L1825.2 583.7L1825.3 582.1"/><path stroke-width="4.8" d="M1825.3 582.1L1825.4 580.4L1825.5 578.8L1825.6 576.5L1825.8 574.3"/><path stroke-width="4.8" d="M1825.8 574.3L1825.9 572.1L1826 570L1826.1 567.9L1826.3 565.9"/><path stroke-width="4.8" d="M1826.3 565.9L1826.4 563.9L1826.5 562L1826.6 560.1L1826.8 558.2"/><path stroke-width="4.9" d="M1826.8 558.2L1826.9 556.3L1827 554.5L1827.2 552.7L1827.3 550.9"/><path stroke-width="4.9" d="M1827.3 551L1827.5 549.2L1827.7 547.5L1827.9 545.8L1828.1 544.1"/><path stroke-width="4.9" d="M1828.1 544.1L1828.4 541.8L1828.7 539.5L1829 536.9L1829.4 534.4"/><path stroke-width="4.9" d="M1829.4 534.4L1829.7 532L1830.1 529.7L1830.5 527.6L1830.8 525.9"/><path stroke-width="5.1" d="M1830.8 526L1831.2 524.5L1831.6 523.7L1831.9 523.4L1832.2 523.6"/><path stroke-width="4.9" d="M1832.2 523.6L1832.5 524.4L1832.8 525.5L1833.1 526.9L1833.4 528.7"/><path stroke-width="4.9" d="M1833.4 528.7L1833.7 530.7L1834 532.9L1834.3 535.3L1834.6 537.8"/><path stroke-width="4.9" d="M1834.6 537.8L1834.9 540.3L1835.1 542.9L1835.4 545.4L1835.6 547.8"/><path stroke-width="4.8" d="M1835.6 547.8L1835.7 549.3L1835.8 550.8L1836 552.5L1836.1 554.1"/><path stroke-width="4.8" d="M1836.1 554.1L1836.2 555.8L1836.3 557.6L1836.3 559.4L1836.4 561.2"/><path stroke-width="4.8" d="M1836.4 561.2L1836.5 563.1L1836.6 565L1836.6 567L1836.7 569"/><path stroke-width="4.8" d="M1836.7 569L1836.8 571L1836.8 573L1836.9 575.1L1836.9 577.2"/><path stroke-width="4.8" d="M1836.9 577.1L1836.9 579.2L1837 581.3L1837 583.5L1837.1 585.6"/><path stroke-width="4.8" d="M1837.1 585.6L1837.1 587.7L1837.1 589.8L1837.2 592L1837.2 594.1"/><path stroke-width="4.8" d="M1837.2 594.1L1837.2 596.2L1837.3 598.3L1837.3 600.4L1837.4 602.5"/><path stroke-width="4.8" d="M1837.4 602.5L1837.4 604.5L1837.4 606.6L1837.5 608.6L1837.5 610.5"/><path stroke-width="4.8" d="M1837.5 610.6L1837.6 612.5L1837.6 614.4L1837.7 616.3L1837.8 618.3"/><path stroke-width="4.8" d="M1837.8 618.3L1837.8 620.3L1837.9 622.3L1838 624.3L1838 626.2"/><path stroke-width="4.8" d="M1838 626.2L1838.1 628.2L1838.2 630.1L1838.2 632L1838.3 633.9"/><path stroke-width="4.8" d="M1838.3 633.9L1838.4 635.8L1838.4 637.7L1838.5 639.6L1838.6 641.5"/><path stroke-width="4.8" d="M1838.6 641.5L1838.6 643.4L1838.7 645.3L1838.8 647.2L1838.8 649.1"/><path stroke-width="4.8" d="M1838.8 649.1L1838.9 651L1839 652.9L1839 654.8L1839.1 656.7"/><path stroke-width="4.8" d="M1839.1 656.7L1839.2 658.6L1839.2 660.6L1839.3 662.6L1839.4 664.6"/><path stroke-width="4.8" d="M1839.4 664.6L1839.4 666.6L1839.5 668.6L1839.5 670.6L1839.6 672.7"/><path stroke-width="4.8" d="M1839.6 672.7L1839.7 674.5L1839.7 676.4L1839.8 678.3L1839.8 680.2"/><path stroke-width="4.8" d="M1839.8 680.2L1839.9 682.1L1839.9 684L1840 685.9L1840 687.8"/><path stroke-width="4.8" d="M1840 687.8L1840.1 689.8L1840.1 691.7L1840.2 693.7L1840.2 695.7"/><path stroke-width="4.8" d="M1840.2 695.7L1840.3 697.7L1840.3 699.6L1840.4 701.6L1840.4 703.6"/><path stroke-width="4.8" d="M1840.4 703.6L1840.5 705.6L1840.5 707.7L1840.6 709.7L1840.6 711.7"/><path stroke-width="4.8" d="M1840.6 711.7L1840.7 713.7L1840.7 715.7L1840.8 717.8L1840.8 719.8"/><path stroke-width="4.8" d="M1840.8 719.8L1840.9 721.8L1840.9 723.8L1840.9 725.8L1841 727.9"/><path stroke-width="4.8" d="M1841 727.9L1841 729.9L1841.1 731.9L1841.1 733.9L1841.2 735.9"/><path stroke-width="4.8" d="M1841.2 735.9L1841.2 737.9L1841.3 739.9L1841.3 741.9L1841.4 743.9"/><path stroke-width="4.8" d="M1841.4 743.9L1841.4 745.8L1841.5 747.8L1841.6 749.8L1841.6 751.7"/><path stroke-width="4.8" d="M1841.6 751.7L1841.7 753.7L1841.7 755.6L1841.8 757.5L1841.8 759.5"/><path stroke-width="4.8" d="M1841.8 759.5L1841.9 761.4L1841.9 763.3L1842 765.2L1842 767.2"/><path stroke-width="4.8" d="M1842 767.2L1842.1 769.1L1842.1 771L1842.2 772.9L1842.2 774.8"/><path stroke-width="4.8" d="M1842.2 774.8L1842.3 776.7L1842.3 778.6L1842.4 780.5L1842.4 782.4"/><path stroke-width="4.8" d="M1842.4 782.4L1842.5 784.3L1842.6 786.2L1842.6 788.2L1842.7 790.1"/><path stroke-width="4.8" d="M1842.7 790.1L1842.7 792L1842.8 794L1842.8 795.9L1842.9 797.9"/><path stroke-width="4.8" d="M1842.9 797.9L1842.9 799.8L1843 801.8L1843 803.8L1843.1 805.7"/><path stroke-width="4.8" d="M1843.1 805.7L1843.2 807.7L1843.2 809.8L1843.3 811.8L1843.3 813.8"/><path stroke-width="4.8" d="M1843.3 813.8L1843.4 815.9L1843.4 817.9L1843.5 820L1843.6 821.9"/><path stroke-width="4.8" d="M1843.6 821.8L1843.6 823.7L1843.7 825.6L1843.7 827.5L1843.8 829.4"/><path stroke-width="4.8" d="M1843.8 829.4L1843.8 831.3L1843.9 833.3L1843.9 835.2L1844 837.2"/><path stroke-width="4.8" d="M1844 837.2L1844 839.1L1844.1 841.1L1844.1 843.1L1844.2 845.1"/><path stroke-width="4.8" d="M1844.2 845.1L1844.2 847.1L1844.3 849.1L1844.4 851.1L1844.4 853.1"/><path stroke-width="4.8" d="M1844.4 853.1L1844.5 855.2L1844.5 857.2L1844.6 859.2L1844.6 861.3"/><path stroke-width="4.8" d="M1844.6 861.3L1844.7 863.3L1844.7 865.3L1844.8 867.4L1844.8 869.4"/><path stroke-width="4.8" d="M1844.8 869.4L1844.9 871.5L1845 873.5L1845 875.6L1845.1 877.6"/><path stroke-width="4.8" d="M1845.1 877.6L1845.1 879.6L1845.2 881.7L1845.2 883.7L1845.3 885.7"/><path stroke-width="4.8" d="M1845.3 885.7L1845.4 887.7L1845.4 889.7L1845.5 891.7L1845.5 893.7"/><path stroke-width="4.8" d="M1845.5 893.7L1845.6 895.7L1845.7 897.7L1845.7 899.7L1845.8 901.6"/><path stroke-width="4.8" d="M1845.8 901.6L1845.8 903.6L1845.9 905.5L1846 907.4L1846 909.3"/><path stroke-width="4.8" d="M1846 909.3L1846.1 911.2L1846.1 913.1L1846.2 915L1846.3 917.1"/><path stroke-width="4.8" d="M1846.3 917.1L1846.3 919.2L1846.4 921.2L1846.5 923.3L1846.6 925.3"/><path stroke-width="4.8" d="M1846.6 925.3L1846.6 927.3L1846.7 929.4L1846.8 931.4L1846.8 933.4"/><path stroke-width="4.8" d="M1846.8 933.4L1846.9 935.4L1847 937.4L1847.1 939.3L1847.1 941.3"/><path stroke-width="4.8" d="M1847.1 941.3L1847.2 943.3L1847.3 945.2L1847.4 947.2L1847.4 949.2"/><path stroke-width="4.8" d="M1847.4 949.2L1847.5 951.1L1847.6 953.1L1847.7 955L1847.7 956.9"/><path stroke-width="4.8" d="M1847.7 956.9L1847.8 958.9L1847.9 960.8L1848 962.8L1848 964.7"/><path stroke-width="4.8" d="M1848 964.7L1848.1 966.6L1848.2 968.5L1848.3 970.5L1848.3 972.4"/><path stroke-width="4.8" d="M1848.3 972.4L1848.4 974.4L1848.5 976.3L1848.6 978.2L1848.6 980.2"/><path stroke-width="4.8" d="M1848.6 980.2L1848.7 982.2L1848.8 984.1L1848.9 986.1L1848.9 988"/><path stroke-width="4.8" d="M1848.9 988L1849 990L1849.1 992L1849.1 994L1849.2 995.9"/><path stroke-width="4.8" d="M1849.2 996L1849.3 998L1849.3 1000L1849.4 1002L1849.5 1004"/><path stroke-width="4.8" d="M1849.5 1004L1849.6 1006L1849.6 1008L1849.7 1010L1849.8 1012.1"/><path stroke-width="4.8" d="M1849.8 1012.1L1849.8 1014.1L1849.9 1016.1L1850 1018.1L1850 1020.2"/><path stroke-width="4.8" d="M1850 1020.2L1850.1 1022.2L1850.2 1024.2L1850.3 1026.2L1850.3 1028.2"/><path stroke-width="4.8" d="M1850.3 1028.2L1850.4 1030.2L1850.5 1032.2L1850.5 1034.2L1850.6 1036.2"/><path stroke-width="4.8" d="M1850.6 1036.2L1850.7 1038.2L1850.7 1040.2L1850.8 1042.2L1850.8 1044.1"/><path stroke-width="4.8" d="M1850.8 1044.1L1850.9 1046.1L1851 1048L1851 1050L1851.1 1051.9"/><path stroke-width="4.8" d="M1851.1 1051.9L1851.2 1053.8L1851.2 1055.7L1851.3 1057.6L1851.3 1059.5"/><path stroke-width="4.8" d="M1851.3 1059.5L1851.4 1061.3L1851.4 1063.2L1851.5 1065L1851.6 1067.1"/><path stroke-width="4.8" d="M1851.6 1067.1L1851.6 1069.2L1851.7 1071.3L1851.7 1073.4L1851.8 1075.5"/><path stroke-width="4.8" d="M1851.8 1075.5L1851.9 1077.5L1851.9 1079.6L1852 1081.6L1852 1083.6"/><path stroke-width="4.8" d="M1852 1083.6L1852.1 1085.6L1852.1 1087.6L1852.2 1089.6L1852.2 1091.6"/><path stroke-width="4.8" d="M1852.2 1091.6L1852.3 1093.6L1852.3 1095.5L1852.4 1097.5L1852.4 1099.4"/><path stroke-width="4.8" d="M1852.4 1099.4L1852.5 1101.4L1852.5 1103.3L1852.6 1105.2L1852.6 1107.1"/><path stroke-width="4.8" d="M1852.6 1107.1L1852.7 1108.9L1852.7 1110.8L1852.8 1112.7L1852.8 1114.5"/><path stroke-width="4.8" d="M1852.8 1114.5L1852.9 1116.4L1852.9 1118.2L1853 1120L1853.1 1122"/><path stroke-width="4.8" d="M1853.1 1122L1853.1 1124.1L1853.2 1126L1853.3 1128L1853.3 1129.9"/><path stroke-width="4.8" d="M1853.3 1129.9L1853.4 1131.8L1853.5 1133.8L1853.5 1135.6L1853.6 1137.5"/><path stroke-width="4.8" d="M1853.6 1137.5L1853.7 1139.4L1853.7 1141.2L1853.8 1143.1L1853.9 1144.9"/><path stroke-width="4.8" d="M1853.9 1144.9L1854 1146.8L1854 1148.6L1854.1 1150.5L1854.2 1152.4"/><path stroke-width="4.8" d="M1854.2 1152.4L1854.3 1154.3L1854.3 1156.2L1854.4 1158.1L1854.5 1160"/><path stroke-width="4.8" d="M1854.5 1160L1854.6 1161.9L1854.7 1163.9L1854.7 1165.8L1854.8 1167.7"/><path stroke-width="4.8" d="M1854.8 1167.7L1854.9 1169.7L1855 1171.6L1855.1 1173.6L1855.2 1175.5"/><path stroke-width="4.8" d="M1855.2 1175.5L1855.3 1177.5L1855.3 1179.5L1855.4 1181.4L1855.5 1183.4"/><path stroke-width="4.8" d="M1855.5 1183.4L1855.6 1185.4L1855.7 1187.4L1855.8 1189.3L1855.9 1191.3"/><path stroke-width="4.8" d="M1855.9 1191.3L1856 1193.3L1856.1 1195.3L1856.2 1197.3L1856.3 1199.3"/><path stroke-width="4.8" d="M1856.3 1199.3L1856.4 1201.3L1856.5 1203.3L1856.6 1205.2L1856.7 1207.2"/><path stroke-width="4.8" d="M1856.7 1207.2L1856.8 1209.1L1856.9 1211.1L1857 1213L1857.1 1215"/><path stroke-width="4.8" d="M1857.1 1215L1857.2 1217L1857.3 1219L1857.4 1221L1857.5 1223"/><path stroke-width="4.8" d="M1857.5 1223L1857.6 1225L1857.8 1227L1857.9 1228.9L1858 1230.9"/><path stroke-width="4.8" d="M1858 1230.9L1858.1 1232.9L1858.2 1234.9L1858.4 1236.9L1858.5 1238.8"/><path stroke-width="4.8" d="M1858.5 1238.8L1858.6 1240.7L1858.7 1242.7L1858.9 1244.6L1859 1246.5"/><path stroke-width="4.9" d="M1859 1246.5L1859.2 1248.3L1859.3 1250.2L1859.5 1252.3L1859.7 1254.4"/><path stroke-width="4.8" d="M1859.7 1254.4L1859.8 1256.5L1860 1258.5L1860.2 1260.6L1860.4 1262.7"/><path stroke-width="4.9" d="M1860.4 1262.7L1860.6 1264.7L1860.8 1266.8L1861 1268.8L1861.3 1270.8"/><path stroke-width="4.9" d="M1861.3 1270.8L1861.5 1272.7L1861.7 1274.7L1861.9 1276.7L1862.1 1278.6"/><path stroke-width="4.9" d="M1862.1 1278.6L1862.3 1280.5L1862.5 1282.4L1862.7 1284.2L1862.9 1286"/><path stroke-width="4.9" d="M1862.9 1286L1863.1 1287.8L1863.3 1289.9L1863.5 1291.9L1863.8 1294"/><path stroke-width="4.9" d="M1863.8 1294L1864 1296L1864.2 1298L1864.4 1300L1864.6 1301.9"/><path stroke-width="4.9" d="M1864.6 1301.9L1864.8 1303.8L1865 1305.5L1865.3 1307.3L1865.5 1309"/><path stroke-width="4.9" d="M1865.5 1309L1865.7 1310.6L1865.9 1312.2L1866.2 1314.6L1866.5 1317.1"/><path stroke-width="4.9" d="M1866.5 1317.1L1866.9 1319.5L1867.2 1321.5L1867.5 1322.9L1867.8 1323.4"/><path stroke-width="4.9" d="M1867.8 1323.4L1868 1323L1868.2 1321.8L1868.3 1320.1L1868.4 1317.9"/><path stroke-width="4.9" d="M1868.4 1317.9L1868.6 1315.5L1868.8 1313L1869 1310.5L1869.2 1308.3"/><path stroke-width="5.0" d="M1869.2 1308.3L1869.6 1306.5L1870.1 1304.8L1870.7 1303.2L1871.4 1301.8"/><path stroke-width="5.0" d="M1871.4 1301.8L1872.1 1300.4L1872.8 1298.8L1873.4 1297.1L1873.8 1295.5"/><path stroke-width="4.9" d="M1873.8 1295.5L1874.3 1293.9L1874.7 1292.2L1875 1290.4L1875.4 1288.6"/><path stroke-width="4.9" d="M1875.4 1288.6L1875.8 1286.7L1876.1 1284.7L1876.4 1282.7L1876.8 1280.6"/><path stroke-width="4.9" d="M1876.8 1280.6L1877.1 1278.4L1877.3 1276.7L1877.6 1275L1877.8 1273.2"/><path stroke-width="4.9" d="M1877.8 1273.3L1878 1271.4L1878.2 1269.5L1878.5 1267.7L1878.7 1265.7"/><path stroke-width="4.8" d="M1878.7 1265.7L1878.9 1263.7L1879.1 1261.7L1879.3 1259.7L1879.5 1257.6"/><path stroke-width="4.8" d="M1879.5 1257.6L1879.7 1255.5L1879.8 1253.4L1880 1251.3L1880.2 1249.2"/><path stroke-width="4.9" d="M1880.2 1249.2L1880.4 1247.1L1880.6 1245L1880.7 1242.9L1880.9 1240.8"/><path stroke-width="4.9" d="M1880.9 1240.8L1881 1238.9L1881.2 1237.1L1881.3 1235.2L1881.5 1233.3"/><path stroke-width="4.8" d="M1881.5 1233.3L1881.6 1231.4L1881.7 1229.4L1881.9 1227.5L1882 1225.6"/><path stroke-width="4.8" d="M1882 1225.6L1882.1 1223.6L1882.2 1221.6L1882.3 1219.7L1882.5 1217.7"/><path stroke-width="4.8" d="M1882.5 1217.7L1882.6 1215.7L1882.7 1213.7L1882.8 1211.7L1882.9 1209.7"/><path stroke-width="4.8" d="M1882.9 1209.7L1883 1207.7L1883.1 1205.8L1883.2 1203.8L1883.3 1201.8"/><path stroke-width="4.8" d="M1883.3 1201.8L1883.4 1199.8L1883.5 1197.8L1883.6 1195.9L1883.7 1193.9"/><path stroke-width="4.8" d="M1883.7 1193.9L1883.8 1191.9L1883.9 1190L1884 1188L1884.1 1186.1"/><path stroke-width="4.8" d="M1884.1 1186.1L1884.2 1184.1L1884.3 1182.2L1884.3 1180.2L1884.4 1178.2"/><path stroke-width="4.8" d="M1884.4 1178.2L1884.5 1176.3L1884.6 1174.3L1884.7 1172.4L1884.7 1170.4"/><path stroke-width="4.8" d="M1884.7 1170.4L1884.8 1168.4L1884.9 1166.5L1885 1164.5L1885 1162.6"/><path stroke-width="4.8" d="M1885 1162.6L1885.1 1160.6L1885.2 1158.6L1885.3 1156.7L1885.3 1154.7"/><path stroke-width="4.8" d="M1885.3 1154.7L1885.4 1152.8L1885.5 1150.8L1885.5 1148.9L1885.6 1146.9"/><path stroke-width="4.8" d="M1885.6 1146.9L1885.7 1145L1885.7 1143L1885.8 1141.1L1885.9 1139.2"/><path stroke-width="4.8" d="M1885.9 1139.2L1885.9 1137.3L1886 1135.4L1886.1 1133.5L1886.1 1131.6"/><path stroke-width="4.8" d="M1886.1 1131.6L1886.2 1129.7L1886.2 1127.9L1886.3 1126L1886.3 1124.1"/><path stroke-width="4.8" d="M1886.3 1124.1L1886.4 1122.2L1886.5 1120.3L1886.5 1118.3L1886.6 1116.4"/><path stroke-width="4.8" d="M1886.6 1116.4L1886.6 1114.4L1886.7 1112.4L1886.7 1110.4L1886.8 1108.4"/><path stroke-width="4.8" d="M1886.8 1108.4L1886.8 1106.3L1886.9 1104.3L1886.9 1102.1L1887 1100"/><path stroke-width="4.8" d="M1887 1100L1887 1098.2L1887.1 1096.5L1887.1 1094.7L1887.2 1092.8"/><path stroke-width="4.8" d="M1887.2 1092.8L1887.2 1091L1887.2 1089.1L1887.3 1087.2L1887.3 1085.3"/><path stroke-width="4.8" d="M1887.3 1085.3L1887.4 1083.3L1887.4 1081.4L1887.4 1079.4L1887.5 1077.4"/><path stroke-width="4.8" d="M1887.5 1077.4L1887.5 1075.5L1887.5 1073.5L1887.6 1071.5L1887.6 1069.4"/><path stroke-width="4.8" d="M1887.6 1069.4L1887.6 1067.4L1887.7 1065.4L1887.7 1063.4L1887.8 1061.3"/><path stroke-width="4.8" d="M1887.8 1061.3L1887.8 1059.3L1887.8 1057.3L1887.9 1055.2L1887.9 1053.2"/><path stroke-width="4.8" d="M1887.9 1053.2L1887.9 1051.2L1888 1049.2L1888 1047.1L1888 1045.2"/><path stroke-width="4.8" d="M1888 1045.1L1888.1 1043.2L1888.1 1041.2L1888.2 1039.2L1888.2 1037.3"/><path stroke-width="4.8" d="M1888.2 1037.3L1888.2 1035.3L1888.3 1033.4L1888.3 1031.5L1888.4 1029.7"/><path stroke-width="4.8" d="M1888.4 1029.7L1888.4 1027.8L1888.5 1025.7L1888.5 1023.6L1888.6 1021.5"/><path stroke-width="4.8" d="M1888.6 1021.5L1888.6 1019.5L1888.7 1017.4L1888.7 1015.4L1888.8 1013.4"/><path stroke-width="4.8" d="M1888.8 1013.4L1888.8 1011.4L1888.9 1009.3L1889 1007.3L1889 1005.3"/><path stroke-width="4.8" d="M1889 1005.3L1889.1 1003.4L1889.1 1001.4L1889.2 999.4L1889.2 997.4"/><path stroke-width="4.8" d="M1889.2 997.4L1889.3 995.5L1889.4 993.5L1889.4 991.5L1889.5 989.6"/><path stroke-width="4.8" d="M1889.5 989.6L1889.5 987.6L1889.6 985.7L1889.6 983.7L1889.7 981.8"/><path stroke-width="4.8" d="M1889.7 981.8L1889.8 979.8L1889.8 977.8L1889.9 975.9L1889.9 973.9"/><path stroke-width="4.8" d="M1889.9 973.9L1890 972L1890 970L1890 968L1890.1 966"/><path stroke-width="4.8" d="M1890.1 966L1890.1 964.1L1890.2 962.1L1890.2 960.2L1890.3 958.2"/><path stroke-width="4.8" d="M1890.3 958.2L1890.3 956.3L1890.3 954.3L1890.4 952.4L1890.4 950.4"/><path stroke-width="4.8" d="M1890.4 950.4L1890.4 948.5L1890.5 946.6L1890.5 944.6L1890.5 942.7"/><path stroke-width="4.8" d="M1890.5 942.7L1890.6 940.8L1890.6 938.8L1890.6 936.9L1890.7 934.9"/><path stroke-width="4.8" d="M1890.7 934.9L1890.7 933L1890.7 931L1890.8 929L1890.8 927.1"/><path stroke-width="4.8" d="M1890.8 927.1L1890.8 925.1L1890.9 923.1L1890.9 921.1L1890.9 919.1"/><path stroke-width="4.8" d="M1890.9 919.1L1891 917L1891 915L1891 913.1L1891.1 911.2"/><path stroke-width="4.8" d="M1891.1 911.2L1891.1 909.3L1891.1 907.5L1891.2 905.6L1891.2 903.7"/><path stroke-width="4.8" d="M1891.2 903.7L1891.2 901.8L1891.2 899.9L1891.3 898L1891.3 896.1"/><path stroke-width="4.8" d="M1891.3 896.1L1891.3 894.3L1891.4 892.3L1891.4 890.4L1891.4 888.5"/><path stroke-width="4.8" d="M1891.4 888.5L1891.5 886.6L1891.5 884.7L1891.5 882.7L1891.5 880.8"/><path stroke-width="4.8" d="M1891.5 880.8L1891.6 878.8L1891.6 876.9L1891.6 874.9L1891.7 872.9"/><path stroke-width="4.8" d="M1891.7 872.9L1891.7 870.9L1891.7 868.9L1891.7 866.8L1891.8 864.8"/><path stroke-width="4.8" d="M1891.8 864.8L1891.8 862.7L1891.8 860.7L1891.9 858.6L1891.9 856.5"/><path stroke-width="4.8" d="M1891.9 856.5L1891.9 854.3L1892 852.2L1892 850L1892 848.2"/><path stroke-width="4.8" d="M1892 848.2L1892.1 846.5L1892.1 844.7L1892.1 842.9L1892.1 841"/><path stroke-width="4.8" d="M1892.1 841L1892.2 839.2L1892.2 837.4L1892.2 835.5L1892.2 833.6"/><path stroke-width="4.8" d="M1892.2 833.6L1892.3 831.7L1892.3 829.8L1892.3 827.9L1892.4 826"/><path stroke-width="4.8" d="M1892.4 826L1892.4 824L1892.4 822.1L1892.4 820.1L1892.5 818.2"/><path stroke-width="4.8" d="M1892.5 818.2L1892.5 816.2L1892.5 814.2L1892.6 812.2L1892.6 810.3"/><path stroke-width="4.8" d="M1892.6 810.3L1892.6 808.3L1892.7 806.2L1892.7 804.2L1892.7 802.2"/><path stroke-width="4.8" d="M1892.7 802.2L1892.7 800.2L1892.8 798.2L1892.8 796.2L1892.8 794.1"/><path stroke-width="4.8" d="M1892.8 794.1L1892.9 792.1L1892.9 790.1L1892.9 788L1893 786"/><path stroke-width="4.8" d="M1893 786L1893 784L1893 781.9L1893 779.9L1893.1 777.9"/><path stroke-width="4.8" d="M1893.1 777.9L1893.1 775.9L1893.1 773.8L1893.2 771.8L1893.2 769.8"/><path stroke-width="4.8" d="M1893.2 769.8L1893.2 767.8L1893.3 765.8L1893.3 763.8L1893.3 761.8"/><path stroke-width="4.8" d="M1893.3 761.8L1893.4 759.8L1893.4 757.8L1893.4 755.9L1893.4 753.9"/><path stroke-width="4.8" d="M1893.4 753.9L1893.5 751.9L1893.5 750L1893.5 748L1893.6 746"/><path stroke-width="4.8" d="M1893.6 746L1893.6 744.1L1893.6 742.1L1893.7 740.1L1893.7 738.1"/><path stroke-width="4.8" d="M1893.7 738.1L1893.7 736.2L1893.7 734.2L1893.8 732.2L1893.8 730.3"/><path stroke-width="4.8" d="M1893.8 730.3L1893.8 728.3L1893.9 726.3L1893.9 724.4L1893.9 722.4"/><path stroke-width="4.8" d="M1893.9 722.4L1894 720.4L1894 718.5L1894 716.5L1894 714.5"/><path stroke-width="4.8" d="M1894 714.5L1894.1 712.6L1894.1 710.6L1894.1 708.7L1894.2 706.7"/><path stroke-width="4.8" d="M1894.2 706.7L1894.2 704.7L1894.2 702.8L1894.3 700.8L1894.3 698.9"/><path stroke-width="4.8" d="M1894.3 698.9L1894.3 696.9L1894.4 695L1894.4 693L1894.4 691.1"/><path stroke-width="4.8" d="M1894.4 691.1L1894.4 689.1L1894.5 687.2L1894.5 685.2L1894.5 683.2"/><path stroke-width="4.8" d="M1894.5 683.2L1894.6 681.3L1894.6 679.3L1894.6 677.4L1894.7 675.4"/><path stroke-width="4.8" d="M1894.7 675.4L1894.7 673.5L1894.7 671.5L1894.8 669.6L1894.8 667.6"/><path stroke-width="4.8" d="M1894.8 667.6L1894.8 665.7L1894.8 663.7L1894.9 661.8L1894.9 659.8"/><path stroke-width="4.8" d="M1894.9 659.8L1894.9 657.9L1895 656L1895 654L1895 652"/><path stroke-width="4.8" d="M1895 652L1895.1 650.1L1895.1 648.1L1895.1 646.1L1895.2 644.1"/><path stroke-width="4.8" d="M1895.2 644.1L1895.2 642.1L1895.2 640.1L1895.3 638.1L1895.3 636.1"/><path stroke-width="4.8" d="M1895.3 636.1L1895.3 634.1L1895.3 632.1L1895.4 630.1L1895.4 628.1"/><path stroke-width="4.8" d="M1895.4 628.1L1895.4 626.1L1895.5 624.1L1895.5 622.1L1895.5 620.1"/><path stroke-width="4.8" d="M1895.5 620.1L1895.6 618.1L1895.6 616.1L1895.6 614.1L1895.7 612.1"/><path stroke-width="4.8" d="M1895.7 612.1L1895.7 610.1L1895.7 608.2L1895.8 606.2L1895.8 604.2"/><path stroke-width="4.8" d="M1895.8 604.2L1895.8 602.2L1895.9 600.2L1895.9 598.2L1895.9 596.3"/><path stroke-width="4.8" d="M1895.9 596.3L1896 594.3L1896 592.3L1896 590.4L1896.1 588.4"/><path stroke-width="4.8" d="M1896.1 588.4L1896.1 586.5L1896.1 584.5L1896.1 582.6L1896.2 580.7"/><path stroke-width="4.8" d="M1896.2 580.7L1896.2 578.8L1896.2 576.8L1896.3 574.9L1896.3 573"/><path stroke-width="4.8" d="M1896.3 573L1896.3 571.1L1896.4 569.3L1896.4 567.4L1896.4 565.5"/><path stroke-width="4.8" d="M1896.4 565.5L1896.4 563.7L1896.5 561.8L1896.5 560L1896.5 557.9"/><path stroke-width="4.8" d="M1896.5 557.9L1896.6 555.8L1896.6 553.8L1896.6 551.7L1896.7 549.6"/><path stroke-width="4.8" d="M1896.7 549.6L1896.7 547.6L1896.7 545.5L1896.7 543.5L1896.8 541.4"/><path stroke-width="4.8" d="M1896.8 541.4L1896.8 539.4L1896.8 537.4L1896.9 535.4L1896.9 533.3"/><path stroke-width="4.8" d="M1896.9 533.3L1896.9 531.3L1896.9 529.3L1897 527.3L1897 525.4"/><path stroke-width="4.8" d="M1897 525.4L1897 523.4L1897.1 521.4L1897.1 519.5L1897.1 517.5"/><path stroke-width="4.8" d="M1897.1 517.5L1897.1 515.6L1897.2 513.6L1897.2 511.7L1897.2 509.8"/><path stroke-width="4.8" d="M1897.2 509.8L1897.3 507.9L1897.3 506L1897.3 504.1L1897.3 502.3"/><path stroke-width="4.8" d="M1897.3 502.3L1897.4 500.4L1897.4 498.6L1897.4 496.8L1897.5 494.9"/><path stroke-width="4.8" d="M1897.5 494.9L1897.5 493.1L1897.5 491.3L1897.6 489.6L1897.6 487.8"/><path stroke-width="4.8" d="M1897.6 487.8L1897.6 485.7L1897.7 483.6L1897.7 481.5L1897.8 479.5"/><path stroke-width="4.8" d="M1897.8 479.5L1897.8 477.5L1897.9 475.5L1897.9 473.5L1898 471.6"/><path stroke-width="4.8" d="M1898 471.6L1898 469.6L1898.1 467.7L1898.1 465.8L1898.2 463.9"/><path stroke-width="4.8" d="M1898.2 463.9L1898.2 462L1898.3 460.1L1898.3 458.2L1898.4 456.4"/><path stroke-width="4.8" d="M1898.4 456.4L1898.4 454.5L1898.4 452.6L1898.5 450.8L1898.5 448.9"/><path stroke-width="4.8" d="M1898.5 448.9L1898.6 447L1898.6 445.2L1898.7 443.3L1898.7 441.4"/><path stroke-width="4.8" d="M1898.7 441.4L1898.8 439.5L1898.8 437.5L1898.8 435.5L1898.9 433.5"/><path stroke-width="4.8" d="M1898.9 433.5L1898.9 431.6L1898.9 429.6L1899 427.6L1899 425.7"/><path stroke-width="4.8" d="M1899 425.7L1899 423.7L1899.1 421.8L1899.1 419.8L1899.1 417.9"/><path stroke-width="4.8" d="M1899.1 417.9L1899.2 415.9L1899.2 414L1899.2 412L1899.2 410.1"/><path stroke-width="4.8" d="M1899.2 410.1L1899.3 408.1L1899.3 406.1L1899.3 404.1L1899.4 402.1"/><path stroke-width="4.8" d="M1899.4 402.1L1899.4 400.1L1899.4 398.1L1899.5 396.1L1899.5 394"/><path stroke-width="4.8" d="M1899.5 394L1899.5 392.2L1899.6 390.3L1899.6 388.5L1899.6 386.6"/><path stroke-width="4.8" d="M1899.6 386.6L1899.7 384.8L1899.7 382.9L1899.7 381L1899.8 379.2"/><path stroke-width="4.8" d="M1899.8 379.2L1899.8 377.3L1899.8 375.4L1899.8 373.5L1899.9 371.6"/><path stroke-width="4.8" d="M1899.9 371.6L1899.9 369.7L1899.9 367.8L1900 365.9L1900 364"/><path stroke-width="4.8" d="M1900 364L1900.1 362.1L1900.1 360.1L1900.1 358.2L1900.2 356.2"/><path stroke-width="4.8" d="M1900.2 356.2L1900.2 354.2L1900.2 352.2L1900.3 350.2L1900.3 348.2"/><path stroke-width="4.8" d="M1900.3 348.2L1900.4 346.2L1900.4 344.1L1900.5 342.1L1900.5 340"/><path stroke-width="4.8" d="M1900.5 340L1900.5 338.2L1900.6 336.3L1900.6 334.5L1900.7 332.6"/><path stroke-width="4.8" d="M1900.7 332.6L1900.7 330.7L1900.8 328.8L1900.8 326.9L1900.9 325"/><path stroke-width="4.8" d="M1900.9 325L1900.9 323.1L1901 321.1L1901 319.2L1901 317.2"/><path stroke-width="4.8" d="M1901 317.2L1901.1 315.2L1901.2 313.3L1901.2 311.3L1901.3 309.3"/><path stroke-width="4.8" d="M1901.3 309.3L1901.3 307.3L1901.4 305.3L1901.4 303.3L1901.5 301.3"/><path stroke-width="4.8" d="M1901.5 301.3L1901.5 299.2L1901.6 297.2L1901.6 295.2L1901.7 293.2"/><path stroke-width="4.8" d="M1901.7 293.2L1901.7 291.1L1901.8 289.1L1901.9 287.1L1901.9 285.1"/><path stroke-width="4.8" d="M1901.9 285.1L1902 283L1902 281L1902.1 279L1902.1 277"/><path stroke-width="4.8" d="M1902.1 277L1902.2 275L1902.3 273L1902.3 271L1902.4 269"/><path stroke-width="4.8" d="M1902.4 269L1902.4 267L1902.5 265L1902.6 263L1902.6 261"/><path stroke-width="4.8" d="M1902.6 261.1L1902.7 259.1L1902.7 257.1L1902.8 255.1L1902.9 253.2"/><path stroke-width="4.8" d="M1902.9 253.2L1902.9 251.2L1903 249.2L1903 247.2L1903.1 245.3"/><path stroke-width="4.8" d="M1903.1 245.3L1903.1 243.3L1903.2 241.3L1903.3 239.3L1903.3 237.4"/><path stroke-width="4.8" d="M1903.3 237.4L1903.4 235.4L1903.5 233.4L1903.5 231.4L1903.6 229.5"/><path stroke-width="4.8" d="M1903.6 229.5L1903.6 227.5L1903.7 225.5L1903.8 223.6L1903.8 221.6"/><path stroke-width="4.8" d="M1903.8 221.6L1903.9 219.6L1904 217.6L1904 215.7L1904.1 213.7"/><path stroke-width="4.8" d="M1904.1 213.7L1904.2 211.7L1904.2 209.7L1904.3 207.8L1904.4 205.8"/><path stroke-width="4.8" d="M1904.4 205.8L1904.5 203.8L1904.5 201.8L1904.6 199.9L1904.7 197.9"/><path stroke-width="4.8" d="M1904.7 197.9L1904.8 195.9L1904.8 193.9L1904.9 192L1905 190"/><path stroke-width="4.8" d="M1905 190L1905.1 188L1905.2 186L1905.2 184L1905.3 182"/><path stroke-width="4.8" d="M1905.3 182L1905.4 180L1905.5 177.9L1905.6 175.9L1905.7 173.8"/><path stroke-width="4.8" d="M1905.7 173.8L1905.8 171.8L1905.8 169.7L1905.9 167.6L1906 165.6"/><path stroke-width="4.8" d="M1906 165.6L1906.1 163.5L1906.2 161.4L1906.3 159.3L1906.4 157.3"/><path stroke-width="4.8" d="M1906.4 157.3L1906.5 155.2L1906.6 153.1L1906.7 151.1L1906.8 149.1"/><path stroke-width="4.8" d="M1906.8 149.1L1906.8 147L1906.9 145L1907 143L1907.1 141"/><path stroke-width="4.8" d="M1907.1 141L1907.3 139L1907.4 137L1907.5 135.1L1907.6 133.1"/><path stroke-width="4.8" d="M1907.6 133.1L1907.7 131.2L1907.8 129.3L1907.9 127.5L1908 125.6"/><path stroke-width="4.8" d="M1908 125.6L1908.1 123.8L1908.3 122L1908.4 120.2L1908.5 118.4"/><path stroke-width="4.8" d="M1908.5 118.4L1908.6 116.7L1908.8 115L1908.9 112.7L1909.1 110.3"/><path stroke-width="4.9" d="M1909.1 110.3L1909.4 107.7L1909.6 105.2L1909.9 102.5L1910.1 99.9"/><path stroke-width="4.9" d="M1910.1 99.9L1910.4 97.3L1910.7 94.7L1910.9 92.1L1911.2 89.7"/><path stroke-width="4.9" d="M1911.2 89.6L1911.5 87.3L1911.7 85L1911.9 82.9L1912.2 80.9"/><path stroke-width="4.9" d="M1912.2 80.9L1912.4 79.2L1912.5 77.6L1912.7 76.3L1912.8 75.2"/><path stroke-width="4.9" d="M1912.8 75.2L1912.9 74.4L1913 73.9L1913 73.7"/></g>
<rect x="913" y="729.5" width="709" height="641" fill="#fff"/>
<g stroke="#808080" stroke-width="10" fill="none" stroke-dasharray="10 10.5">
<path d="M913.75 724.25H1622"/>
<path d="M910.5 730.5V1380"/>
<path d="M1618.75 736.25V1380"/>
<path d="M917.5 1375.5H1625"/>
</g>
<rect x="967.5" y="747.5" width="609.5" height="578.75" fill="none" stroke="#6a6a6a" stroke-width="4"/>
<g stroke="#555" stroke-width="3" fill="none">
<line x1="1034.2" y1="1315" x2="1034.2" y2="1326"/>
<line x1="1169.7" y1="1315" x2="1169.7" y2="1326"/>
<line x1="1305.2" y1="1315" x2="1305.2" y2="1326"/>
<line x1="1440.6" y1="1315" x2="1440.6" y2="1326"/>
<line x1="1102.0" y1="1320" x2="1102.0" y2="1326"/>
<line x1="1237.4" y1="1320" x2="1237.4" y2="1326"/>
<line x1="1372.9" y1="1320" x2="1372.9" y2="1326"/>
<line x1="1508.3" y1="1320" x2="1508.3" y2="1326"/>
<line x1="968" y1="1197.2" x2="980" y2="1197.2"/>
<line x1="968" y1="1068.2" x2="980" y2="1068.2"/>
<line x1="968" y1="939.2" x2="980" y2="939.2"/>
<line x1="968" y1="810.2" x2="980" y2="810.2"/>
<line x1="968" y1="1261.8" x2="974" y2="1261.8"/>
<line x1="968" y1="1132.8" x2="974" y2="1132.8"/>
<line x1="968" y1="1003.8" x2="974" y2="1003.8"/>
<line x1="968" y1="874.8" x2="974" y2="874.8"/>
</g>
<g fill="none" stroke-linejoin="round" stroke-width="3">
<path stroke="#ff2020" d="M968.8 794.5L970 794.1L973 793.1L976.7 792.3L980 792L982.6 792.7L985 794.1L987.5 795.5L990 796.2L992.5 796.1L995 795.3L997.5 794.6L1000 794.5L1002.5 795.3L1005 796.7L1007.5 798.4L1010 800L1012.5 801.5L1015 803.2L1017.5 804.8L1020 806.2L1022.5 807.4L1025.1 808.5L1027.6 809.6L1030 811.2L1031.8 813.1L1033.5 815.4L1035 817.9L1036.6 820.5L1038.3 822.9L1040 825L1041.9 826.7L1044 828L1046.1 829.3L1048.1 830.7L1050 832.5L1051.6 834.6L1053 837.1L1054.3 839.8L1055.7 842.7L1057 845.4L1058.4 847.9L1060 850L1061.9 851.8L1063.9 853.3L1066 854.6L1068 855.9L1070 857.5L1072.1 859.5L1074.1 861.8L1076.1 864.1L1078 866.2L1080 868L1082.6 869.6L1085.1 870.8L1087.5 872.5L1089.1 874.6L1090.6 877.3L1092 880.1L1093.4 882.8L1095 885L1096.8 886.4L1098.7 887.5L1100.6 888.5L1102.5 890L1104 891.8L1105.4 894L1106.8 896.4L1108.2 899L1109.6 901.6L1111 904L1112.5 906.2L1114.1 908.3L1115.8 910.2L1117.6 912.1L1119.3 913.9L1120.9 915.7L1122.5 917.5L1124.1 919.6L1125.6 921.7L1127 923.7L1128.5 925.7L1130 927.5L1131.9 929.1L1133.8 930.5L1135.7 931.9L1137.5 933.8L1138.9 935.9L1140.3 938.4L1141.5 941.1L1142.7 944L1143.8 947L1145 950L1146 952.6L1147 955.3L1147.9 958.1L1148.8 960.9L1149.8 963.8L1150.7 966.7L1151.6 969.6L1152.5 972.5L1153.4 975.2L1154.2 977.9L1155.1 980.7L1156 983.4L1156.9 986.2L1157.7 989L1158.5 991.8L1159.3 994.6L1160 997.5L1160.6 1000.2L1161.2 1002.9L1161.7 1005.6L1162.2 1008.4L1162.7 1011.1L1163.1 1013.9L1163.6 1016.7L1164 1019.5L1164.5 1022.2L1165 1025L1165.5 1027.7L1166 1030.5L1166.4 1033.2L1166.9 1036L1167.4 1038.7L1167.9 1041.4L1168.3 1044.2L1168.9 1046.9L1169.4 1049.7L1170 1052.5L1170.6 1055.2L1171.2 1057.9L1171.8 1060.7L1172.5 1063.5L1173.2 1066.3L1173.9 1069.1L1174.6 1071.9L1175.3 1074.6L1176 1077.3L1176.8 1079.9L1177.5 1082.5L1178.4 1085.5L1179.2 1088.4L1180.1 1091.3L1181 1094.1L1181.9 1096.9L1182.9 1099.6L1183.9 1102.3L1185 1105L1186.1 1107.6L1187.3 1110.2L1188.5 1112.7L1189.8 1115.2L1191.1 1117.7L1192.4 1120.2L1193.7 1122.6L1195 1125L1196.4 1127.6L1197.8 1130.1L1199.3 1132.7L1200.7 1135.1L1202.2 1137.6L1203.6 1140.1L1205 1142.5L1206.4 1145.4L1207.8 1148.4L1209.1 1151.5L1210.5 1154.3L1212 1156.5L1213.8 1158L1216.5 1158.2L1219.6 1157.5L1222.5 1157.5L1224.6 1158.9L1226.5 1161.1L1228.4 1163.7L1230.4 1166.2L1232.5 1168L1235 1169.1L1237.6 1169.7L1240.1 1170.3L1242.5 1171.2L1244.5 1172.7L1246.3 1174.3L1248 1176L1250 1177.5L1252.4 1178.5L1255 1179.2L1257.6 1179.9L1260 1181.2L1261.8 1183.1L1263.4 1185.5L1265 1188.2L1266.5 1190.9L1268.2 1193.2L1270 1195L1272.4 1196.1L1275 1196.5L1277.6 1196.9L1280 1198L1281.6 1199.6L1283.1 1201.6L1284.5 1204L1285.8 1206.6L1287.1 1209.2L1288.5 1211.6L1290 1213.8L1291.9 1215.9L1293.9 1217.9L1296 1219.7L1298 1221.7L1300 1224L1301.6 1226.1L1303.1 1228.4L1304.7 1230.8L1306.3 1233.3L1307.8 1235.8L1309.4 1238.4L1310.9 1241L1312.5 1243.5L1313.9 1245.8L1315.3 1248.2L1316.7 1250.6L1318 1253L1319.4 1255.4L1320.8 1257.7L1322.2 1259.9L1323.6 1262L1325 1264L1326.7 1266.4L1328.5 1268.9L1330.3 1271.3L1332.1 1273.3L1333.9 1274.6L1335.5 1275L1337 1274.2L1338.5 1272.3L1339.8 1269.7L1341.2 1266.7L1342.5 1263.4L1343.8 1260.3L1345 1257.5L1346.3 1254.4L1347.5 1250.9L1348.7 1247.4L1349.9 1244.4L1351.2 1242.2L1352.5 1241.2L1353.9 1241.9L1355.4 1243.7L1356.9 1246.3L1358.5 1249L1360 1251.2L1361.9 1253.4L1363.8 1255.4L1365.7 1257.5L1367.5 1260L1368.6 1262.1L1369.5 1264.6L1370.4 1267.2L1371.2 1270L1372.1 1272.8L1373 1275.4L1373.9 1277.9L1375 1280L1376.7 1282.6L1378.4 1284.8L1380.3 1286.8L1382.5 1288.8L1384.7 1290.6L1387.2 1292.4L1389.8 1294.1L1392.5 1295.5L1395 1296.2L1397.6 1296.2L1400.1 1295.6L1402.6 1294.8L1405 1294.5L1407.7 1295.2L1410.2 1296.3L1412.5 1296.2L1414 1294.7L1415.2 1292.1L1416.3 1288.9L1417.4 1285.5L1418.6 1282.3L1420 1280L1421.8 1278.5L1423.7 1277.5L1425.7 1276.5L1427.5 1275L1428.9 1273L1430.2 1270.7L1431.4 1268.1L1432.6 1265.3L1433.8 1262.6L1435 1260L1436.3 1257.5L1437.6 1254.9L1438.8 1252.3L1440.1 1249.8L1441.3 1247.3L1442.5 1245L1443.8 1242.5L1445.1 1240.3L1446.3 1237.9L1447.5 1235L1448.2 1232.9L1448.9 1230.6L1449.6 1228.1L1450.3 1225.4L1451 1222.6L1451.7 1219.7L1452.4 1216.8L1453 1213.8L1453.7 1210.8L1454.3 1207.9L1455 1205L1455.6 1202.2L1456.3 1199.4L1456.9 1196.6L1457.6 1193.8L1458.2 1191L1458.9 1188.2L1459.5 1185.3L1460.1 1182.4L1460.7 1179.4L1461.3 1176.3L1461.9 1173.2L1462.5 1170L1462.9 1167.4L1463.4 1164.7L1463.8 1162L1464.2 1159.2L1464.7 1156.3L1465.1 1153.4L1465.5 1150.4L1465.9 1147.5L1466.3 1144.5L1466.7 1141.4L1467.1 1138.4L1467.5 1135.4L1467.9 1132.4L1468.2 1129.4L1468.6 1126.4L1469 1123.5L1469.3 1120.6L1469.7 1117.8L1470 1115L1470.4 1112.1L1470.7 1109.2L1471 1106.3L1471.4 1103.4L1471.7 1100.6L1472 1097.8L1472.3 1095L1472.6 1092.2L1472.9 1089.4L1473.2 1086.7L1473.5 1083.9L1473.8 1081.1L1474.1 1078.4L1474.4 1075.6L1474.7 1072.8L1475 1070L1475.3 1067.2L1475.6 1064.4L1475.9 1061.6L1476.3 1058.8L1476.6 1056L1476.9 1053.2L1477.2 1050.4L1477.5 1047.6L1477.8 1044.9L1478.1 1042.1L1478.5 1039.2L1478.8 1036.4L1479.1 1033.6L1479.4 1030.7L1479.7 1027.9L1480 1025L1480.3 1022.1L1480.6 1019.2L1480.9 1016.2L1481.2 1013.2L1481.5 1010.2L1481.7 1007.1L1482 1004.1L1482.3 1001L1482.6 998L1482.9 994.9L1483.1 992L1483.4 989L1483.7 986.1L1484 983.2L1484.4 980.4L1484.7 977.7L1485 975L1485.4 971.7L1485.8 968.4L1486.1 965.2L1486.4 962L1486.8 958.8L1487.2 955.8L1487.6 952.8L1488.1 950L1488.6 947.3L1489.3 944.8L1490 942.5L1491.2 939.3L1492.6 936.4L1494.2 933.7L1495.8 931.6L1497.5 930L1499.6 929.3L1501.8 929.3L1503.8 928.8L1505.6 926.5L1507.3 923.8L1508.8 922.5L1510.1 923.7L1511.4 926.5L1512.5 930L1513.1 932.1L1513.6 934.5L1514.1 937.2L1514.5 940.1L1515 943.3L1515.4 946.5L1515.8 949.8L1516.2 953.1L1516.6 956.4L1517 959.5L1517.5 962.5L1517.9 965.3L1518.4 968.2L1518.8 971.1L1519.2 974.1L1519.6 977L1520 979.8L1520.5 982.6L1520.9 985.3L1521.4 987.9L1521.9 990.3L1522.5 992.5L1523.4 995.3L1524.4 997.7L1525.4 1000L1526.5 1002.3L1527.5 1005L1528.3 1007.4L1529.2 1010L1530 1012.7L1530.9 1015.5L1531.8 1018.4L1532.7 1021.4L1533.5 1024.3L1534.3 1027.2L1535 1030L1535.6 1032.9L1536.1 1036.1L1536.5 1039.4L1537 1042.8L1537.4 1046L1537.8 1048.9L1538.4 1051.3L1539.1 1053L1540 1054L1542.5 1053L1545 1052L1546 1053.3L1546.8 1056L1547.6 1059.5L1548.3 1063.5L1548.9 1067.7L1549.4 1071.6L1550 1074.9L1550.6 1077.2L1551.2 1078L1551.9 1077.5L1552.5 1075.9L1553.2 1073.6L1553.8 1070.7L1554.4 1067.3L1555.1 1063.7L1555.7 1059.9L1556.3 1056.3L1556.9 1052.9L1557.5 1050L1558.1 1047L1558.7 1044L1559.2 1041L1559.8 1038.1L1560.4 1035.2L1561 1032.5L1561.7 1029.9L1562.5 1027.5L1563.6 1024.6L1564.9 1021.5L1566.2 1018.8L1567.5 1016.9L1568.8 1016.2L1569.8 1017.4L1571 1020.1L1572.2 1023.7L1573.3 1027.7L1574.2 1031.3L1574.8 1034L1575 1035"/>
<path stroke="#1a8a1a" d="M968.8 852.5L969.4 852.9L971.3 854.1L973.9 855.8L976.8 857.7L979.8 859.6L982.5 861.2L985 862.7L987.5 864.1L990.1 865.5L992.6 866.9L995.1 868.4L997.5 870L999.7 871.7L1001.9 873.5L1004 875.4L1006.1 877.4L1008.1 879.3L1010 881.2L1011.8 883L1013.5 884.8L1015.2 886.6L1016.8 888.5L1018.4 890.4L1020 892.5L1021.5 894.7L1023.1 897.1L1024.6 899.5L1026 902L1027.4 904.6L1028.7 907.3L1030 910L1031.1 912.6L1032.2 915.2L1033.1 917.9L1034.1 920.6L1034.9 923.4L1035.8 926.4L1036.7 929.4L1037.5 932.5L1038.2 935L1038.8 937.7L1039.4 940.3L1040 943.1L1040.6 945.9L1041.2 948.8L1041.7 951.7L1042.3 954.7L1042.8 957.7L1043.4 960.7L1043.9 963.8L1044.5 966.9L1045 970L1045.5 972.7L1045.9 975.4L1046.4 978.2L1046.8 981.1L1047.2 984L1047.7 986.9L1048.1 989.8L1048.5 992.8L1049 995.8L1049.4 998.7L1049.8 1001.7L1050.2 1004.7L1050.6 1007.7L1051 1010.6L1051.4 1013.5L1051.8 1016.4L1052.1 1019.2L1052.5 1022L1052.9 1025L1053.2 1027.9L1053.6 1030.8L1053.9 1033.7L1054.2 1036.5L1054.5 1039.3L1054.8 1042.1L1055.1 1045L1055.4 1047.8L1055.8 1050.6L1056.1 1053.4L1056.4 1056.3L1056.8 1059.1L1057.1 1062.1L1057.5 1065L1057.9 1067.9L1058.3 1070.8L1058.7 1073.7L1059.1 1076.7L1059.5 1079.7L1059.9 1082.7L1060.4 1085.8L1060.8 1088.8L1061.2 1091.9L1061.7 1094.9L1062.2 1097.9L1062.6 1100.9L1063.1 1103.8L1063.6 1106.7L1064 1109.5L1064.5 1112.3L1065 1115L1065.6 1118.2L1066.2 1121.3L1066.8 1124.4L1067.3 1127.4L1068 1130.5L1068.6 1133.4L1069.2 1136.3L1069.8 1139.2L1070.5 1142L1071.1 1144.7L1071.8 1147.4L1072.5 1150L1073.4 1153.1L1074.3 1156.1L1075.2 1159.1L1076.1 1161.9L1077 1164.7L1078 1167.4L1079 1170L1080 1172.5L1081.2 1175.3L1082.3 1178.1L1083.5 1180.8L1084.7 1183.3L1086.1 1185.6L1087.5 1187.5L1089.2 1189.3L1091.1 1190.8L1093.1 1192L1095 1192.5L1097.5 1192L1100 1190.7L1102.5 1189.5L1104.6 1188.7L1106.7 1188.1L1108.8 1188L1110.9 1188.8L1112.9 1190.4L1115 1192.5L1116.4 1194.3L1117.9 1196.6L1119.3 1199.1L1120.7 1201.8L1122.1 1204.6L1123.6 1207.4L1125 1210L1126.4 1212.5L1127.9 1215L1129.3 1217.5L1130.7 1220L1132.1 1222.5L1133.6 1225L1135 1227.5L1136.4 1230L1137.8 1232.5L1139.3 1235.1L1140.7 1237.6L1142.1 1240.1L1143.5 1242.6L1145 1245L1146.4 1247.2L1147.8 1249.4L1149.3 1251.5L1150.7 1253.5L1152.2 1255.6L1153.6 1257.8L1155 1260L1156.5 1262.4L1157.9 1264.9L1159.3 1267.5L1160.7 1270L1162.1 1272.6L1163.5 1275.1L1165 1277.5L1166.4 1279.8L1167.8 1282.1L1169.1 1284.3L1170.5 1286.6L1172 1288.7L1173.5 1290.7L1175 1292.5L1176.9 1294.5L1178.9 1296.4L1181 1298L1183 1299.4L1185 1300.5L1187.5 1301.3L1189.9 1301.7L1192.5 1301.8L1194.9 1301.5L1197.5 1301L1200 1300.3L1202.5 1299.5L1204.8 1298.7L1207.1 1297.7L1209.3 1296.6L1211.2 1295L1212.8 1293L1214.1 1290.7L1215.3 1288L1216.4 1285.2L1217.5 1282.5L1218.6 1279.8L1219.5 1277L1220.5 1274L1221.5 1271.2L1222.6 1268.5L1223.8 1266.2L1225.1 1264.2L1226.6 1262.5L1228.2 1260.9L1230 1259.5L1232.3 1258.2L1234.9 1257.2L1237.6 1256.2L1240 1255L1242 1253.6L1243.9 1252.2L1245.7 1250.6L1247.5 1248.8L1249.1 1246.8L1250.7 1244.7L1252.1 1242.4L1253.6 1240L1255 1237.5L1256.2 1235.3L1257.3 1232.9L1258.4 1230.5L1259.4 1228L1260.5 1225.4L1261.5 1222.7L1262.5 1220L1263.4 1217.4L1264.3 1214.8L1265.1 1212.1L1265.9 1209.3L1266.8 1206.5L1267.6 1203.6L1268.4 1200.7L1269.2 1197.9L1270 1195L1270.8 1192.3L1271.5 1189.6L1272.3 1186.9L1273 1184.2L1273.8 1181.4L1274.5 1178.7L1275.3 1175.9L1276 1173.1L1276.8 1170.3L1277.5 1167.5L1278.2 1164.8L1278.9 1162.2L1279.5 1159.5L1280.2 1156.8L1280.9 1154.1L1281.5 1151.4L1282.2 1148.7L1282.9 1146L1283.6 1143.2L1284.3 1140.4L1285 1137.5L1285.7 1134.7L1286.4 1132L1287.2 1129.1L1287.9 1126.2L1288.7 1123.4L1289.5 1120.4L1290.3 1117.5L1291.1 1114.6L1291.9 1111.6L1292.6 1108.7L1293.4 1105.8L1294.2 1102.9L1295 1100L1295.8 1097.2L1296.5 1094.3L1297.3 1091.5L1298.1 1088.7L1298.8 1085.8L1299.6 1083L1300.3 1080.2L1301.1 1077.4L1301.9 1074.6L1302.7 1071.8L1303.4 1069L1304.2 1066.3L1305 1063.5L1305.8 1060.6L1306.6 1057.7L1307.4 1054.8L1308.2 1051.9L1309 1049L1309.8 1046.1L1310.6 1043.3L1311.5 1040.5L1312.3 1037.8L1313.2 1035.1L1314.1 1032.5L1315 1030L1316.1 1027L1317.3 1024L1318.4 1021.1L1319.6 1018.3L1320.8 1015.6L1322.1 1013.1L1323.5 1010.8L1325 1008.8L1327.1 1006.4L1329.4 1004.2L1331.7 1002.4L1334.1 1001.1L1336.2 1000.8L1338.6 1001.6L1341 1003.5L1343.1 1006L1345 1008.8L1346.2 1010.9L1347.1 1013.3L1347.9 1015.9L1348.6 1018.7L1349.2 1021.7L1350 1025L1350.5 1027.2L1351 1029.7L1351.6 1032.3L1352.1 1035L1352.6 1037.9L1353.1 1040.8L1353.6 1043.8L1354.1 1046.8L1354.7 1049.9L1355.2 1052.9L1355.7 1055.9L1356.3 1058.8L1356.8 1061.7L1357.4 1064.4L1358 1067L1358.7 1070L1359.5 1073L1360.3 1075.8L1361.1 1078.6L1361.9 1081.3L1362.7 1084L1363.5 1086.7L1364.3 1089.4L1365.2 1092.2L1366 1095L1366.8 1097.7L1367.6 1100.3L1368.4 1102.9L1369.2 1105.6L1370 1108.2L1370.8 1110.9L1371.6 1113.6L1372.4 1116.3L1373.3 1119.2L1374.1 1122L1375 1125L1375.7 1127.6L1376.5 1130.2L1377.2 1132.8L1378 1135.6L1378.8 1138.3L1379.6 1141.1L1380.4 1144L1381.2 1146.8L1382 1149.7L1382.8 1152.6L1383.6 1155.5L1384.4 1158.4L1385.2 1161.4L1385.9 1164.2L1386.7 1167.1L1387.5 1170L1388.2 1172.8L1389 1175.6L1389.7 1178.4L1390.5 1181.3L1391.2 1184.2L1392 1187L1392.7 1189.9L1393.4 1192.8L1394.2 1195.7L1394.9 1198.5L1395.6 1201.4L1396.4 1204.2L1397.1 1206.9L1397.8 1209.7L1398.6 1212.3L1399.3 1214.9L1400 1217.5L1400.8 1220.4L1401.7 1223.3L1402.5 1226.2L1403.3 1229L1404.1 1231.7L1404.9 1234.4L1405.8 1237.1L1406.6 1239.7L1407.4 1242.4L1408.3 1244.9L1409.1 1247.5L1410 1250L1411.1 1253L1412.2 1255.9L1413.3 1258.9L1414.4 1261.7L1415.5 1264.6L1416.7 1267.3L1417.8 1270L1418.9 1272.5L1420 1275L1421.2 1277.8L1422.4 1280.5L1423.6 1283.1L1424.9 1285.6L1426.1 1287.9L1427.5 1290L1429.4 1292.5L1431.4 1295L1433.3 1296.9L1435 1297.5L1436.5 1296.1L1437.7 1293.2L1438.8 1290L1439.4 1287.3L1439.9 1284.1L1440.4 1280.9L1440.8 1278.5L1441.2 1277.5L1441.8 1278.4L1442.2 1280.7L1442.8 1283.8L1443.2 1287.1L1443.8 1290L1444.1 1292.7L1444.2 1295.6L1444.5 1298.3L1445.1 1300.8L1446.2 1302.5L1448.3 1303.5L1451 1303.7L1454 1303.6L1457.1 1303.3L1460 1303L1462.6 1302.9L1465.2 1302.8L1467.7 1302.5L1470.2 1302.1L1472.5 1301.2L1474.7 1300L1476.8 1298.4L1478.7 1296.6L1480.6 1294.6L1482.5 1292.5L1484 1290.7L1485.6 1288.7L1487.1 1286.7L1488.5 1284.5L1489.9 1282.3L1491.3 1279.9L1492.5 1277.5L1493.6 1275L1494.7 1272.4L1495.7 1269.7L1496.6 1266.9L1497.5 1264.1L1498.3 1261.1L1499.2 1258.1L1500 1255L1500.7 1252.4L1501.4 1249.7L1502 1247L1502.7 1244.2L1503.3 1241.3L1503.9 1238.4L1504.5 1235.5L1505.2 1232.4L1505.7 1229.4L1506.3 1226.3L1506.9 1223.2L1507.5 1220L1508 1217.3L1508.5 1214.6L1508.9 1211.8L1509.4 1208.9L1509.9 1206L1510.3 1203.1L1510.8 1200.2L1511.2 1197.2L1511.7 1194.2L1512.1 1191.2L1512.5 1188.2L1513 1185.2L1513.4 1182.1L1513.8 1179.1L1514.2 1176.1L1514.6 1173L1515 1170L1515.4 1167.2L1515.7 1164.3L1516.1 1161.5L1516.4 1158.6L1516.8 1155.8L1517.1 1152.9L1517.5 1150L1517.8 1147.1L1518.1 1144.2L1518.5 1141.3L1518.8 1138.4L1519.1 1135.5L1519.4 1132.6L1519.7 1129.6L1520.1 1126.7L1520.4 1123.8L1520.7 1120.9L1521 1117.9L1521.2 1115L1521.5 1112.1L1521.8 1109.2L1522.1 1106.3L1522.3 1103.4L1522.6 1100.4L1522.9 1097.5L1523.1 1094.5L1523.4 1091.5L1523.6 1088.5L1523.9 1085.6L1524.1 1082.6L1524.3 1079.7L1524.6 1076.8L1524.8 1073.9L1525.1 1071L1525.3 1068.2L1525.5 1065.5L1525.8 1062.8L1526 1060.1L1526.2 1057.5L1526.5 1054.4L1526.8 1051.4L1527.1 1048.5L1527.4 1045.8L1527.7 1043L1528 1040.3L1528.3 1037.6L1528.6 1034.9L1528.9 1032.1L1529.1 1029.3L1529.4 1026.3L1529.7 1023.2L1530 1020L1530.2 1017.5L1530.4 1014.9L1530.6 1012.3L1530.8 1009.5L1531 1006.7L1531.2 1003.9L1531.4 1001L1531.6 998.1L1531.7 995.1L1531.9 992.1L1532.1 989.1L1532.3 986L1532.5 982.9L1532.7 979.9L1532.9 976.8L1533.1 973.7L1533.3 970.7L1533.5 967.6L1533.8 964.6L1534 961.6L1534.2 958.6L1534.5 955.7L1534.7 952.8L1535 950L1535.3 947L1535.6 944L1535.9 941.1L1536.2 938.1L1536.6 935.1L1536.9 932.1L1537.2 929.2L1537.6 926.2L1537.9 923.3L1538.3 920.4L1538.6 917.5L1539 914.6L1539.4 911.7L1539.8 908.9L1540.1 906.1L1540.5 903.3L1540.9 900.6L1541.3 897.9L1541.7 895.2L1542.1 892.6L1542.5 890L1543 886.9L1543.5 883.8L1544 880.7L1544.5 877.7L1545 874.8L1545.5 871.9L1546.1 869L1546.6 866.2L1547.2 863.4L1547.7 860.6L1548.3 857.9L1548.8 855.2L1549.4 852.6L1550 850L1550.7 847L1551.4 844.1L1552.1 841.2L1552.8 838.3L1553.6 835.6L1554.3 832.8L1555.1 830.2L1555.9 827.5L1556.7 825L1557.5 822.5L1558.5 819.5L1559.5 816.4L1560.5 813.4L1561.6 810.5L1562.7 807.9L1563.8 805.6L1565 803.8L1566.6 802L1568.2 800.8L1570 800L1572.5 799.7L1575 799.9L1576.2 800"/>
<path stroke="#2020ff" d="M968.8 765.5L969.3 765.8L970.6 766.7L972.7 768.1L975.3 769.9L978.3 771.8L981.4 774L984.5 776.1L987.5 778.2L990 780L992.3 781.7L994.7 783.5L997 785.2L999.3 787L1001.6 788.8L1003.8 790.6L1006 792.5L1008.1 794.3L1010 796.2L1012.1 798.5L1014 800.7L1015.8 803L1017.6 805.4L1019.3 807.7L1020.9 810.1L1022.5 812.5L1024.1 814.9L1025.6 817.3L1027.1 819.7L1028.5 822.2L1029.9 824.7L1031.2 827.3L1032.5 830L1033.6 832.6L1034.6 835.2L1035.6 837.9L1036.5 840.7L1037.4 843.5L1038.3 846.4L1039.1 849.4L1040 852.5L1040.7 855.1L1041.4 857.8L1042 860.5L1042.7 863.3L1043.3 866.2L1043.9 869.1L1044.5 872L1045.2 875.1L1045.7 878.1L1046.3 881.2L1046.9 884.3L1047.5 887.5L1048 890.2L1048.5 892.9L1048.9 895.7L1049.4 898.5L1049.8 901.4L1050.3 904.2L1050.7 907.2L1051.2 910.1L1051.6 913.1L1052 916.1L1052.5 919.1L1052.9 922.1L1053.3 925.2L1053.7 928.2L1054.2 931.3L1054.6 934.4L1055 937.5L1055.4 940.3L1055.7 943.2L1056.1 946.1L1056.5 949L1056.8 951.9L1057.2 954.9L1057.6 957.9L1057.9 960.9L1058.3 963.9L1058.6 966.9L1059 969.9L1059.3 972.9L1059.7 976L1060 979L1060.4 982L1060.7 985.1L1061.1 988.1L1061.4 991.1L1061.8 994.1L1062.1 997L1062.5 1000L1062.9 1002.9L1063.2 1005.8L1063.6 1008.7L1063.9 1011.6L1064.2 1014.6L1064.6 1017.5L1064.9 1020.4L1065.3 1023.3L1065.6 1026.3L1066 1029.2L1066.3 1032.1L1066.7 1035L1067 1037.8L1067.4 1040.7L1067.8 1043.5L1068.1 1046.3L1068.5 1049.1L1068.9 1051.9L1069.2 1054.6L1069.6 1057.3L1070 1060L1070.4 1063L1070.9 1066L1071.3 1068.9L1071.8 1071.9L1072.2 1074.7L1072.7 1077.6L1073.2 1080.5L1073.6 1083.3L1074.1 1086.1L1074.6 1088.8L1075 1091.6L1075.5 1094.3L1076 1097L1076.5 1099.7L1077 1102.4L1077.5 1105L1078.1 1108.1L1078.7 1111.2L1079.3 1114.4L1080 1117.5L1080.6 1120.5L1081.2 1123.5L1081.9 1126.5L1082.5 1129.4L1083.1 1132.2L1083.8 1134.9L1084.4 1137.5L1085 1140L1085.7 1142.9L1086.4 1145.7L1087 1148.4L1087.7 1151L1088.4 1153.4L1089.1 1155.6L1090 1157.5L1091.6 1160.4L1093.3 1162.8L1095 1163.8L1096.5 1162.8L1098.1 1160.6L1099.7 1157.7L1101.2 1155L1102.5 1152.5L1103.7 1149.7L1104.9 1146.9L1106.1 1144.4L1107.5 1142.5L1109.9 1140.6L1112.5 1140L1114.6 1140.8L1116.8 1142.6L1118.8 1145L1119.8 1146.8L1120.8 1149L1121.7 1151.5L1122.5 1154.1L1123.3 1156.9L1124.1 1159.7L1125 1162.5L1125.8 1165.1L1126.7 1167.7L1127.5 1170.4L1128.3 1173.2L1129.2 1176L1130 1178.9L1130.9 1181.8L1131.7 1184.6L1132.5 1187.5L1133.3 1190.2L1134 1192.9L1134.7 1195.6L1135.4 1198.4L1136.2 1201.1L1136.9 1203.9L1137.6 1206.6L1138.4 1209.4L1139.2 1212.2L1140 1215L1140.8 1217.7L1141.7 1220.5L1142.5 1223.3L1143.4 1226.1L1144.3 1228.9L1145.2 1231.8L1146.1 1234.5L1147.1 1237.3L1148 1239.9L1149 1242.5L1150 1245L1151.2 1247.8L1152.4 1250.4L1153.6 1253L1154.8 1255.5L1156.1 1258L1157.4 1260.4L1158.7 1262.7L1160 1265L1161.4 1267.3L1162.7 1269.6L1164.1 1271.9L1165.6 1274L1167 1276.1L1168.5 1278.1L1170 1280L1171.9 1282.3L1173.8 1284.7L1175.8 1286.8L1177.9 1288.5L1180 1289.5L1182.4 1289.8L1185 1289.4L1187.6 1288.6L1190 1287.5L1192.1 1286.3L1194.2 1284.7L1196.2 1282.9L1198.1 1280.9L1200 1278.8L1201.6 1276.8L1203.1 1274.7L1204.6 1272.4L1206 1270.1L1207.4 1267.6L1208.8 1265.1L1210 1262.5L1211.1 1259.9L1212.2 1257.1L1213.2 1254.2L1214.1 1251.3L1215 1248.3L1215.8 1245.4L1216.7 1242.6L1217.5 1240L1218.4 1237.2L1219.1 1234.4L1219.9 1231.7L1220.7 1229.2L1221.5 1226.9L1222.5 1225L1224 1222.8L1225.6 1221.1L1227.5 1220L1229.8 1220L1232.4 1220.8L1235 1221.2L1237.5 1221.2L1240.1 1220.9L1242.5 1220L1244.5 1218.7L1246.4 1216.9L1248.3 1214.8L1250 1212.5L1251.4 1210.4L1252.7 1208.2L1254 1205.7L1255.2 1203.1L1256.4 1200.4L1257.5 1197.5L1258.4 1195.1L1259.2 1192.6L1260 1190.1L1260.7 1187.4L1261.5 1184.6L1262.2 1181.8L1262.9 1178.9L1263.6 1175.9L1264.3 1173L1265 1170L1265.6 1167.3L1266.2 1164.6L1266.8 1161.8L1267.4 1159L1268 1156.1L1268.6 1153.2L1269.1 1150.3L1269.7 1147.4L1270.3 1144.4L1270.8 1141.4L1271.4 1138.5L1271.9 1135.5L1272.5 1132.5L1273 1129.7L1273.5 1127L1274 1124.2L1274.5 1121.3L1275 1118.5L1275.5 1115.6L1276 1112.8L1276.5 1109.9L1277 1107L1277.5 1104.2L1278 1101.3L1278.5 1098.5L1279 1095.6L1279.5 1092.8L1280 1090L1280.5 1087.1L1281.1 1084.2L1281.6 1081.2L1282.1 1078.3L1282.7 1075.4L1283.2 1072.5L1283.8 1069.6L1284.3 1066.7L1284.8 1063.8L1285.4 1061L1285.9 1058.2L1286.4 1055.4L1287 1052.7L1287.5 1050L1288.1 1047.1L1288.6 1044.4L1289.2 1041.7L1289.8 1039L1290.3 1036.4L1290.9 1033.8L1291.4 1031.2L1292 1028.5L1292.6 1025.8L1293.2 1022.9L1293.8 1020L1294.3 1017.5L1294.8 1014.9L1295.3 1012.2L1295.8 1009.5L1296.3 1006.8L1296.9 1004.1L1297.4 1001.3L1297.9 998.5L1298.5 995.6L1299 992.7L1299.6 989.8L1300.1 986.9L1300.7 984L1301.3 981L1301.9 978L1302.5 975L1303 972.3L1303.6 969.5L1304.1 966.7L1304.7 963.8L1305.3 960.8L1305.8 957.9L1306.4 954.8L1307 951.8L1307.6 948.8L1308.2 945.7L1308.8 942.7L1309.4 939.7L1310 936.7L1310.6 933.7L1311.2 930.8L1311.9 928L1312.5 925.2L1313.1 922.5L1313.7 919.9L1314.4 917.4L1315 915L1315.9 911.8L1316.7 908.6L1317.5 905.5L1318.3 902.5L1319.1 899.5L1320 896.7L1320.9 894L1321.8 891.5L1322.8 889.1L1323.9 887L1325 885L1326.8 882.3L1328.9 879.8L1330.9 877.7L1333 876.2L1335 875.8L1336.9 876.3L1338.7 877.7L1340.5 879.8L1342.2 882.3L1343.8 885L1344.7 886.9L1345.5 889L1346.3 891.2L1347 893.7L1347.7 896.3L1348.3 899.1L1348.9 901.9L1349.5 904.8L1350.1 907.8L1350.7 910.9L1351.3 913.9L1351.9 917L1352.5 920L1353.1 922.6L1353.6 925.3L1354.2 928L1354.7 930.8L1355.3 933.7L1355.8 936.6L1356.4 939.6L1356.9 942.5L1357.5 945.5L1358 948.5L1358.6 951.6L1359.1 954.6L1359.6 957.6L1360.1 960.6L1360.6 963.6L1361.1 966.5L1361.6 969.4L1362.1 972.2L1362.5 975L1363 977.9L1363.4 980.8L1363.8 983.6L1364.2 986.4L1364.5 989.1L1364.9 991.9L1365.3 994.6L1365.6 997.3L1365.9 1000L1366.3 1002.8L1366.7 1005.6L1367 1008.3L1367.4 1011.2L1367.8 1014.1L1368.3 1017L1368.8 1020L1369.2 1022.6L1369.6 1025.3L1370.1 1028L1370.6 1030.8L1371 1033.6L1371.5 1036.4L1372 1039.2L1372.6 1042.1L1373.1 1045L1373.6 1047.9L1374.2 1050.8L1374.7 1053.7L1375.3 1056.6L1375.8 1059.5L1376.3 1062.5L1376.9 1065.4L1377.4 1068.3L1377.9 1071.2L1378.5 1074L1379 1076.9L1379.5 1079.7L1380 1082.5L1380.5 1085.4L1381 1088.4L1381.5 1091.3L1382 1094.2L1382.5 1097.1L1383 1100.1L1383.5 1103L1384 1105.9L1384.5 1108.8L1385 1111.7L1385.5 1114.5L1386 1117.4L1386.5 1120.3L1387 1123.1L1387.5 1126L1388 1128.8L1388.5 1131.6L1389 1134.4L1389.5 1137.2L1390 1140L1390.6 1143L1391.1 1146.1L1391.7 1149.1L1392.3 1152.1L1392.9 1155.1L1393.4 1158.1L1394 1161.1L1394.6 1164L1395.2 1167L1395.8 1169.9L1396.4 1172.8L1397 1175.7L1397.6 1178.6L1398.2 1181.5L1398.8 1184.3L1399.4 1187.2L1400 1190L1400.6 1193L1401.3 1195.9L1401.9 1198.9L1402.6 1201.8L1403.2 1204.7L1403.9 1207.6L1404.5 1210.5L1405.2 1213.4L1405.8 1216.2L1406.5 1219L1407.2 1221.8L1407.9 1224.6L1408.6 1227.3L1409.3 1229.9L1410 1232.5L1410.8 1235.5L1411.7 1238.5L1412.5 1241.4L1413.4 1244.3L1414.2 1247.2L1415.1 1250L1416 1252.7L1417 1255.3L1417.9 1257.8L1418.9 1260.2L1420 1262.5L1421.3 1265L1422.8 1267.3L1424.2 1269.4L1425.7 1271.5L1427.2 1273.5L1428.6 1275.5L1430 1277.5L1431.6 1280.2L1433.1 1282.9L1434.6 1285.5L1436 1287.9L1437.5 1290L1439.2 1292.3L1440.9 1294.3L1442.5 1295L1443.7 1294L1444.8 1291.8L1446 1289.4L1447.5 1287.5L1449.7 1286.6L1452.3 1286.2L1455 1285.9L1457.5 1285L1459.6 1283.5L1461.6 1281.7L1463.6 1279.6L1465.5 1277.4L1467.5 1275L1469.1 1273.1L1470.7 1271.1L1472.4 1269.1L1474.1 1266.9L1475.7 1264.7L1477.3 1262.4L1478.7 1260L1480 1257.5L1481.1 1255L1482.1 1252.4L1483 1249.8L1483.7 1247.1L1484.5 1244.3L1485.2 1241.4L1485.9 1238.5L1486.7 1235.5L1487.5 1232.5L1488.2 1229.9L1489 1227.2L1489.8 1224.5L1490.6 1221.7L1491.4 1218.9L1492.2 1216L1493 1213.1L1493.8 1210.2L1494.6 1207.2L1495.4 1204.2L1496.1 1201.2L1496.8 1198.1L1497.5 1195L1498.1 1192.3L1498.6 1189.5L1499.1 1186.7L1499.6 1183.9L1500 1181L1500.5 1178.1L1500.9 1175.2L1501.3 1172.3L1501.8 1169.4L1502.2 1166.4L1502.6 1163.4L1503 1160.4L1503.4 1157.3L1503.8 1154.3L1504.2 1151.2L1504.6 1148.1L1505 1145L1505.4 1142.2L1505.8 1139.3L1506.1 1136.4L1506.5 1133.5L1506.9 1130.6L1507.2 1127.7L1507.6 1124.7L1508 1121.7L1508.3 1118.7L1508.7 1115.7L1509.1 1112.7L1509.4 1109.7L1509.8 1106.6L1510.1 1103.6L1510.5 1100.6L1510.8 1097.5L1511.2 1094.5L1511.5 1091.5L1511.8 1088.5L1512.2 1085.5L1512.5 1082.5L1512.8 1079.5L1513.1 1076.6L1513.5 1073.6L1513.8 1070.7L1514.1 1067.7L1514.4 1064.8L1514.7 1061.8L1515 1058.9L1515.3 1055.9L1515.6 1053L1515.9 1050L1516.2 1047L1516.4 1044.1L1516.7 1041.1L1517 1038.1L1517.3 1035.1L1517.6 1032.1L1517.9 1029.1L1518.2 1026.1L1518.5 1023.1L1518.8 1020L1519 1017.2L1519.3 1014.3L1519.5 1011.5L1519.8 1008.7L1520.1 1005.8L1520.3 1003L1520.6 1000.1L1520.8 997.3L1521.1 994.4L1521.4 991.5L1521.6 988.6L1521.9 985.7L1522.1 982.8L1522.4 979.9L1522.6 977L1522.9 974.1L1523.2 971.1L1523.4 968.1L1523.7 965.2L1523.9 962.2L1524.2 959.2L1524.5 956.1L1524.7 953.1L1525 950L1525.2 947.2L1525.5 944.4L1525.7 941.6L1526 938.8L1526.2 935.9L1526.5 933L1526.7 930.1L1526.9 927.2L1527.2 924.3L1527.4 921.3L1527.7 918.3L1527.9 915.4L1528.2 912.4L1528.4 909.4L1528.7 906.4L1528.9 903.4L1529.2 900.5L1529.4 897.5L1529.7 894.5L1529.9 891.5L1530.2 888.6L1530.4 885.6L1530.7 882.7L1531 879.7L1531.2 876.8L1531.5 873.9L1531.7 871L1532 868.2L1532.2 865.3L1532.5 862.5L1532.8 859.5L1533.1 856.5L1533.3 853.4L1533.6 850.4L1533.9 847.4L1534.2 844.3L1534.5 841.3L1534.8 838.2L1535.1 835.2L1535.4 832.2L1535.7 829.1L1536 826.1L1536.3 823.2L1536.6 820.2L1536.9 817.3L1537.1 814.4L1537.4 811.5L1537.7 808.7L1538 805.9L1538.3 803.1L1538.6 800.4L1538.9 797.7L1539.2 795.1L1539.4 792.5L1539.7 790L1540 787.5L1540.4 784.1L1540.8 780.4L1541.3 776.7L1541.7 772.8L1542.2 769L1542.7 765.3L1543.2 761.7L1543.6 758.4L1544 755.4L1544.3 752.7L1544.6 750.6L1544.8 748.9L1545 747.9L1545 747.5"/>
</g>
<g font-family="'Liberation Sans', Arial, sans-serif" font-size="25.5" fill="#484848">
<text x="1034.2" y="1356.5" text-anchor="middle">800</text>
<text x="1169.7" y="1356.5" text-anchor="middle">700</text>
<text x="1305.2" y="1356.5" text-anchor="middle">600</text>
<text x="1440.6" y="1356.5" text-anchor="middle">500</text>
<text x="1576.0" y="1356.5" text-anchor="middle">400</text>
<text x="955" y="1333.2" text-anchor="end">0</text>
<text x="955" y="1204.2" text-anchor="end">10</text>
<text x="955" y="1075.2" text-anchor="end">20</text>
<text x="955" y="946.2" text-anchor="end">30</text>
<text x="955" y="817.2" text-anchor="end">40</text>
</g>
<g stroke="#808080" stroke-width="9" fill="none">
<path stroke-dasharray="8.6 8.5" d="M1713.4 363.3H1931"/>
<path stroke-dasharray="8.6 8.47" d="M1710.2 368.3V1352"/>
<path stroke-dasharray="8.6 8.47" d="M1924 374.6V1352"/>
<path stroke-dasharray="8.6 8.35" d="M1712.3 1349.7H1931"/>
</g>
<g stroke="#808080" stroke-width="6.2" fill="none" stroke-linecap="butt" stroke-linejoin="miter">
<path d="M1628 944L1696 859.5"/>
<path stroke-width="6.8" d="M1672 869L1698.5 857.5L1695 886.5"/>
<path stroke-width="6.6" d="M1629.5 922.5L1624.5 948L1653 940"/>
</g>
<rect x="254" y="33.5" width="1677.2" height="1350.5" fill="none" stroke="#000" stroke-width="5.7"/>
<line x1="1931.2" y1="30" x2="1931.2" y2="1387.5" stroke="#222" stroke-width="5.7"/>
<rect x="728.9" y="46.2" width="432.6" height="244.3" fill="#fff" stroke="#555" stroke-width="3.5"/>
<g stroke-width="5.4" fill="none">
<line x1="734.5" y1="93.7" x2="867.5" y2="93.7" stroke="#ff0000"/>
<line x1="734.5" y1="172.4" x2="867.5" y2="172.4" stroke="#008000"/>
<line x1="734.5" y1="251.1" x2="867.5" y2="251.1" stroke="#0000ff"/>
</g>
<g font-family="'Liberation Sans', sans-serif" font-size="57.5" fill="#000" stroke="#fff" stroke-width="0.6">
<text transform="translate(880.0 114.0) scale(1 1.04)">(1) 500<tspan font-size="63" dy="-3.5" dx="-3.2">°</tspan><tspan dy="3.5" dx="-2.8">C</tspan></text>
<text transform="translate(880.0 193.0) scale(1 1.04)">(2) 750<tspan font-size="63" dy="-3.5" dx="-3.2">°</tspan><tspan dy="3.5" dx="-2.8">C</tspan></text>
<text transform="translate(880.0 272.0) scale(1 1.04)">(3) 1000<tspan font-size="63" dy="-3.5" dx="-3.2">°</tspan><tspan dy="3.5" dx="-2.8">C</tspan></text>
<text transform="translate(303.0 457.5) scale(1 1.04)">(3)</text>
<text transform="translate(303.0 615.5) scale(1 1.04)">(2)</text>
<text transform="translate(301.0 836.5) scale(1 1.04)">(1)</text>
<text transform="translate(275.3 1457.5) scale(1 1.04)" text-anchor="middle">4000</text>
<text transform="translate(502.7 1457.5) scale(1 1.04)" text-anchor="middle">3500</text>
<text transform="translate(730.1 1457.5) scale(1 1.04)" text-anchor="middle">3000</text>
<text transform="translate(957.5 1457.5) scale(1 1.04)" text-anchor="middle">2500</text>
<text transform="translate(1184.9 1457.5) scale(1 1.04)" text-anchor="middle">2000</text>
<text transform="translate(1412.3 1457.5) scale(1 1.04)" text-anchor="middle">1500</text>
<text transform="translate(1639.7 1457.5) scale(1 1.04)" text-anchor="middle">1000</text>
<text transform="translate(1867.1 1457.5) scale(1 1.04)" text-anchor="middle">500</text>
<text transform="translate(225.0 1402.3) scale(1 1.04)" text-anchor="end">0</text>
<text transform="translate(225.0 1156.5) scale(1 1.04)" text-anchor="end">10</text>
<text transform="translate(225.0 910.7) scale(1 1.04)" text-anchor="end">20</text>
<text transform="translate(225.0 664.9) scale(1 1.04)" text-anchor="end">30</text>
<text transform="translate(225.0 419.1) scale(1 1.04)" text-anchor="end">40</text>
<text transform="translate(225.0 173.3) scale(1 1.04)" text-anchor="end">50</text>
</g>
<g font-family="'Liberation Sans', sans-serif" font-size="72.5" fill="#000" stroke="#fff" stroke-width="0.6">
<text transform="translate(460 209.5) scale(1.13 1)" font-family="'Liberation Serif', 'DejaVu Serif', serif" font-size="73">ν</text>
<text x="495.5" y="209.5">(O–H)</text>
<text x="1247" y="207" font-family="'Liberation Serif', 'DejaVu Serif', serif" font-size="72">δ</text>
<text x="1280.5" y="207">(H<tspan font-size="42" dy="24">2</tspan><tspan dy="-24">O)</tspan></text>
<text x="1442" y="130" font-family="'Liberation Serif', 'DejaVu Serif', serif" font-size="72">δ</text>
<text x="1476" y="130">(Ga–O–H)</text>
</g>
<g font-family="'Liberation Sans', sans-serif" font-size="71.2" fill="#000" stroke="#fff" stroke-width="0.6">
<text x="791.4" y="1575">Wavenumber, cm<tspan x="1339" y="1547" font-size="52">−</tspan><tspan x="1368.5" y="1540.6" font-size="41">1</tspan></text>
<text transform="translate(81.5 956) rotate(-90)" font-size="70.9">Transmittance, %</text>
</g>
</g>
</svg>
</body>
</html>
